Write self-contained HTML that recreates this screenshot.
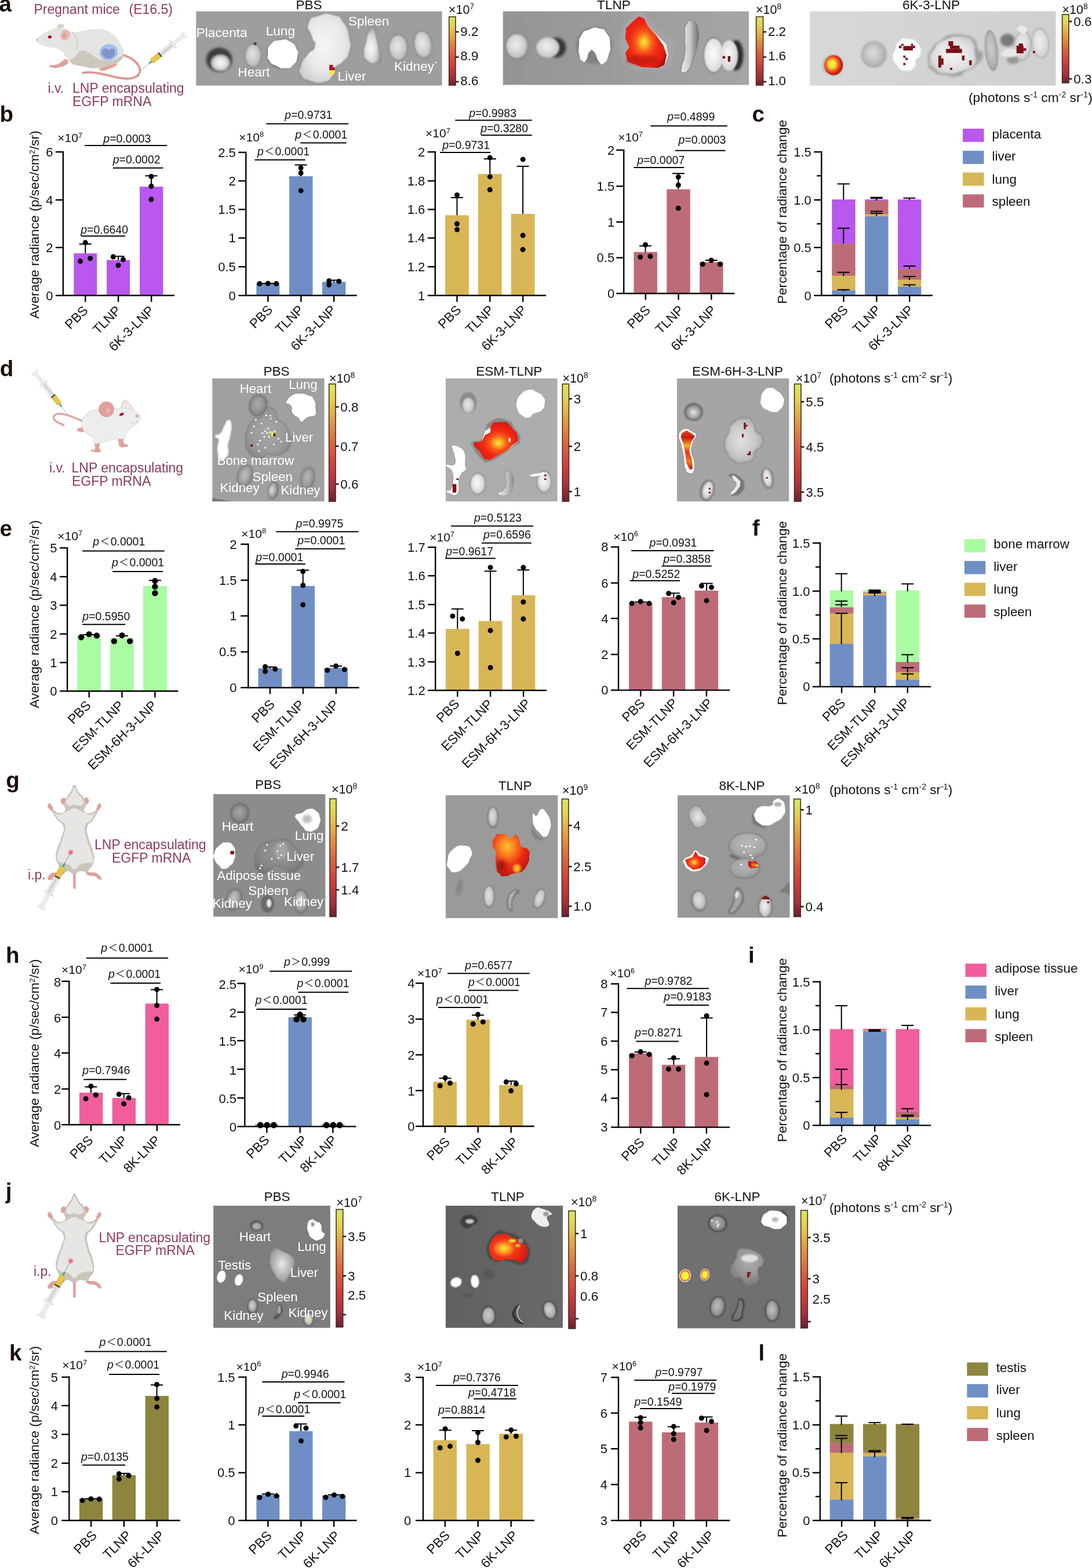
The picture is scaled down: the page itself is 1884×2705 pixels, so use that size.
<!DOCTYPE html>
<html lang="en"><head><meta charset="utf-8"><title>Figure</title>
<style>
html,body{margin:0;padding:0;background:#fff}
svg{display:block}
text{font-family:"Liberation Sans",sans-serif}
</style></head><body>
<svg width="1884" height="2705" viewBox="0 0 1884 2705" fill="#111">
<defs>
<linearGradient id="cb" x1="0" y1="0" x2="0" y2="1">
<stop offset="0" stop-color="#d9e860"/><stop offset="0.12" stop-color="#e3d450"/><stop offset="0.3" stop-color="#e3a043"/>
<stop offset="0.5" stop-color="#dc683e"/><stop offset="0.7" stop-color="#cf3f3c"/><stop offset="0.88" stop-color="#a62f3a"/><stop offset="1" stop-color="#6e1f2c"/>
</linearGradient>
<filter id="bl0" x="-30%" y="-30%" width="160%" height="160%"><feGaussianBlur stdDeviation="7"/></filter>
<radialGradient id="rg1" cx="0.5" cy="0.5" r="0.5"><stop offset="0" stop-color="rgb(250,250,250)"/><stop offset="0.6" stop-color="rgb(222,222,222)"/><stop offset="1" stop-color="rgb(160,160,160)"/></radialGradient>
<filter id="bl1" x="-30%" y="-30%" width="160%" height="160%"><feGaussianBlur stdDeviation="5"/></filter>
<filter id="bl2" x="-30%" y="-30%" width="160%" height="160%"><feGaussianBlur stdDeviation="7.5"/></filter>
<radialGradient id="rg2" cx="0.45" cy="0.45" r="0.6"><stop offset="0" stop-color="rgb(228,228,228)"/><stop offset="0.55" stop-color="rgb(204,204,204)"/><stop offset="1" stop-color="rgb(180,180,180)"/></radialGradient>
<filter id="bl3" x="-30%" y="-30%" width="160%" height="160%"><feGaussianBlur stdDeviation="2"/></filter>
<filter id="bl4" x="-30%" y="-30%" width="160%" height="160%"><feGaussianBlur stdDeviation="6"/></filter>
<filter id="bl5" x="-30%" y="-30%" width="160%" height="160%"><feGaussianBlur stdDeviation="10"/></filter>
<radialGradient id="rg3" cx="0.5" cy="0.45" r="0.62"><stop offset="0" stop-color="rgb(246,246,246)"/><stop offset="0.6" stop-color="rgb(232,232,232)"/><stop offset="1" stop-color="rgb(205,205,205)"/></radialGradient>
<filter id="bl6" x="-30%" y="-30%" width="160%" height="160%"><feGaussianBlur stdDeviation="4"/></filter>
<radialGradient id="rg4" cx="0.4" cy="0.6" r="0.6"><stop offset="0" stop-color="rgb(250,250,250)"/><stop offset="0.6" stop-color="rgb(215,215,215)"/><stop offset="1" stop-color="rgb(150,150,150)"/></radialGradient>
<filter id="bl7" x="-30%" y="-30%" width="160%" height="160%"><feGaussianBlur stdDeviation="3"/></filter>
<radialGradient id="rg5" cx="0.45" cy="0.45" r="0.6"><stop offset="0" stop-color="rgb(232,232,232)"/><stop offset="0.55" stop-color="rgb(208,208,208)"/><stop offset="1" stop-color="rgb(185,185,185)"/></radialGradient>
<radialGradient id="rg6" cx="0.45" cy="0.45" r="0.6"><stop offset="0" stop-color="rgb(235,235,235)"/><stop offset="0.55" stop-color="rgb(210,210,210)"/><stop offset="1" stop-color="rgb(185,185,185)"/></radialGradient>
<radialGradient id="rg7" cx="0.45" cy="0.45" r="0.6"><stop offset="0" stop-color="rgb(240,240,240)"/><stop offset="0.55" stop-color="rgb(212,212,212)"/><stop offset="1" stop-color="rgb(185,185,185)"/></radialGradient>
<filter id="bl8" x="-30%" y="-30%" width="160%" height="160%"><feGaussianBlur stdDeviation="8"/></filter>
<radialGradient id="rg8" cx="0.45" cy="0.45" r="0.6"><stop offset="0" stop-color="rgb(242,242,242)"/><stop offset="0.55" stop-color="rgb(216,216,216)"/><stop offset="1" stop-color="rgb(190,190,190)"/></radialGradient>
<radialGradient id="rg9" cx="0.45" cy="0.5" r="0.62"><stop offset="0" stop-color="#f4ee3c"/><stop offset="0.14" stop-color="#fdb024"/><stop offset="0.32" stop-color="#fa5a1a"/><stop offset="0.55" stop-color="#f02a14"/><stop offset="0.85" stop-color="#e01c12"/><stop offset="1" stop-color="#9c120e"/></radialGradient>
<linearGradient id="lg10" x1="0" y1="0" x2="1" y2="0"><stop offset="0" stop-color="rgb(235,235,235)"/><stop offset="0.5" stop-color="rgb(200,200,200)"/><stop offset="1" stop-color="rgb(110,110,110)"/></linearGradient>
<radialGradient id="rg11" cx="0.45" cy="0.45" r="0.6"><stop offset="0" stop-color="rgb(252,252,252)"/><stop offset="0.55" stop-color="rgb(233,233,233)"/><stop offset="1" stop-color="rgb(215,215,215)"/></radialGradient>
<radialGradient id="rg12" cx="0.45" cy="0.45" r="0.6"><stop offset="0" stop-color="rgb(250,250,250)"/><stop offset="0.55" stop-color="rgb(227,227,227)"/><stop offset="1" stop-color="rgb(205,205,205)"/></radialGradient>
<radialGradient id="rg13" cx="0.42" cy="0.45" r="0.6"><stop offset="0" stop-color="#f6f03c"/><stop offset="0.3" stop-color="#f6e03a"/><stop offset="0.5" stop-color="#f5821f"/><stop offset="0.75" stop-color="#e0261a"/><stop offset="1" stop-color="#a8140f"/></radialGradient>
<radialGradient id="rg14" cx="0.45" cy="0.45" r="0.6"><stop offset="0" stop-color="rgb(222,222,222)"/><stop offset="0.55" stop-color="rgb(196,196,196)"/><stop offset="1" stop-color="rgb(170,170,170)"/></radialGradient>
<radialGradient id="rg15" cx="0.5" cy="0.5" r="0.6"><stop offset="0" stop-color="rgb(245,245,245)"/><stop offset="0.7" stop-color="rgb(222,222,222)"/><stop offset="1" stop-color="rgb(190,190,190)"/></radialGradient>
<radialGradient id="rg16" cx="0.45" cy="0.45" r="0.6"><stop offset="0" stop-color="rgb(205,205,205)"/><stop offset="0.55" stop-color="rgb(185,185,185)"/><stop offset="1" stop-color="rgb(165,165,165)"/></radialGradient>
<radialGradient id="rg17" cx="0.45" cy="0.45" r="0.6"><stop offset="0" stop-color="rgb(240,240,240)"/><stop offset="0.55" stop-color="rgb(220,220,220)"/><stop offset="1" stop-color="rgb(200,200,200)"/></radialGradient>
<radialGradient id="rg18" cx="0.45" cy="0.45" r="0.6"><stop offset="0" stop-color="rgb(240,240,240)"/><stop offset="0.55" stop-color="rgb(222,222,222)"/><stop offset="1" stop-color="rgb(205,205,205)"/></radialGradient>
<filter id="bl9" x="-30%" y="-30%" width="160%" height="160%"><feGaussianBlur stdDeviation="12.0"/></filter>
<radialGradient id="rg19" cx="0.45" cy="0.45" r="0.6"><stop offset="0" stop-color="rgb(172,172,172)"/><stop offset="0.55" stop-color="rgb(150,150,150)"/><stop offset="1" stop-color="rgb(128,128,128)"/></radialGradient>
<radialGradient id="rg20" cx="0.5" cy="0.5" r="0.6"><stop offset="0" stop-color="rgb(168,168,168)"/><stop offset="0.7" stop-color="rgb(152,152,152)"/><stop offset="1" stop-color="rgb(132,132,132)"/></radialGradient>
<radialGradient id="rg21" cx="0.45" cy="0.45" r="0.6"><stop offset="0" stop-color="rgb(195,195,195)"/><stop offset="0.55" stop-color="rgb(165,165,165)"/><stop offset="1" stop-color="rgb(135,135,135)"/></radialGradient>
<filter id="bl10" x="-30%" y="-30%" width="160%" height="160%"><feGaussianBlur stdDeviation="10.5"/></filter>
<radialGradient id="rg22" cx="0.35" cy="0.5" r="0.6"><stop offset="0" stop-color="rgb(225,225,225)"/><stop offset="0.55" stop-color="rgb(177,177,177)"/><stop offset="1" stop-color="rgb(130,130,130)"/></radialGradient>
<radialGradient id="rg23" cx="0.45" cy="0.45" r="0.6"><stop offset="0" stop-color="rgb(185,185,185)"/><stop offset="0.55" stop-color="rgb(160,160,160)"/><stop offset="1" stop-color="rgb(135,135,135)"/></radialGradient>
<radialGradient id="rg24" cx="0.45" cy="0.45" r="0.6"><stop offset="0" stop-color="rgb(235,235,235)"/><stop offset="0.55" stop-color="rgb(210,210,210)"/><stop offset="1" stop-color="rgb(185,185,185)"/></radialGradient>
<radialGradient id="rg25" cx="0.55" cy="0.55" r="0.6"><stop offset="0" stop-color="#f4ee3c"/><stop offset="0.14" stop-color="#fdb024"/><stop offset="0.32" stop-color="#fa5a1a"/><stop offset="0.55" stop-color="#f02a14"/><stop offset="0.85" stop-color="#e01c12"/><stop offset="1" stop-color="#9c120e"/></radialGradient>
<filter id="bl11" x="-30%" y="-30%" width="160%" height="160%"><feGaussianBlur stdDeviation="9.0"/></filter>
<radialGradient id="rg26" cx="0.45" cy="0.45" r="0.6"><stop offset="0" stop-color="rgb(250,250,250)"/><stop offset="0.55" stop-color="rgb(227,227,227)"/><stop offset="1" stop-color="rgb(205,205,205)"/></radialGradient>
<linearGradient id="lg27" x1="0" y1="0" x2="1" y2="0"><stop offset="0" stop-color="rgb(235,235,235)"/><stop offset="0.6" stop-color="rgb(190,190,190)"/><stop offset="1" stop-color="rgb(140,140,140)"/></linearGradient>
<radialGradient id="rg28" cx="0.45" cy="0.45" r="0.6"><stop offset="0" stop-color="rgb(250,250,250)"/><stop offset="0.55" stop-color="rgb(227,227,227)"/><stop offset="1" stop-color="rgb(205,205,205)"/></radialGradient>
<radialGradient id="rg29" cx="0.5" cy="0.5" r="0.55"><stop offset="0" stop-color="rgb(245,245,245)"/><stop offset="0.3" stop-color="rgb(200,200,200)"/><stop offset="1" stop-color="rgb(130,130,130)"/></radialGradient>
<linearGradient id="lg30" x1="0" y1="0" x2="0" y2="1"><stop offset="0" stop-color="#f04a18"/><stop offset="0.18" stop-color="#c41a12"/><stop offset="0.4" stop-color="#f8b028"/><stop offset="0.55" stop-color="#e8321a"/><stop offset="0.8" stop-color="#f27a1e"/><stop offset="1" stop-color="#c21912"/></linearGradient>
<radialGradient id="rg31" cx="0.45" cy="0.5" r="0.6"><stop offset="0" stop-color="rgb(225,225,225)"/><stop offset="0.6" stop-color="rgb(200,200,200)"/><stop offset="1" stop-color="rgb(165,165,165)"/></radialGradient>
<radialGradient id="rg32" cx="0.45" cy="0.45" r="0.6"><stop offset="0" stop-color="rgb(250,250,250)"/><stop offset="0.55" stop-color="rgb(220,220,220)"/><stop offset="1" stop-color="rgb(190,190,190)"/></radialGradient>
<radialGradient id="rg33" cx="0.45" cy="0.45" r="0.6"><stop offset="0" stop-color="rgb(250,250,250)"/><stop offset="0.55" stop-color="rgb(220,220,220)"/><stop offset="1" stop-color="rgb(190,190,190)"/></radialGradient>
<radialGradient id="rg34" cx="0.45" cy="0.45" r="0.6"><stop offset="0" stop-color="rgb(168,168,168)"/><stop offset="0.55" stop-color="rgb(143,143,143)"/><stop offset="1" stop-color="rgb(118,118,118)"/></radialGradient>
<radialGradient id="rg35" cx="0.5" cy="0.4" r="0.6"><stop offset="0" stop-color="rgb(150,150,150)"/><stop offset="0.7" stop-color="rgb(135,135,135)"/><stop offset="1" stop-color="rgb(120,120,120)"/></radialGradient>
<filter id="bl12" x="-30%" y="-30%" width="160%" height="160%"><feGaussianBlur stdDeviation="15"/></filter>
<radialGradient id="rg36" cx="0.45" cy="0.45" r="0.6"><stop offset="0" stop-color="rgb(200,200,200)"/><stop offset="0.55" stop-color="rgb(165,165,165)"/><stop offset="1" stop-color="rgb(130,130,130)"/></radialGradient>
<radialGradient id="rg37" cx="0.45" cy="0.45" r="0.6"><stop offset="0" stop-color="rgb(215,215,215)"/><stop offset="0.55" stop-color="rgb(172,172,172)"/><stop offset="1" stop-color="rgb(130,130,130)"/></radialGradient>
<radialGradient id="rg38" cx="0.45" cy="0.45" r="0.6"><stop offset="0" stop-color="rgb(225,225,225)"/><stop offset="0.55" stop-color="rgb(200,200,200)"/><stop offset="1" stop-color="rgb(175,175,175)"/></radialGradient>
<radialGradient id="rg39" cx="0.4" cy="0.3" r="0.75"><stop offset="0" stop-color="#f9c52c"/><stop offset="0.3" stop-color="#fb7a1e"/><stop offset="0.6" stop-color="#ee2a16"/><stop offset="1" stop-color="#b2150f"/></radialGradient>
<filter id="bl13" x="-30%" y="-30%" width="160%" height="160%"><feGaussianBlur stdDeviation="18"/></filter>
<radialGradient id="rg40" cx="0.45" cy="0.45" r="0.6"><stop offset="0" stop-color="rgb(225,225,225)"/><stop offset="0.55" stop-color="rgb(207,207,207)"/><stop offset="1" stop-color="rgb(190,190,190)"/></radialGradient>
<radialGradient id="rg41" cx="0.45" cy="0.45" r="0.6"><stop offset="0" stop-color="rgb(225,225,225)"/><stop offset="0.55" stop-color="rgb(205,205,205)"/><stop offset="1" stop-color="rgb(185,185,185)"/></radialGradient>
<radialGradient id="rg42" cx="0.5" cy="0.5" r="0.6"><stop offset="0" stop-color="rgb(235,235,235)"/><stop offset="0.6" stop-color="rgb(195,195,195)"/><stop offset="1" stop-color="rgb(160,160,160)"/></radialGradient>
<radialGradient id="rg43" cx="0.45" cy="0.6" r="0.6"><stop offset="0" stop-color="#f4ee3c"/><stop offset="0.14" stop-color="#fdb024"/><stop offset="0.32" stop-color="#fa5a1a"/><stop offset="0.55" stop-color="#f02a14"/><stop offset="0.85" stop-color="#e01c12"/><stop offset="1" stop-color="#9c120e"/></radialGradient>
<radialGradient id="rg44" cx="0.5" cy="0.4" r="0.6"><stop offset="0" stop-color="rgb(185,185,185)"/><stop offset="0.7" stop-color="rgb(168,168,168)"/><stop offset="1" stop-color="rgb(150,150,150)"/></radialGradient>
<radialGradient id="rg45" cx="0.5" cy="0.4" r="0.6"><stop offset="0" stop-color="rgb(180,180,180)"/><stop offset="0.7" stop-color="rgb(165,165,165)"/><stop offset="1" stop-color="rgb(145,145,145)"/></radialGradient>
<radialGradient id="rg46" cx="0.6" cy="0.55" r="0.6"><stop offset="0" stop-color="#f8a024"/><stop offset="0.5" stop-color="#ee2a16"/><stop offset="1" stop-color="#b2150f"/></radialGradient>
<radialGradient id="rg47" cx="0.45" cy="0.45" r="0.6"><stop offset="0" stop-color="rgb(225,225,225)"/><stop offset="0.55" stop-color="rgb(202,202,202)"/><stop offset="1" stop-color="rgb(180,180,180)"/></radialGradient>
<radialGradient id="rg48" cx="0.45" cy="0.45" r="0.6"><stop offset="0" stop-color="rgb(245,245,245)"/><stop offset="0.55" stop-color="rgb(215,215,215)"/><stop offset="1" stop-color="rgb(185,185,185)"/></radialGradient>
<radialGradient id="rg49" cx="0.5" cy="0.45" r="0.6"><stop offset="0" stop-color="rgb(235,235,235)"/><stop offset="0.45" stop-color="rgb(190,190,190)"/><stop offset="1" stop-color="rgb(140,140,140)"/></radialGradient>
<radialGradient id="rg50" cx="0.45" cy="0.45" r="0.6"><stop offset="0" stop-color="rgb(215,215,215)"/><stop offset="0.55" stop-color="rgb(182,182,182)"/><stop offset="1" stop-color="rgb(150,150,150)"/></radialGradient>
<radialGradient id="rg51" cx="0.45" cy="0.45" r="0.6"><stop offset="0" stop-color="rgb(235,235,235)"/><stop offset="0.55" stop-color="rgb(202,202,202)"/><stop offset="1" stop-color="rgb(170,170,170)"/></radialGradient>
<radialGradient id="rg52" cx="0.38" cy="0.5" r="0.6"><stop offset="0" stop-color="#f6e83a"/><stop offset="0.25" stop-color="#fb9a22"/><stop offset="0.5" stop-color="#f4361a"/><stop offset="1" stop-color="#d81c14"/></radialGradient>
<radialGradient id="rg53" cx="0.45" cy="0.45" r="0.6"><stop offset="0" stop-color="rgb(205,205,205)"/><stop offset="0.55" stop-color="rgb(177,177,177)"/><stop offset="1" stop-color="rgb(150,150,150)"/></radialGradient>
<radialGradient id="rg54" cx="0.45" cy="0.45" r="0.6"><stop offset="0" stop-color="rgb(215,215,215)"/><stop offset="0.55" stop-color="rgb(182,182,182)"/><stop offset="1" stop-color="rgb(150,150,150)"/></radialGradient>
<radialGradient id="rg55" cx="0.45" cy="0.45" r="0.6"><stop offset="0" stop-color="rgb(175,175,175)"/><stop offset="0.55" stop-color="rgb(150,150,150)"/><stop offset="1" stop-color="rgb(125,125,125)"/></radialGradient>
<radialGradient id="rg56" cx="0.5" cy="0.5" r="0.5"><stop offset="0" stop-color="#f4f436"/><stop offset="0.6" stop-color="#f4f436"/><stop offset="0.85" stop-color="#f2901e"/><stop offset="1" stop-color="#c4160f"/></radialGradient>
<radialGradient id="rg57" cx="0.5" cy="0.5" r="0.5"><stop offset="0" stop-color="#f4f436"/><stop offset="0.6" stop-color="#f4f436"/><stop offset="0.85" stop-color="#f2901e"/><stop offset="1" stop-color="#c4160f"/></radialGradient>
<radialGradient id="rg58" cx="0.55" cy="0.35" r="0.6"><stop offset="0" stop-color="rgb(175,175,175)"/><stop offset="0.6" stop-color="rgb(150,150,150)"/><stop offset="1" stop-color="rgb(125,125,125)"/></radialGradient>
<radialGradient id="rg59" cx="0.45" cy="0.45" r="0.6"><stop offset="0" stop-color="rgb(190,190,190)"/><stop offset="0.55" stop-color="rgb(160,160,160)"/><stop offset="1" stop-color="rgb(130,130,130)"/></radialGradient>
<radialGradient id="rg60" cx="0.45" cy="0.45" r="0.6"><stop offset="0" stop-color="rgb(195,195,195)"/><stop offset="0.55" stop-color="rgb(162,162,162)"/><stop offset="1" stop-color="rgb(130,130,130)"/></radialGradient>
<radialGradient id="rg61" cx="0.5" cy="0.5" r="0.5"><stop offset="0" stop-color="#e85060"/><stop offset="0.5" stop-color="#ee8a92"/><stop offset="1" stop-color="#e7e6e4"/></radialGradient>
<radialGradient id="rg62" cx="0.5" cy="0.5" r="0.5"><stop offset="0" stop-color="#e85060"/><stop offset="0.5" stop-color="#ee8a92"/><stop offset="1" stop-color="#e7e6e4"/></radialGradient>
</defs>
<rect width="1884" height="2705" fill="#fff"/>
<rect x="338.3" y="19.6" width="424.3" height="128.0" fill="rgb(158,158,158)"/>
<clipPath id="cpa1"><rect x="338.3" y="19.6" width="424.3" height="128.0"/></clipPath>
<g clip-path="url(#cpa1)">
<g transform="translate(330 10) scale(0.27517)">
<ellipse cx="175" cy="338" rx="82" ry="76" fill="rgb(62,62,62)" filter="url(#bl0)"/>
<ellipse cx="183" cy="358" rx="62" ry="54" fill="url(#rg1)" filter="url(#bl1)"/>
<ellipse cx="388" cy="312" rx="51.84" ry="75.60000000000001" fill="rgb(130,130,130)" filter="url(#bl2)"/>
<ellipse cx="388" cy="312" rx="48" ry="70" fill="url(#rg2)" filter="url(#bl1)"/>
<ellipse cx="400" cy="238" rx="10" ry="8" fill="rgb(60,60,60)" filter="url(#bl3)"/>
<ellipse cx="572" cy="305" rx="100" ry="92" fill="rgb(120,120,120)" filter="url(#bl4)"/>
<path d="M480 300C483 265 473 268 500 240C527 212 520 220 560 215C600 210 587 207 620 225C653 243 645 238 660 270C675 302 672 287 665 320C658 353 665 346 640 370C615 394 627 390 590 392C553 394 563 391 530 375C497 359 507 370 490 345C473 320 477 335 480 300Z" fill="#fff" filter="url(#bl3)"/>
<path d="M735 110C750 67 748 79 800 62C852 45 838 44 890 58C942 72 922 58 955 105C988 152 978 138 990 200C1002 262 1003 240 990 290C977 340 978 318 950 350C922 382 927 355 905 385C883 415 910 409 885 440C860 471 877 468 830 478C783 488 792 485 745 470C698 455 706 465 688 432C670 399 676 412 690 370C704 328 702 343 730 305C758 267 767 293 775 255C783 217 768 238 755 190C742 142 720 153 735 110Z" fill="rgb(120,120,120)" filter="url(#bl5)"/>
<path d="M735 110C750 67 748 79 800 62C852 45 838 44 890 58C942 72 922 58 955 105C988 152 978 138 990 200C1002 262 1003 240 990 290C977 340 978 318 950 350C922 382 927 355 905 385C883 415 910 409 885 440C860 471 877 468 830 478C783 488 792 485 745 470C698 455 706 465 688 432C670 399 676 412 690 370C704 328 702 343 730 305C758 267 767 293 775 255C783 217 768 238 755 190C742 142 720 153 735 110Z" fill="url(#rg3)" filter="url(#bl6)"/>
<rect x="866" y="370" width="22" height="34" fill="#b0121c"/>
<rect x="866" y="386" width="34" height="18" fill="#b0121c"/>
<rect x="866" y="404" width="34" height="18" fill="#f2ee3c"/>
<rect x="866" y="420" width="22" height="16" fill="#f2ee3c"/>
<path d="M1120 150C1138 120 1137 123 1150 140C1163 157 1150 150 1160 200C1170 250 1172 243 1180 290C1188 337 1195 317 1185 340C1175 363 1178 360 1150 360C1122 360 1123 360 1100 340C1077 320 1084 337 1082 300C1080 263 1082 280 1095 230C1108 180 1102 180 1120 150Z" fill="rgb(110,110,110)" filter="url(#bl4)"/>
<path d="M1120 150C1138 120 1137 123 1150 140C1163 157 1150 150 1160 200C1170 250 1172 243 1180 290C1188 337 1195 317 1185 340C1175 363 1178 360 1150 360C1122 360 1123 360 1100 340C1077 320 1084 337 1082 300C1080 263 1082 280 1095 230C1108 180 1102 180 1120 150Z" fill="url(#rg4)" filter="url(#bl7)"/>
<ellipse cx="1297" cy="262" rx="59.400000000000006" ry="84.24000000000001" fill="rgb(128,128,128)" filter="url(#bl2)"/>
<ellipse cx="1297" cy="262" rx="55" ry="78" fill="url(#rg5)" filter="url(#bl1)"/>
<ellipse cx="1452" cy="242" rx="56.160000000000004" ry="88.56" fill="rgb(128,128,128)" transform="rotate(-8 1452 242)" filter="url(#bl2)"/>
<ellipse cx="1452" cy="242" rx="52" ry="82" fill="url(#rg6)" transform="rotate(-8 1452 242)" filter="url(#bl1)"/>
<text x="32" y="198" font-size="82" fill="#fff">Placenta</text>
<text x="292" y="443" font-size="82" fill="#fff">Heart</text>
<text x="468" y="185" font-size="82" fill="#fff">Lung</text>
<text x="985" y="125" font-size="82" fill="#fff">Spleen</text>
<text x="918" y="468" font-size="82" fill="#fff">Liver</text>
<text x="1272" y="408" font-size="82" fill="#fff">Kidney</text>
<rect x="1526" y="352" width="14" height="6" fill="#fff"/>
</g>
</g>
<text x="533.0" y="16.3" font-size="22.6" text-anchor="middle">PBS</text>
<rect x="774.7" y="29.0" width="11.3" height="118.0" fill="url(#cb)" stroke="#40302c" stroke-width="1.6"/>
<path d="M785.5 55.0L791.5 55.0" stroke="#2a1c1c" stroke-width="2.6"/>
<text x="794.3" y="61.9" font-size="22.4">9.2</text>
<path d="M785.5 98.5L791.5 98.5" stroke="#2a1c1c" stroke-width="2.6"/>
<text x="794.3" y="104.4" font-size="22.4">8.9</text>
<path d="M785.5 141.0L791.5 141.0" stroke="#2a1c1c" stroke-width="2.6"/>
<text x="794.3" y="146.9" font-size="22.4">8.6</text>
<text x="774.0" y="23.8" font-size="21.5">×10<tspan font-size="13.8" dy="-7.7">7</tspan></text>
<linearGradient id="pga2" x1="0" y1="0" x2="1" y2="0"><stop offset="0" stop-color="rgb(148,148,148)"/><stop offset="1" stop-color="rgb(165,165,165)"/></linearGradient>
<rect x="867.7" y="19.6" width="424.3" height="126.9" fill="url(#pga2)"/>
<clipPath id="cpa2"><rect x="867.7" y="19.6" width="424.3" height="126.9"/></clipPath>
<g clip-path="url(#cpa2)">
<g transform="translate(860 10) scale(0.27517)">
<ellipse cx="115" cy="252" rx="71.28" ry="82.08000000000001" fill="rgb(125,125,125)" filter="url(#bl2)"/>
<ellipse cx="115" cy="252" rx="66" ry="76" fill="url(#rg7)" filter="url(#bl1)"/>
<ellipse cx="365" cy="262" rx="58" ry="62" fill="rgb(55,55,55)" filter="url(#bl8)"/>
<ellipse cx="310" cy="262" rx="72" ry="64" fill="url(#rg8)" filter="url(#bl1)"/>
<ellipse cx="600" cy="250" rx="112" ry="115" fill="rgb(128,128,128)" filter="url(#bl8)"/>
<path d="M505 250C509 208 498 219 520 185C542 151 533 162 570 148C607 134 593 133 630 142C667 151 657 142 680 175C703 208 697 195 700 240C703 285 703 270 690 310C677 350 680 347 660 360C640 373 650 373 630 350C610 327 620 310 600 290C580 270 587 273 570 290C553 307 565 322 550 340C535 358 539 355 525 345C511 335 515 342 508 310C501 278 501 292 505 250Z" fill="#fff" filter="url(#bl3)"/>
<path d="M870 40C913 23 887 23 930 60C973 97 947 98 1000 150C1053 202 1057 165 1090 215C1123 265 1110 242 1100 300C1090 358 1110 357 1060 390C1010 423 1027 402 950 400C873 398 890 418 830 385C770 352 790 368 770 300C750 232 760 243 770 180C780 117 767 157 800 110C833 63 827 57 870 40Z" fill="rgb(165,165,165)" filter="url(#bl8)"/>
<path d="M880 65L915 80L935 125L990 180L1050 240L1065 310L1040 370L1000 390L900 385L810 350L795 295L820 260L795 205L800 140L840 100Z" fill="#fff"/>
<path d="M880 65L915 80L935 125L990 185L1035 250L1055 310L1040 370L1000 390L900 385L810 350L795 295L820 260L795 205L800 140L840 100Z" fill="url(#rg9)"/>
<ellipse cx="900" cy="340" rx="100" ry="30" fill="#b5130f" filter="url(#bl5)" opacity="0.6"/>
<path d="M1180 115C1198 83 1202 93 1225 105C1248 117 1243 102 1250 150C1257 198 1257 187 1245 250C1233 313 1233 290 1215 340C1197 390 1210 375 1190 400C1170 425 1168 420 1155 415C1142 410 1145 423 1150 385C1155 347 1163 362 1170 300C1177 238 1167 262 1170 200C1173 138 1162 147 1180 115Z" fill="rgb(100,100,100)" filter="url(#bl1)"/>
<path d="M1180 115C1198 83 1202 93 1225 105C1248 117 1243 102 1250 150C1257 198 1257 187 1245 250C1233 313 1233 290 1215 340C1197 390 1210 375 1190 400C1170 425 1168 420 1155 415C1142 410 1145 423 1150 385C1155 347 1163 362 1170 300C1177 238 1167 262 1170 200C1173 138 1162 147 1180 115Z" fill="url(#lg10)" filter="url(#bl3)"/>
<ellipse cx="1490" cy="310" rx="45" ry="95" fill="rgb(45,45,45)" filter="url(#bl0)"/>
<ellipse cx="1350" cy="310" rx="64.80000000000001" ry="113.4" fill="rgb(130,130,130)" filter="url(#bl4)"/>
<ellipse cx="1350" cy="310" rx="60" ry="105" fill="url(#rg11)" filter="url(#bl6)"/>
<ellipse cx="1447" cy="312" rx="55" ry="96" fill="url(#rg12)" filter="url(#bl6)"/>
<rect x="1405" y="315" width="16" height="16" fill="#7c0f16"/>
<rect x="1438" y="315" width="16" height="36" fill="#7c0f16"/>
</g>
</g>
<text x="1059.0" y="16.3" font-size="22.6" text-anchor="middle">TLNP</text>
<rect x="1304.6" y="29.0" width="12.0" height="118.0" fill="url(#cb)" stroke="#40302c" stroke-width="1.6"/>
<path d="M1316.1 55.0L1322.1 55.0" stroke="#2a1c1c" stroke-width="2.6"/>
<text x="1324.9" y="61.9" font-size="22.4">2.2</text>
<path d="M1316.1 98.5L1322.1 98.5" stroke="#2a1c1c" stroke-width="2.6"/>
<text x="1324.9" y="104.4" font-size="22.4">1.6</text>
<path d="M1316.1 141.0L1322.1 141.0" stroke="#2a1c1c" stroke-width="2.6"/>
<text x="1324.9" y="146.9" font-size="22.4">1.0</text>
<text x="1304.0" y="23.8" font-size="21.5">×10<tspan font-size="13.8" dy="-7.7">8</tspan></text>
<linearGradient id="pga3" x1="0" y1="0" x2="1" y2="0"><stop offset="0" stop-color="rgb(216,216,216)"/><stop offset="1" stop-color="rgb(207,207,207)"/></linearGradient>
<rect x="1397.3" y="19.6" width="424.2" height="128.0" fill="url(#pga3)"/>
<clipPath id="cpa3"><rect x="1397.3" y="19.6" width="424.2" height="128.0"/></clipPath>
<g clip-path="url(#cpa3)">
<g transform="translate(1390 10) scale(0.27517)">
<ellipse cx="172" cy="372" rx="68" ry="68" fill="rgb(185,185,185)" filter="url(#bl1)"/>
<ellipse cx="175" cy="372" rx="58" ry="62" fill="url(#rg13)"/>
<ellipse cx="428" cy="305" rx="77.76" ry="81.0" fill="rgb(160,160,160)" filter="url(#bl2)"/>
<ellipse cx="428" cy="305" rx="72" ry="75" fill="url(#rg14)" filter="url(#bl1)"/>
<path d="M560 280C572 248 558 249 585 225C612 201 602 205 640 208C678 211 673 204 700 235C727 266 723 265 720 300C717 335 703 312 690 340C677 368 703 363 680 385C657 407 657 410 620 405C583 400 594 398 570 370C546 342 551 350 548 320C545 290 548 312 560 280Z" fill="#fff" filter="url(#bl7)"/>
<rect x="585" y="250" width="16" height="16" fill="#7c0f16"/>
<rect x="600" y="238" width="14" height="12" fill="#7c0f16"/>
<rect x="612" y="252" width="60" height="28" fill="#7c0f16"/>
<rect x="660" y="238" width="14" height="12" fill="#7c0f16"/>
<rect x="672" y="250" width="14" height="16" fill="#7c0f16"/>
<rect x="612" y="312" width="14" height="14" fill="#7c0f16"/>
<rect x="626" y="326" width="14" height="14" fill="#7c0f16"/>
<rect x="612" y="358" width="14" height="14" fill="#7c0f16"/>
<path d="M790 270C820 223 823 238 860 210C897 182 853 193 900 185C947 177 947 175 1000 185C1053 195 1033 187 1060 215C1087 243 1063 238 1080 270C1097 302 1117 273 1110 310C1103 347 1097 347 1060 380C1023 413 1033 390 1000 410C967 430 1000 432 960 440C920 448 933 445 880 435C827 425 837 438 800 410C763 382 773 397 770 350C767 303 760 317 790 270Z" fill="rgb(160,160,160)" filter="url(#bl8)"/>
<path d="M800 280C830 238 803 243 870 215C937 187 940 190 1000 195C1060 200 1030 198 1050 230C1070 262 1057 243 1060 290C1063 337 1083 332 1060 370C1037 408 1050 387 990 405C930 423 943 430 880 425C817 420 833 418 800 390C767 362 780 377 780 340C780 303 770 322 800 280Z" fill="url(#rg15)" filter="url(#bl1)"/>
<rect x="895" y="222" width="30" height="30" fill="#7c0f16"/>
<rect x="905" y="250" width="60" height="20" fill="#7c0f16"/>
<rect x="880" y="270" width="100" height="26" fill="#7c0f16"/>
<rect x="832" y="312" width="18" height="75" fill="#7c0f16"/>
<rect x="850" y="330" width="14" height="40" fill="#7c0f16"/>
<rect x="980" y="312" width="16" height="30" fill="#7c0f16"/>
<rect x="1025" y="342" width="16" height="30" fill="#7c0f16"/>
<rect x="905" y="388" width="14" height="14" fill="#7c0f16"/>
<ellipse cx="1165" cy="280" rx="38.88" ry="127.44000000000001" fill="rgb(140,140,140)" transform="rotate(-6 1165 280)" filter="url(#bl4)"/>
<ellipse cx="1165" cy="280" rx="36" ry="118" fill="url(#rg16)" transform="rotate(-6 1165 280)" filter="url(#bl6)"/>
<ellipse cx="1265" cy="215" rx="45" ry="40" fill="rgb(120,120,120)" filter="url(#bl8)"/>
<ellipse cx="1300" cy="340" rx="40" ry="25" fill="rgb(150,150,150)" filter="url(#bl8)"/>
<ellipse cx="1360" cy="250" rx="54.0" ry="95.04" fill="rgb(165,165,165)" transform="rotate(5 1360 250)" filter="url(#bl4)"/>
<ellipse cx="1360" cy="250" rx="50" ry="88" fill="url(#rg17)" transform="rotate(5 1360 250)" filter="url(#bl6)"/>
<ellipse cx="1472" cy="235" rx="54.0" ry="95.04" fill="rgb(170,170,170)" transform="rotate(-5 1472 235)" filter="url(#bl4)"/>
<ellipse cx="1472" cy="235" rx="50" ry="88" fill="url(#rg18)" transform="rotate(-5 1472 235)" filter="url(#bl6)"/>
<path d="M1330 135C1337 122 1352 122 1370 130C1388 138 1392 147 1385 160C1378 173 1368 178 1350 170C1332 162 1323 148 1330 135Z" fill="rgb(235,235,235)" filter="url(#bl7)"/>
<path d="M1230 290C1243 273 1263 267 1300 270C1337 273 1353 283 1340 300C1327 317 1297 323 1260 320C1223 317 1217 307 1230 290Z" fill="rgb(232,232,232)" filter="url(#bl6)"/>
<rect x="1322" y="250" width="44" height="48" fill="#7c0f16"/>
<rect x="1336" y="236" width="26" height="16" fill="#7c0f16"/>
<rect x="1366" y="266" width="16" height="16" fill="#7c0f16"/>
<rect x="1425" y="283" width="14" height="14" fill="#7c0f16"/>
</g>
</g>
<text x="1606.5" y="16.3" font-size="22.6" text-anchor="middle">6K-3-LNP</text>
<rect x="1832.6" y="25.0" width="11.4" height="118.0" fill="url(#cb)" stroke="#40302c" stroke-width="1.6"/>
<path d="M1843.5 37.0L1849.5 37.0" stroke="#2a1c1c" stroke-width="2.6"/>
<text x="1852.3" y="44.9" font-size="22.4">0.6</text>
<path d="M1843.5 136.0L1849.5 136.0" stroke="#2a1c1c" stroke-width="2.6"/>
<text x="1852.3" y="143.9" font-size="22.4">0.3</text>
<text x="1832.5" y="23.8" font-size="21.5">×10<tspan font-size="13.8" dy="-7.7">8</tspan></text>
<text x="1671.0" y="176.0" font-size="22.8">(photons s<tspan font-size="14.1" dy="-8.2">-1</tspan><tspan dy="8.2"> cm</tspan><tspan font-size="14.1" dy="-8.2">-2</tspan><tspan dy="8.2"> sr</tspan><tspan font-size="14.1" dy="-8.2">-1</tspan><tspan dy="8.2">)</tspan></text>
<rect x="366.3" y="652.8" width="193.3" height="212.2" fill="rgb(160,160,160)"/>
<clipPath id="cpd1"><rect x="366.3" y="652.8" width="193.3" height="212.2"/></clipPath>
<g clip-path="url(#cpd1)">
<g transform="translate(360 640) scale(0.16260)">
<ellipse cx="525" cy="365" rx="91.80000000000001" ry="113.4" fill="rgb(92,92,92)" transform="rotate(15 525 365)" filter="url(#bl9)"/>
<ellipse cx="525" cy="365" rx="85" ry="105" fill="url(#rg19)" transform="rotate(15 525 365)" filter="url(#bl8)"/>
<path d="M825 335C825 302 825 302 870 270C915 238 897 243 960 240C1023 237 1005 230 1060 260C1115 290 1102 260 1125 330C1148 400 1155 417 1130 470C1105 523 1098 468 1050 490C1002 512 1018 532 985 535C952 538 983 532 950 500C917 468 912 483 885 440C858 397 890 405 870 370C850 335 825 368 825 335Z" fill="rgb(125,125,125)" filter="url(#bl8)" opacity="0.6"/>
<path d="M825 335C831 311 830 298 870 270C910 242 903 243 960 240C1017 237 1014 242 1060 260C1106 278 1092 258 1115 300C1138 342 1132 349 1135 400C1138 451 1150 443 1125 470C1100 497 1092 470 1050 490C1008 510 1014 532 985 535C956 538 984 527 955 500C926 473 912 481 890 445C868 409 892 408 880 380C868 352 866 364 850 350C834 336 819 359 825 335Z" fill="#fff" filter="url(#bl7)"/>
<path d="M600 420C633 387 623 383 660 390C697 397 687 400 710 440C733 480 700 470 730 510C760 550 760 513 800 560C840 607 827 583 850 650C873 717 887 690 870 760C853 830 857 817 800 860C743 903 760 887 700 890C640 893 657 863 620 870C583 877 630 897 590 910C550 923 557 930 500 910C443 890 455 907 420 850C385 793 395 823 395 740C395 657 392 673 420 600C448 527 433 557 480 520C527 483 520 523 560 490C600 457 567 453 600 420Z" fill="rgb(100,100,100)" filter="url(#bl5)"/>
<path d="M600 420C633 387 623 383 660 390C697 397 687 400 710 440C733 480 700 470 730 510C760 550 760 513 800 560C840 607 827 583 850 650C873 717 887 690 870 760C853 830 857 817 800 860C743 903 760 887 700 890C640 893 657 863 620 870C583 877 630 897 590 910C550 923 557 930 500 910C443 890 455 907 420 850C385 793 395 823 395 740C395 657 392 673 420 600C448 527 433 557 480 520C527 483 520 523 560 490C600 457 567 453 600 420Z" fill="url(#rg20)" filter="url(#bl1)"/>
<ellipse cx="500" cy="520" rx="9" ry="9" fill="#fff" filter="url(#bl3)"/>
<ellipse cx="560" cy="560" rx="9" ry="9" fill="#fff" filter="url(#bl3)"/>
<ellipse cx="610" cy="470" rx="9" ry="9" fill="#fff" filter="url(#bl3)"/>
<ellipse cx="655" cy="475" rx="9" ry="9" fill="#fff" filter="url(#bl3)"/>
<ellipse cx="660" cy="505" rx="9" ry="9" fill="#fff" filter="url(#bl3)"/>
<ellipse cx="600" cy="640" rx="9" ry="9" fill="#fff" filter="url(#bl3)"/>
<ellipse cx="630" cy="610" rx="9" ry="9" fill="#fff" filter="url(#bl3)"/>
<ellipse cx="570" cy="660" rx="9" ry="9" fill="#fff" filter="url(#bl3)"/>
<ellipse cx="640" cy="700" rx="9" ry="9" fill="#fff" filter="url(#bl3)"/>
<ellipse cx="545" cy="740" rx="9" ry="9" fill="#fff" filter="url(#bl3)"/>
<ellipse cx="520" cy="780" rx="9" ry="9" fill="#fff" filter="url(#bl3)"/>
<ellipse cx="600" cy="815" rx="9" ry="9" fill="#fff" filter="url(#bl3)"/>
<ellipse cx="700" cy="640" rx="9" ry="9" fill="#fff" filter="url(#bl3)"/>
<ellipse cx="720" cy="540" rx="9" ry="9" fill="#fff" filter="url(#bl3)"/>
<ellipse cx="740" cy="720" rx="9" ry="9" fill="#fff" filter="url(#bl3)"/>
<ellipse cx="770" cy="750" rx="9" ry="9" fill="#fff" filter="url(#bl3)"/>
<ellipse cx="690" cy="780" rx="9" ry="9" fill="#fff" filter="url(#bl3)"/>
<ellipse cx="480" cy="590" rx="9" ry="9" fill="#fff" filter="url(#bl3)"/>
<ellipse cx="455" cy="655" rx="9" ry="9" fill="#fff" filter="url(#bl3)"/>
<ellipse cx="535" cy="850" rx="9" ry="9" fill="#fff" filter="url(#bl3)"/>
<ellipse cx="620" cy="660" rx="9" ry="9" fill="#fff" filter="url(#bl3)"/>
<ellipse cx="650" cy="650" rx="9" ry="9" fill="#fff" filter="url(#bl3)"/>
<ellipse cx="590" cy="700" rx="9" ry="9" fill="#fff" filter="url(#bl3)"/>
<rect x="662" y="642" width="24" height="48" fill="#e6ee3a"/>
<rect x="686" y="666" width="24" height="24" fill="#5a0a10"/>
<rect x="444" y="778" width="24" height="24" fill="#7c0f16"/>
<path d="M205 520C231 513 233 507 242 560C251 613 244 603 232 680C220 757 212 730 205 790C198 850 220 815 212 860C204 905 211 901 180 925C149 949 149 964 120 932C91 900 97 897 92 830C87 763 112 772 105 730C98 688 83 721 72 705C61 689 54 697 72 682C90 667 94 694 125 660C156 626 138 627 165 580C192 533 179 527 205 520Z" fill="rgb(120,120,120)" filter="url(#bl5)"/>
<path d="M205 520C226 515 235 517 242 560C249 603 242 619 232 680C222 741 210 742 205 790C200 838 219 824 212 860C205 896 205 906 180 925C155 944 143 957 120 932C97 907 96 884 92 830C88 776 110 763 105 730C100 697 81 718 72 705C63 692 58 694 72 682C86 670 100 687 125 660C150 633 144 617 165 580C186 543 184 525 205 520Z" fill="#fff" filter="url(#bl1)"/>
<ellipse cx="385" cy="1115" rx="75.60000000000001" ry="118.80000000000001" fill="rgb(105,105,105)" transform="rotate(15 385 1115)" filter="url(#bl9)"/>
<ellipse cx="385" cy="1115" rx="70" ry="110" fill="url(#rg21)" transform="rotate(15 385 1115)" filter="url(#bl8)"/>
<ellipse cx="685" cy="1265" rx="54.0" ry="91.80000000000001" fill="rgb(100,100,100)" transform="rotate(10 685 1265)" filter="url(#bl10)"/>
<ellipse cx="685" cy="1265" rx="50" ry="85" fill="url(#rg22)" transform="rotate(10 685 1265)" filter="url(#bl0)"/>
<ellipse cx="1050" cy="1140" rx="70.2" ry="118.80000000000001" fill="rgb(105,105,105)" transform="rotate(10 1050 1140)" filter="url(#bl9)"/>
<ellipse cx="1050" cy="1140" rx="65" ry="110" fill="url(#rg23)" transform="rotate(10 1050 1140)" filter="url(#bl8)"/>
<path d="M38 1345L250 1383L38 1383Z" fill="rgb(120,120,120)" filter="url(#bl7)"/>
<text x="330" y="232" font-size="137" fill="#fff">Heart</text>
<text x="850" y="190" font-size="137" fill="#fff">Lung</text>
<text x="812" y="748" font-size="137" fill="#fff">Liver</text>
<text x="90" y="998" font-size="137" fill="#fff">Bone marrow</text>
<text x="465" y="1170" font-size="137" fill="#fff">Spleen</text>
<text x="120" y="1285" font-size="137" fill="#fff">Kidney</text>
<text x="765" y="1310" font-size="137" fill="#fff">Kidney</text>
</g>
</g>
<text x="477.0" y="648.0" font-size="22.6" text-anchor="middle">PBS</text>
<rect x="567.6" y="662.4" width="11.4" height="202.6" fill="url(#cb)" stroke="#40302c" stroke-width="1.6"/>
<path d="M578.5 702.0L584.5 702.0" stroke="#2a1c1c" stroke-width="2.6"/>
<text x="587.3" y="709.9" font-size="22.4">0.8</text>
<path d="M578.5 769.7L584.5 769.7" stroke="#2a1c1c" stroke-width="2.6"/>
<text x="587.3" y="777.6" font-size="22.4">0.7</text>
<path d="M578.5 835.0L584.5 835.0" stroke="#2a1c1c" stroke-width="2.6"/>
<text x="587.3" y="842.9" font-size="22.4">0.6</text>
<text x="568.0" y="660.0" font-size="21.5">×10<tspan font-size="13.8" dy="-7.7">8</tspan></text>
<rect x="768.9" y="652.8" width="192.7" height="212.2" fill="rgb(173,173,173)"/>
<clipPath id="cpd2"><rect x="768.9" y="652.8" width="192.7" height="212.2"/></clipPath>
<g clip-path="url(#cpd2)">
<g transform="translate(760 640) scale(0.16260)">
<ellipse cx="295" cy="335" rx="88" ry="112" fill="rgb(140,140,140)" filter="url(#bl8)"/>
<ellipse cx="295" cy="365" rx="62" ry="80" fill="url(#rg24)" filter="url(#bl8)"/>
<path d="M810 330C820 285 811 289 850 250C889 211 889 208 940 200C991 192 976 204 1020 225C1064 246 1060 236 1085 270C1110 304 1110 295 1105 340C1100 385 1104 387 1070 420C1036 453 1032 428 990 450C948 472 972 492 930 495C888 498 884 488 850 460C816 432 827 439 815 400C803 361 800 375 810 330Z" fill="#fff" filter="url(#bl7)"/>
<path d="M540 530C617 490 617 493 700 520C783 547 742 537 790 610C838 683 855 673 845 740C835 807 835 753 760 810C685 867 700 860 620 910C540 960 580 950 520 960C460 970 500 993 440 940C380 887 373 863 340 800C307 737 310 773 340 750C370 727 387 767 430 730C473 693 433 707 470 640C507 573 463 570 540 530Z" fill="rgb(135,135,135)" filter="url(#bl8)"/>
<path d="M470 640L530 600L560 545L700 540L780 620L825 740L700 850L600 900L520 945L420 860L440 745Z" fill="#fff"/>
<path d="M560 545L700 540L760 600L810 660L825 740L760 790L700 850L600 900L520 945L460 930L420 860L360 800L355 760L440 745L470 680L530 650L530 590Z" fill="url(#rg25)"/>
<rect x="722" y="712" width="22" height="40" fill="#fff"/>
<path d="M130 790C155 787 158 783 200 810C242 837 235 807 255 870C275 933 255 943 260 1000C265 1057 290 997 270 1040C250 1083 230 1043 200 1130C170 1217 220 1247 180 1300C140 1353 117 1300 80 1290C43 1280 57 1287 70 1270C83 1253 100 1303 120 1240C140 1177 148 1157 130 1080C112 1003 85 1038 65 1010C45 982 42 1002 70 995C98 988 123 1022 150 990C177 958 158 957 150 900C142 843 132 857 125 820C118 783 105 793 130 790Z" fill="rgb(130,130,130)" filter="url(#bl8)"/>
<path d="M130 790C150 787 167 789 200 810C233 831 239 819 255 870C271 921 256 955 260 1000C264 1045 286 1005 270 1040C254 1075 224 1061 200 1130C176 1199 212 1257 180 1300C148 1343 109 1298 80 1290C51 1282 59 1283 70 1270C81 1257 104 1291 120 1240C136 1189 145 1141 130 1080C115 1019 81 1033 65 1010C49 987 47 1000 70 995C93 990 129 1015 150 990C171 965 157 945 150 900C143 855 130 849 125 820C120 791 110 793 130 790Z" fill="#fff" filter="url(#bl7)"/>
<rect x="128" y="1200" width="40" height="90" fill="#7c0f16"/>
<rect x="168" y="1140" width="24" height="16" fill="#7c0f16"/>
<ellipse cx="395" cy="1195" rx="81.0" ry="113.4" fill="rgb(130,130,130)" filter="url(#bl11)"/>
<ellipse cx="395" cy="1195" rx="75" ry="105" fill="url(#rg26)" filter="url(#bl4)"/>
<path d="M720 1065C745 1062 748 1065 765 1110C782 1155 780 1140 770 1200C760 1260 768 1250 735 1290C702 1330 710 1318 670 1320C630 1322 615 1315 615 1295C615 1275 642 1295 670 1260C698 1225 693 1237 700 1190C707 1143 683 1162 690 1120C697 1078 695 1068 720 1065Z" fill="rgb(120,120,120)" filter="url(#bl4)"/>
<path d="M720 1065C745 1062 748 1065 765 1110C782 1155 780 1140 770 1200C760 1260 768 1250 735 1290C702 1330 710 1318 670 1320C630 1322 615 1315 615 1295C615 1275 642 1295 670 1260C698 1225 693 1237 700 1190C707 1143 683 1162 690 1120C697 1078 695 1068 720 1065Z" fill="url(#lg27)" filter="url(#bl7)"/>
<ellipse cx="1100" cy="1175" rx="75.60000000000001" ry="113.4" fill="rgb(130,130,130)" filter="url(#bl11)"/>
<ellipse cx="1100" cy="1175" rx="70" ry="105" fill="url(#rg28)" filter="url(#bl4)"/>
<path d="M960 1100C983 1089 990 1093 1040 1085C1090 1077 1085 1072 1110 1075C1135 1078 1138 1083 1115 1095C1092 1107 1088 1102 1040 1110C992 1118 997 1121 970 1118C943 1115 937 1111 960 1100Z" fill="#fff" filter="url(#bl3)"/>
<rect x="1100" y="1100" width="24" height="16" fill="#7c0f16"/>
<rect x="1100" y="1140" width="24" height="16" fill="#7c0f16"/>
</g>
</g>
<text x="878.3" y="648.0" font-size="22.6" text-anchor="middle">ESM-TLNP</text>
<rect x="970.3" y="662.4" width="11.2" height="202.6" fill="url(#cb)" stroke="#40302c" stroke-width="1.6"/>
<path d="M981.0 688.0L987.0 688.0" stroke="#2a1c1c" stroke-width="2.6"/>
<text x="989.8" y="695.9" font-size="22.4">3</text>
<path d="M981.0 770.0L987.0 770.0" stroke="#2a1c1c" stroke-width="2.6"/>
<text x="989.8" y="777.9" font-size="22.4">2</text>
<path d="M981.0 848.0L987.0 848.0" stroke="#2a1c1c" stroke-width="2.6"/>
<text x="989.8" y="855.9" font-size="22.4">1</text>
<text x="970.5" y="660.0" font-size="21.5">×10<tspan font-size="13.8" dy="-7.7">8</tspan></text>
<rect x="1168.0" y="652.8" width="193.3" height="212.2" fill="rgb(165,165,165)"/>
<clipPath id="cpd3"><rect x="1168.0" y="652.8" width="193.3" height="212.2"/></clipPath>
<g clip-path="url(#cpd3)">
<g transform="translate(1160 640) scale(0.16260)">
<ellipse cx="225" cy="435" rx="102" ry="96" fill="rgb(112,112,112)" filter="url(#bl4)"/>
<ellipse cx="225" cy="440" rx="80" ry="75" fill="url(#rg29)" filter="url(#bl4)"/>
<path d="M940 300C946 254 940 251 970 215C1000 179 998 182 1040 180C1082 178 1071 183 1110 210C1149 237 1149 231 1170 270C1191 309 1189 298 1180 340C1171 382 1170 382 1140 410C1110 438 1122 435 1080 435C1038 435 1039 430 1000 410C961 390 968 403 950 370C932 337 934 346 940 300Z" fill="#fff" filter="url(#bl7)"/>
<path d="M90 640C117 612 113 615 150 615C187 615 167 618 200 640C233 662 245 640 250 680C255 720 232 700 215 760C198 820 195 793 200 860C205 927 222 893 230 960C238 1027 238 1018 225 1060C212 1102 218 1092 190 1085C162 1078 163 1102 140 1040C117 978 135 987 120 900C105 813 112 847 95 780C78 713 72 747 70 700C68 653 63 668 90 640Z" fill="rgb(135,135,135)" filter="url(#bl5)"/>
<path d="M90 640C111 617 121 615 150 615C179 615 173 623 200 640C227 657 246 648 250 680C254 712 228 712 215 760C202 808 196 807 200 860C204 913 223 907 230 960C237 1013 236 1027 225 1060C214 1093 213 1090 190 1085C167 1080 159 1089 140 1040C121 991 132 969 120 900C108 831 108 833 95 780C82 727 71 737 70 700C69 663 69 663 90 640Z" fill="#fff" filter="url(#bl3)"/>
<path d="M100 660L150 630L200 660L240 690L200 760L180 850L210 950L215 1040L185 1045L150 980L135 860L110 760L90 700Z" fill="url(#lg30)"/>
<path d="M640 560C693 508 690 512 760 505C830 498 810 495 850 540C890 585 847 587 880 640C913 693 930 650 950 700C970 750 967 740 940 790C913 840 900 803 870 850C840 897 887 892 850 930C813 968 823 958 760 965C697 972 720 985 660 950C600 915 613 923 580 860C547 797 553 827 560 760C567 693 573 727 600 660C627 593 587 612 640 560Z" fill="rgb(115,115,115)" filter="url(#bl9)"/>
<path d="M640 560C693 508 690 512 760 505C830 498 810 495 850 540C890 585 847 587 880 640C913 693 930 650 950 700C970 750 967 740 940 790C913 840 900 803 870 850C840 897 887 892 850 930C813 968 823 958 760 965C697 972 720 985 660 950C600 915 613 923 580 860C547 797 553 827 560 760C567 693 573 727 600 660C627 593 587 612 640 560Z" fill="url(#rg31)" filter="url(#bl4)"/>
<rect x="758" y="548" width="20" height="70" fill="#7c0f16"/>
<rect x="778" y="570" width="18" height="20" fill="#7c0f16"/>
<rect x="738" y="668" width="18" height="36" fill="#7c0f16"/>
<rect x="812" y="852" width="20" height="40" fill="#7c0f16"/>
<rect x="795" y="875" width="20" height="18" fill="#7c0f16"/>
<ellipse cx="370" cy="1265" rx="78" ry="118" fill="rgb(130,130,130)" transform="rotate(15 370 1265)" filter="url(#bl8)"/>
<ellipse cx="375" cy="1265" rx="55" ry="95" fill="url(#rg32)" transform="rotate(15 375 1265)" filter="url(#bl8)"/>
<rect x="385" y="1240" width="20" height="18" fill="#7c0f16"/>
<rect x="385" y="1280" width="20" height="18" fill="#7c0f16"/>
<path d="M630 1090C668 1093 675 1090 720 1130C765 1170 762 1157 765 1210C768 1263 765 1253 730 1290C695 1327 698 1317 660 1320C622 1323 615 1323 615 1300C615 1277 635 1287 660 1250C685 1213 693 1227 690 1190C687 1153 678 1163 650 1140C622 1117 612 1137 605 1120C598 1103 592 1087 630 1090Z" fill="rgb(120,120,120)" filter="url(#bl4)"/>
<path d="M640 1110C657 1110 673 1120 700 1150C727 1180 723 1163 720 1200C717 1237 717 1225 690 1260C663 1295 663 1293 640 1305C617 1317 612 1317 620 1295C628 1273 645 1275 665 1240C685 1205 685 1220 680 1190C675 1160 663 1177 650 1150C637 1123 623 1110 640 1110Z" fill="rgb(235,235,235)" filter="url(#bl6)"/>
<ellipse cx="1010" cy="1140" rx="68" ry="118" fill="rgb(135,135,135)" transform="rotate(-10 1010 1140)" filter="url(#bl8)"/>
<ellipse cx="1010" cy="1135" rx="45" ry="95" fill="url(#rg33)" transform="rotate(-10 1010 1135)" filter="url(#bl8)"/>
<rect x="995" y="1124" width="18" height="18" fill="#7c0f16"/>
</g>
</g>
<text x="1272.5" y="648.0" font-size="22.6" text-anchor="middle">ESM-6H-3-LNP</text>
<rect x="1370.5" y="662.4" width="11.5" height="202.6" fill="url(#cb)" stroke="#40302c" stroke-width="1.6"/>
<path d="M1381.5 693.0L1387.5 693.0" stroke="#2a1c1c" stroke-width="2.6"/>
<text x="1390.3" y="700.9" font-size="22.4">5.5</text>
<path d="M1381.5 771.0L1387.5 771.0" stroke="#2a1c1c" stroke-width="2.6"/>
<text x="1390.3" y="778.9" font-size="22.4">4.5</text>
<path d="M1381.5 849.0L1387.5 849.0" stroke="#2a1c1c" stroke-width="2.6"/>
<text x="1390.3" y="856.9" font-size="22.4">3.5</text>
<text x="1373.0" y="660.0" font-size="21.5">×10<tspan font-size="13.8" dy="-7.7">7</tspan></text>
<text x="1431.0" y="660.0" font-size="22.6">(photons s<tspan font-size="14.1" dy="-8.2">-1</tspan><tspan dy="8.2"> cm</tspan><tspan font-size="14.1" dy="-8.2">-2</tspan><tspan dy="8.2"> sr</tspan><tspan font-size="14.1" dy="-8.2">-1</tspan><tspan dy="8.2">)</tspan></text>
<rect x="368.1" y="1370.0" width="193.2" height="211.2" fill="rgb(140,140,140)"/>
<clipPath id="cpg1"><rect x="368.1" y="1370.0" width="193.2" height="211.2"/></clipPath>
<g clip-path="url(#cpg1)">
<g transform="translate(360 1355) scale(0.16260)">
<ellipse cx="330" cy="295" rx="95.04" ry="102.60000000000001" fill="rgb(88,88,88)" transform="rotate(15 330 295)" filter="url(#bl9)"/>
<ellipse cx="330" cy="295" rx="88" ry="95" fill="url(#rg34)" transform="rotate(15 330 295)" filter="url(#bl8)"/>
<path d="M920 320C929 290 948 311 990 290C1032 269 1015 256 1060 250C1105 244 1104 243 1140 270C1176 297 1170 298 1180 340C1190 382 1190 371 1175 410C1160 449 1168 448 1130 470C1092 492 1089 494 1050 485C1011 476 1027 468 1000 440C973 412 984 426 960 390C936 354 911 350 920 320Z" fill="#fff" filter="url(#bl7)"/>
<ellipse cx="1045" cy="355" rx="50" ry="45" fill="rgb(190,190,190)" filter="url(#bl9)"/>
<path d="M60 720C74 675 71 674 110 640C149 606 145 605 190 605C235 605 233 606 260 640C287 674 277 675 280 720C283 765 285 751 270 790C255 829 263 822 230 850C197 878 196 885 160 885C124 885 138 878 110 850C82 822 80 829 65 790C50 751 46 765 60 720Z" fill="#fff" filter="url(#bl7)"/>
<rect x="230" y="695" width="40" height="36" fill="#7c0f16"/>
<path d="M520 680C555 620 533 642 600 610C667 578 637 595 720 585C803 575 793 562 850 580C907 598 853 600 890 640C927 680 923 647 960 700C997 753 1000 740 1000 800C1000 860 1007 842 960 880C913 918 920 918 860 915C800 912 833 892 780 870C727 848 760 830 700 850C640 870 660 913 600 930C540 947 555 947 520 900C485 853 495 863 495 790C495 717 485 740 520 680Z" fill="rgb(100,100,100)" filter="url(#bl5)"/>
<path d="M520 680C555 620 533 642 600 610C667 578 637 595 720 585C803 575 793 562 850 580C907 598 853 600 890 640C927 680 923 647 960 700C997 753 1000 740 1000 800C1000 860 1007 842 960 880C913 918 920 918 860 915C800 912 833 892 780 870C727 848 760 830 700 850C640 870 660 913 600 930C540 947 555 947 520 900C485 853 495 863 495 790C495 717 485 740 520 680Z" fill="url(#rg35)" filter="url(#bl4)"/>
<ellipse cx="770" cy="690" rx="70" ry="90" fill="rgb(165,165,165)" filter="url(#bl12)"/>
<ellipse cx="620" cy="630" rx="9" ry="9" fill="#fff" filter="url(#bl3)"/>
<ellipse cx="600" cy="690" rx="9" ry="9" fill="#fff" filter="url(#bl3)"/>
<ellipse cx="760" cy="640" rx="9" ry="9" fill="#fff" filter="url(#bl3)"/>
<ellipse cx="790" cy="620" rx="9" ry="9" fill="#fff" filter="url(#bl3)"/>
<ellipse cx="730" cy="700" rx="9" ry="9" fill="#fff" filter="url(#bl3)"/>
<ellipse cx="770" cy="740" rx="9" ry="9" fill="#fff" filter="url(#bl3)"/>
<ellipse cx="670" cy="780" rx="9" ry="9" fill="#fff" filter="url(#bl3)"/>
<ellipse cx="740" cy="770" rx="9" ry="9" fill="#fff" filter="url(#bl3)"/>
<ellipse cx="560" cy="850" rx="9" ry="9" fill="#fff" filter="url(#bl3)"/>
<ellipse cx="545" cy="880" rx="9" ry="9" fill="#fff" filter="url(#bl3)"/>
<ellipse cx="270" cy="1210" rx="77.76" ry="113.4" fill="rgb(100,100,100)" transform="rotate(15 270 1210)" filter="url(#bl9)"/>
<ellipse cx="270" cy="1210" rx="72" ry="105" fill="url(#rg36)" transform="rotate(15 270 1210)" filter="url(#bl8)"/>
<ellipse cx="625" cy="1255" rx="70" ry="95" fill="rgb(105,105,105)" filter="url(#bl8)"/>
<ellipse cx="640" cy="1250" rx="25" ry="45" fill="rgb(235,235,235)" filter="url(#bl4)"/>
<ellipse cx="980" cy="1230" rx="77.76" ry="124.2" fill="rgb(100,100,100)" filter="url(#bl9)"/>
<ellipse cx="980" cy="1230" rx="72" ry="115" fill="url(#rg37)" filter="url(#bl8)"/>
<text x="140" y="480" font-size="137" fill="#fff">Heart</text>
<text x="915" y="580" font-size="137" fill="#fff">Lung</text>
<text x="825" y="800" font-size="137" fill="#fff">Liver</text>
<text x="88" y="1005" font-size="137" fill="#fff">Adipose tissue</text>
<text x="420" y="1160" font-size="137" fill="#fff">Spleen</text>
<text x="42" y="1300" font-size="137" fill="#fff">Kidney</text>
<text x="800" y="1280" font-size="137" fill="#fff">Kidney</text>
</g>
</g>
<text x="462.5" y="1361.0" font-size="22.6" text-anchor="middle">PBS</text>
<rect x="569.0" y="1378.0" width="11.0" height="203.4" fill="url(#cb)" stroke="#40302c" stroke-width="1.6"/>
<path d="M579.5 1425.0L585.5 1425.0" stroke="#2a1c1c" stroke-width="2.6"/>
<text x="588.3" y="1432.9" font-size="22.4">2</text>
<path d="M579.5 1496.0L585.5 1496.0" stroke="#2a1c1c" stroke-width="2.6"/>
<text x="588.3" y="1503.9" font-size="22.4">1.7</text>
<path d="M579.5 1535.0L585.5 1535.0" stroke="#2a1c1c" stroke-width="2.6"/>
<text x="588.3" y="1542.9" font-size="22.4">1.4</text>
<text x="572.0" y="1369.0" font-size="21.5">×10<tspan font-size="13.8" dy="-7.7">8</tspan></text>
<rect x="768.9" y="1372.0" width="193.5" height="211.8" fill="rgb(154,154,154)"/>
<clipPath id="cpg2"><rect x="768.9" y="1372.0" width="193.5" height="211.8"/></clipPath>
<g clip-path="url(#cpg2)">
<g transform="translate(760 1355) scale(0.16260)">
<ellipse cx="555" cy="340" rx="62" ry="118" fill="rgb(125,125,125)" filter="url(#bl4)"/>
<ellipse cx="555" cy="335" rx="48" ry="100" fill="url(#rg38)" filter="url(#bl4)"/>
<path d="M970 420C970 393 973 440 1000 480C1027 520 1013 513 1050 540C1087 567 1127 553 1110 560C1093 567 1047 607 1000 560C953 513 970 447 970 420Z" fill="rgb(130,130,130)" filter="url(#bl5)"/>
<path d="M985 300C996 287 997 333 1020 320C1043 307 1041 255 1070 250C1099 245 1105 265 1130 300C1155 335 1157 335 1165 380C1173 425 1175 426 1160 470C1145 514 1139 537 1110 545C1081 553 1079 528 1050 500C1021 472 1019 475 1000 440C981 405 984 407 980 370C976 333 974 313 985 300Z" fill="#fff" filter="url(#bl7)"/>
<path d="M75 800C87 740 74 728 130 680C186 632 200 634 260 640C320 646 315 658 330 700C345 742 331 732 310 780C289 828 305 818 260 860C215 902 211 914 160 920C109 926 116 916 90 880C64 844 63 860 75 800Z" fill="#fff" filter="url(#bl6)"/>
<path d="M600 515L690 515L730 560L770 545L800 515L830 560L855 650L915 665L945 700L940 800L900 880L860 920L750 940L720 960L650 965L600 910L585 800L590 700L555 650L550 590Z" fill="url(#rg39)"/>
<ellipse cx="810" cy="880" rx="40" ry="45" fill="#f6c02a" filter="url(#bl9)"/>
<ellipse cx="650" cy="850" rx="50" ry="60" fill="#8e1210" filter="url(#bl13)" opacity="0.8"/>
<ellipse cx="200" cy="1080" rx="35" ry="90" fill="rgb(135,135,135)" transform="rotate(10 200 1080)" filter="url(#bl5)"/>
<ellipse cx="515" cy="1180" rx="62" ry="120" fill="rgb(130,130,130)" filter="url(#bl4)"/>
<ellipse cx="515" cy="1175" rx="50" ry="105" fill="url(#rg40)" filter="url(#bl4)"/>
<path d="M810 1105C837 1108 847 1105 840 1130C833 1155 817 1137 790 1180C763 1223 767 1213 760 1260C753 1307 778 1297 770 1320C762 1343 757 1347 735 1330C713 1313 712 1320 705 1270C698 1220 697 1230 715 1180C733 1130 728 1145 760 1120C792 1095 783 1102 810 1105Z" fill="rgb(125,125,125)" filter="url(#bl4)"/>
<path d="M800 1125C802 1137 788 1128 770 1170C752 1212 752 1203 745 1250C738 1297 757 1303 750 1310C743 1317 732 1310 725 1270C718 1230 717 1235 730 1190C743 1145 742 1157 765 1135C788 1113 798 1113 800 1125Z" fill="rgb(185,185,185)" filter="url(#bl1)"/>
<ellipse cx="1050" cy="1205" rx="62" ry="110" fill="rgb(130,130,130)" transform="rotate(20 1050 1205)" filter="url(#bl4)"/>
<ellipse cx="1050" cy="1200" rx="48" ry="95" fill="url(#rg41)" transform="rotate(20 1050 1200)" filter="url(#bl4)"/>
</g>
</g>
<text x="888.6" y="1363.0" font-size="22.6" text-anchor="middle">TLNP</text>
<rect x="969.5" y="1378.4" width="11.5" height="203.0" fill="url(#cb)" stroke="#40302c" stroke-width="1.6"/>
<path d="M980.5 1424.0L986.5 1424.0" stroke="#2a1c1c" stroke-width="2.6"/>
<text x="989.3" y="1431.9" font-size="22.4">4</text>
<path d="M980.5 1495.0L986.5 1495.0" stroke="#2a1c1c" stroke-width="2.6"/>
<text x="989.3" y="1502.9" font-size="22.4">2.5</text>
<path d="M980.5 1563.4L986.5 1563.4" stroke="#2a1c1c" stroke-width="2.6"/>
<text x="989.3" y="1571.3" font-size="22.4">1.0</text>
<text x="970.0" y="1371.0" font-size="21.5">×10<tspan font-size="13.8" dy="-7.7">9</tspan></text>
<rect x="1169.0" y="1372.0" width="193.5" height="211.0" fill="rgb(152,152,152)"/>
<clipPath id="cpg3"><rect x="1169.0" y="1372.0" width="193.5" height="211.0"/></clipPath>
<g clip-path="url(#cpg3)">
<g transform="translate(1160 1355) scale(0.16260)">
<path d="M200 250C230 222 230 212 270 225C310 238 288 248 320 290C352 332 362 307 365 350C368 393 365 390 330 420C295 450 298 450 260 440C222 430 242 433 215 390C188 347 185 357 180 310C175 263 170 278 200 250Z" fill="rgb(120,120,120)" filter="url(#bl8)"/>
<path d="M200 250C230 222 230 212 270 225C310 238 288 248 320 290C352 332 362 307 365 350C368 393 365 390 330 420C295 450 298 450 260 440C222 430 242 433 215 390C188 347 185 357 180 310C175 263 170 278 200 250Z" fill="url(#rg42)" filter="url(#bl6)"/>
<path d="M860 300C877 303 853 333 900 380C947 427 1000 423 1000 440C1000 457 950 453 900 430C850 407 863 413 850 370C837 327 843 297 860 300Z" fill="rgb(120,120,120)" filter="url(#bl5)"/>
<path d="M880 280C900 246 889 244 940 225C991 206 1008 234 1050 215C1092 196 1050 180 1080 160C1110 140 1116 129 1150 150C1184 171 1189 176 1195 230C1201 284 1202 282 1170 330C1138 378 1141 362 1090 390C1039 418 1051 422 1000 425C949 428 958 426 920 400C882 374 887 376 875 340C863 304 860 314 880 280Z" fill="#fff" filter="url(#bl7)"/>
<ellipse cx="1120" cy="200" rx="40" ry="25" fill="rgb(175,175,175)" filter="url(#bl8)"/>
<path d="M120 790C139 763 167 767 200 740C233 713 218 693 245 690C272 687 267 711 300 730C333 749 349 741 370 760C391 779 391 771 380 800C369 829 365 841 330 870C295 899 293 905 250 910C207 915 202 909 170 890C138 871 143 867 130 840C117 813 101 817 120 790Z" fill="#fff" filter="url(#bl3)"/>
<path d="M135 790L215 760L245 700L280 750L350 770L350 830L300 880L220 895L160 850Z" fill="url(#rg43)"/>
<ellipse cx="800" cy="640" rx="205" ry="142" fill="rgb(125,125,125)" filter="url(#bl8)"/>
<ellipse cx="770" cy="880" rx="165" ry="112" fill="rgb(125,125,125)" filter="url(#bl8)"/>
<ellipse cx="800" cy="640" rx="195" ry="132" fill="url(#rg44)" filter="url(#bl4)"/>
<ellipse cx="765" cy="880" rx="155" ry="102" fill="url(#rg45)" filter="url(#bl4)"/>
<ellipse cx="660" cy="760" rx="60" ry="18" fill="rgb(110,110,110)" transform="rotate(20 660 760)" filter="url(#bl4)"/>
<ellipse cx="740" cy="640" rx="12" ry="8" fill="#fff" filter="url(#bl3)"/>
<ellipse cx="780" cy="650" rx="12" ry="8" fill="#fff" filter="url(#bl3)"/>
<ellipse cx="820" cy="645" rx="12" ry="8" fill="#fff" filter="url(#bl3)"/>
<ellipse cx="870" cy="655" rx="12" ry="8" fill="#fff" filter="url(#bl3)"/>
<ellipse cx="760" cy="710" rx="12" ry="8" fill="#fff" filter="url(#bl3)"/>
<ellipse cx="830" cy="740" rx="12" ry="8" fill="#fff" filter="url(#bl3)"/>
<ellipse cx="850" cy="770" rx="12" ry="8" fill="#fff" filter="url(#bl3)"/>
<ellipse cx="730" cy="840" rx="12" ry="8" fill="#fff" filter="url(#bl3)"/>
<ellipse cx="890" cy="575" rx="12" ry="8" fill="#fff" filter="url(#bl3)"/>
<path d="M805 800L850 810L880 800L905 830L905 870L830 880L805 850Z" fill="url(#rg46)"/>
<rect x="885" y="838" width="22" height="22" fill="#f2ee3c"/>
<ellipse cx="280" cy="1225" rx="85" ry="115" fill="rgb(128,128,128)" transform="rotate(-10 280 1225)" filter="url(#bl4)"/>
<ellipse cx="285" cy="1220" rx="68" ry="95" fill="url(#rg47)" transform="rotate(-10 285 1220)" filter="url(#bl4)"/>
<path d="M680 1085C710 1068 713 1082 740 1120C767 1158 767 1143 760 1200C753 1257 757 1237 720 1290C683 1343 693 1343 650 1360C607 1377 597 1373 590 1340C583 1307 610 1317 630 1260C650 1203 633 1228 650 1170C667 1112 650 1102 680 1085Z" fill="rgb(120,120,120)" filter="url(#bl4)"/>
<path d="M685 1110C705 1100 708 1110 725 1140C742 1170 743 1153 735 1200C727 1247 732 1233 700 1280C668 1327 668 1323 640 1340C612 1357 612 1357 615 1330C618 1303 633 1313 650 1260C667 1207 653 1220 665 1170C677 1120 665 1120 685 1110Z" fill="rgb(165,165,165)" filter="url(#bl1)"/>
<ellipse cx="685" cy="1160" rx="18" ry="35" fill="rgb(235,235,235)" transform="rotate(10 685 1160)" filter="url(#bl1)"/>
<ellipse cx="985" cy="1285" rx="80" ry="125" fill="rgb(128,128,128)" filter="url(#bl4)"/>
<ellipse cx="985" cy="1290" rx="62" ry="105" fill="url(#rg48)" filter="url(#bl4)"/>
<rect x="950" y="1190" width="80" height="18" fill="#7c0f16"/>
<rect x="968" y="1176" width="40" height="16" fill="#7c0f16"/>
<rect x="1005" y="1232" width="22" height="18" fill="#7c0f16"/>
<path d="M1240 1040C1218 1020 1213 1060 1180 1090C1147 1120 1133 1113 1140 1130C1147 1147 1165 1133 1200 1140C1235 1147 1232 1183 1245 1150C1258 1117 1262 1060 1240 1040Z" fill="rgb(125,125,125)" filter="url(#bl4)"/>
</g>
</g>
<text x="1280.0" y="1363.0" font-size="22.6" text-anchor="middle">8K-LNP</text>
<rect x="1369.7" y="1378.4" width="11.6" height="203.0" fill="url(#cb)" stroke="#40302c" stroke-width="1.6"/>
<path d="M1380.8 1397.0L1386.8 1397.0" stroke="#2a1c1c" stroke-width="2.6"/>
<text x="1389.6" y="1404.9" font-size="22.4">1</text>
<path d="M1380.8 1564.0L1386.8 1564.0" stroke="#2a1c1c" stroke-width="2.6"/>
<text x="1389.6" y="1571.9" font-size="22.4">0.4</text>
<text x="1370.5" y="1369.0" font-size="21.5">×10<tspan font-size="13.8" dy="-7.7">8</tspan></text>
<text x="1431.0" y="1370.0" font-size="22.6">(photons s<tspan font-size="14.1" dy="-8.2">-1</tspan><tspan dy="8.2"> cm</tspan><tspan font-size="14.1" dy="-8.2">-2</tspan><tspan dy="8.2"> sr</tspan><tspan font-size="14.1" dy="-8.2">-1</tspan><tspan dy="8.2">)</tspan></text>
<rect x="368.1" y="2080.0" width="201.7" height="210.7" fill="rgb(125,125,125)"/>
<clipPath id="cpj1"><rect x="368.1" y="2080.0" width="201.7" height="210.7"/></clipPath>
<g clip-path="url(#cpj1)">
<g transform="translate(360 2065) scale(0.16260)">
<ellipse cx="510" cy="305" rx="70" ry="58" fill="rgb(85,85,85)" filter="url(#bl4)"/>
<ellipse cx="510" cy="310" rx="48" ry="38" fill="rgb(175,175,175)" filter="url(#bl5)"/>
<path d="M1050 290C1059 248 1063 249 1090 240C1117 231 1110 245 1140 260C1170 275 1172 260 1190 290C1208 320 1188 327 1200 360C1212 393 1239 372 1230 400C1221 428 1209 443 1170 455C1131 467 1133 462 1100 440C1067 418 1075 425 1060 380C1045 335 1041 332 1050 290Z" fill="#fff" filter="url(#bl6)"/>
<ellipse cx="1105" cy="290" rx="18" ry="22" fill="rgb(140,140,140)" filter="url(#bl1)"/>
<path d="M670 580C693 548 680 545 720 545C760 545 737 552 790 580C843 608 840 590 880 630C920 670 913 643 910 700C907 757 903 733 870 800C837 867 847 870 810 900C773 930 797 917 760 890C723 863 735 877 700 820C665 763 672 780 655 720C638 660 645 687 650 640C655 593 647 612 670 580Z" fill="rgb(95,95,95)" filter="url(#bl8)"/>
<path d="M670 580C693 548 680 545 720 545C760 545 737 552 790 580C843 608 840 590 880 630C920 670 913 643 910 700C907 757 903 733 870 800C837 867 847 870 810 900C773 930 797 917 760 890C723 863 735 877 700 820C665 763 672 780 655 720C638 660 645 687 650 640C655 593 647 612 670 580Z" fill="url(#rg49)" filter="url(#bl1)"/>
<ellipse cx="135" cy="845" rx="45" ry="66" fill="#fff" transform="rotate(15 135 845)" filter="url(#bl6)"/>
<ellipse cx="320" cy="880" rx="42" ry="62" fill="#fff" transform="rotate(15 320 880)" filter="url(#bl6)"/>
<ellipse cx="465" cy="1160" rx="60" ry="80" fill="rgb(95,95,95)" filter="url(#bl4)"/>
<ellipse cx="465" cy="1155" rx="45" ry="65" fill="url(#rg50)" filter="url(#bl4)"/>
<path d="M745 1140C758 1127 772 1147 780 1180C788 1213 790 1203 770 1240C750 1277 747 1278 720 1290C693 1302 683 1298 690 1275C697 1252 722 1265 740 1220C758 1175 732 1153 745 1140Z" fill="rgb(85,85,85)" filter="url(#bl1)"/>
<path d="M750 1150C760 1142 763 1162 765 1190C767 1218 765 1227 755 1235C745 1243 737 1243 735 1215C733 1187 740 1158 750 1150Z" fill="rgb(165,165,165)" filter="url(#bl6)"/>
<ellipse cx="1060" cy="1295" rx="60" ry="80" fill="rgb(95,95,95)" filter="url(#bl4)"/>
<ellipse cx="1060" cy="1295" rx="45" ry="65" fill="url(#rg51)" filter="url(#bl4)"/>
<rect x="1060" y="1288" width="26" height="24" fill="#e6ee3a"/>
<text x="325" y="468" font-size="137" fill="#fff">Heart</text>
<text x="942" y="572" font-size="137" fill="#fff">Lung</text>
<text x="100" y="770" font-size="137" fill="#fff">Testis</text>
<text x="865" y="850" font-size="137" fill="#fff">Liver</text>
<text x="518" y="1110" font-size="137" fill="#fff">Spleen</text>
<text x="162" y="1305" font-size="137" fill="#fff">Kidney</text>
<text x="845" y="1272" font-size="137" fill="#fff">Kidney</text>
</g>
</g>
<text x="478.0" y="2072.0" font-size="22.6" text-anchor="middle">PBS</text>
<rect x="580.0" y="2086.4" width="11.7" height="203.0" fill="url(#cb)" stroke="#40302c" stroke-width="1.6"/>
<path d="M591.2 2133.0L597.2 2133.0" stroke="#2a1c1c" stroke-width="2.6"/>
<text x="600.0" y="2140.9" font-size="22.4">3.5</text>
<path d="M591.2 2201.0L597.2 2201.0" stroke="#2a1c1c" stroke-width="2.6"/>
<text x="600.0" y="2208.9" font-size="22.4">3</text>
<text x="600.0" y="2242.4" font-size="22.4">2.5</text>
<path d="M591.2 2268.0L597.2 2268.0" stroke="#2a1c1c" stroke-width="2.6"/>
<text x="580.5" y="2082.0" font-size="21.5">×10<tspan font-size="13.8" dy="-7.7">7</tspan></text>
<linearGradient id="pgj2" x1="0" y1="0" x2="1" y2="0"><stop offset="0" stop-color="rgb(96,96,96)"/><stop offset="1" stop-color="rgb(106,106,106)"/></linearGradient>
<rect x="768.9" y="2080.0" width="202.1" height="210.7" fill="url(#pgj2)"/>
<clipPath id="cpj2"><rect x="768.9" y="2080.0" width="202.1" height="210.7"/></clipPath>
<g clip-path="url(#cpj2)">
<g transform="translate(760 2065) scale(0.16260)">
<path d="M215 240C237 207 238 198 290 190C342 182 337 190 370 215C403 240 400 237 390 265C380 293 377 278 340 300C303 322 318 333 280 330C242 327 247 320 225 290C203 260 193 273 215 240Z" fill="rgb(60,60,60)" filter="url(#bl4)"/>
<ellipse cx="310" cy="258" rx="45" ry="25" fill="rgb(200,200,200)" filter="url(#bl8)"/>
<path d="M965 200C967 167 983 138 1010 120C1037 102 1040 112 1080 125C1120 138 1168 154 1180 175C1192 196 1137 186 1130 215C1123 244 1164 278 1150 300C1136 322 1105 319 1070 310C1035 301 1024 286 1000 260C976 234 963 233 965 200Z" fill="rgb(240,240,240)" filter="url(#bl7)"/>
<ellipse cx="1120" cy="180" rx="30" ry="25" fill="rgb(150,150,150)" filter="url(#bl8)"/>
<path d="M590 375C657 332 613 352 700 370C787 388 773 380 850 430C927 480 898 460 930 520C962 580 965 545 945 610C925 675 952 692 870 715C788 738 800 692 700 680C600 668 637 703 570 680C503 657 523 670 500 610C477 550 470 578 500 500C530 422 523 418 590 375Z" fill="rgb(75,75,75)" filter="url(#bl8)"/>
<path d="M600 395L700 390L760 430L830 450L870 500L910 510L930 600L900 660L850 700L790 670L700 660L640 680L560 660L520 600L515 530L550 440Z" fill="url(#rg52)"/>
<ellipse cx="760" cy="465" rx="40" ry="18" fill="#f6e03a" filter="url(#bl1)"/>
<ellipse cx="820" cy="515" rx="25" ry="15" fill="#f6e03a" filter="url(#bl1)"/>
<ellipse cx="850" cy="465" rx="25" ry="25" fill="rgb(150,150,150)" filter="url(#bl1)"/>
<ellipse cx="165" cy="905" rx="68" ry="62" fill="rgb(70,70,70)" transform="rotate(-20 165 905)" filter="url(#bl4)"/>
<ellipse cx="365" cy="895" rx="55" ry="80" fill="rgb(70,70,70)" filter="url(#bl4)"/>
<ellipse cx="165" cy="905" rx="62" ry="52" fill="#fff" transform="rotate(-25 165 905)" filter="url(#bl1)"/>
<ellipse cx="365" cy="895" rx="45" ry="70" fill="#fff" transform="rotate(-5 365 895)" filter="url(#bl1)"/>
<ellipse cx="510" cy="820" rx="70" ry="50" fill="rgb(88,88,88)" filter="url(#bl9)"/>
<ellipse cx="290" cy="1045" rx="60" ry="30" fill="rgb(88,88,88)" filter="url(#bl5)"/>
<ellipse cx="510" cy="1260" rx="78" ry="105" fill="rgb(70,70,70)" filter="url(#bl4)"/>
<ellipse cx="510" cy="1260" rx="65" ry="90" fill="url(#rg53)" filter="url(#bl4)"/>
<path d="M840 1140C850 1140 810 1153 800 1200C790 1247 783 1235 810 1280C837 1325 873 1315 880 1335C887 1355 865 1355 830 1340C795 1325 795 1337 775 1290C755 1243 748 1250 770 1200C792 1150 830 1140 840 1140Z" fill="rgb(55,55,55)" filter="url(#bl6)"/>
<path d="M845 1150C800 1200 800 1280 875 1330" fill="none" stroke="rgb(200,200,200)" stroke-width="10" filter="url(#bl7)"/>
<ellipse cx="1160" cy="1200" rx="78" ry="100" fill="rgb(70,70,70)" transform="rotate(-15 1160 1200)" filter="url(#bl4)"/>
<ellipse cx="1160" cy="1200" rx="62" ry="88" fill="url(#rg54)" transform="rotate(-15 1160 1200)" filter="url(#bl4)"/>
</g>
</g>
<text x="876.0" y="2072.0" font-size="22.6" text-anchor="middle">TLNP</text>
<rect x="981.0" y="2089.0" width="11.7" height="203.0" fill="url(#cb)" stroke="#40302c" stroke-width="1.6"/>
<path d="M992.2 2128.0L998.2 2128.0" stroke="#2a1c1c" stroke-width="2.6"/>
<text x="1001.0" y="2135.9" font-size="22.4">1</text>
<path d="M992.2 2201.0L998.2 2201.0" stroke="#2a1c1c" stroke-width="2.6"/>
<text x="1001.0" y="2208.9" font-size="22.4">0.8</text>
<text x="1001.0" y="2244.4" font-size="22.4">0.6</text>
<path d="M992.2 2275.0L998.2 2275.0" stroke="#2a1c1c" stroke-width="2.6"/>
<text x="985.0" y="2081.0" font-size="21.5">×10<tspan font-size="13.8" dy="-7.7">8</tspan></text>
<rect x="1169.0" y="2080.0" width="203.0" height="211.5" fill="rgb(112,112,112)"/>
<clipPath id="cpj3"><rect x="1169.0" y="2080.0" width="203.0" height="211.5"/></clipPath>
<g clip-path="url(#cpj3)">
<g transform="translate(1160 2065) scale(0.16260)">
<ellipse cx="480" cy="280" rx="102" ry="92" fill="rgb(75,75,75)" transform="rotate(10 480 280)" filter="url(#bl4)"/>
<ellipse cx="480" cy="280" rx="85" ry="75" fill="url(#rg55)" transform="rotate(10 480 280)" filter="url(#bl4)"/>
<ellipse cx="470" cy="265" rx="12" ry="10" fill="rgb(235,235,235)" filter="url(#bl7)"/>
<ellipse cx="490" cy="290" rx="12" ry="10" fill="rgb(235,235,235)" filter="url(#bl7)"/>
<ellipse cx="480" cy="310" rx="12" ry="10" fill="rgb(235,235,235)" filter="url(#bl7)"/>
<ellipse cx="420" cy="250" rx="12" ry="10" fill="rgb(235,235,235)" filter="url(#bl7)"/>
<path d="M1150 140C1163 117 1193 140 1220 180C1247 220 1243 237 1230 260C1217 283 1207 290 1180 250C1153 210 1137 163 1150 140Z" fill="rgb(88,88,88)" filter="url(#bl8)"/>
<path d="M950 230C962 192 961 190 1000 165C1039 140 1026 140 1080 145C1134 150 1140 148 1180 180C1220 212 1215 211 1215 250C1215 289 1212 283 1180 310C1148 337 1158 338 1110 340C1062 342 1065 330 1020 315C975 300 981 316 960 290C939 264 938 268 950 230Z" fill="#fff" filter="url(#bl7)"/>
<ellipse cx="1090" cy="240" rx="35" ry="25" fill="rgb(185,185,185)" filter="url(#bl8)"/>
<ellipse cx="135" cy="835" rx="62" ry="68" fill="#fff" transform="rotate(15 135 835)" filter="url(#bl7)"/>
<ellipse cx="345" cy="825" rx="48" ry="62" fill="#fff" transform="rotate(10 345 825)" filter="url(#bl7)"/>
<ellipse cx="135" cy="835" rx="55" ry="60" fill="url(#rg56)" transform="rotate(15 135 835)"/>
<ellipse cx="345" cy="825" rx="40" ry="55" fill="url(#rg57)" transform="rotate(10 345 825)"/>
<path d="M690 570C717 538 697 542 760 545C823 548 813 548 880 580C947 612 933 593 960 640C987 687 977 677 960 720C943 763 923 717 910 770C897 823 937 825 920 880C903 935 910 918 860 935C810 952 817 955 770 930C723 905 763 887 720 860C677 833 677 883 640 850C603 817 607 813 610 760C613 707 627 730 650 690C673 650 667 680 680 640C693 600 663 602 690 570Z" fill="rgb(78,78,78)" filter="url(#bl8)"/>
<path d="M690 570C717 538 697 542 760 545C823 548 813 548 880 580C947 612 933 593 960 640C987 687 977 677 960 720C943 763 923 717 910 770C897 823 937 825 920 880C903 935 910 918 860 935C810 952 817 955 770 930C723 905 763 887 720 860C677 833 677 883 640 850C603 817 607 813 610 760C613 707 627 730 650 690C673 650 667 680 680 640C693 600 663 602 690 570Z" fill="url(#rg58)" filter="url(#bl4)"/>
<ellipse cx="820" cy="650" rx="90" ry="40" fill="rgb(225,225,225)" filter="url(#bl5)"/>
<rect x="795" y="795" width="18" height="60" fill="#7c0f16"/>
<rect x="810" y="795" width="22" height="18" fill="#7c0f16"/>
<rect x="810" y="822" width="14" height="14" fill="#7c0f16"/>
<ellipse cx="480" cy="1165" rx="85" ry="115" fill="rgb(78,78,78)" transform="rotate(10 480 1165)" filter="url(#bl4)"/>
<ellipse cx="480" cy="1165" rx="70" ry="100" fill="url(#rg59)" transform="rotate(10 480 1165)" filter="url(#bl4)"/>
<path d="M715 1075C738 1075 753 1068 765 1120C777 1172 758 1173 750 1230C742 1287 767 1260 740 1290C713 1320 707 1323 670 1320C633 1317 630 1320 630 1280C630 1240 648 1253 670 1200C692 1147 680 1162 695 1120C710 1078 692 1075 715 1075Z" fill="rgb(72,72,72)" filter="url(#bl4)"/>
<path d="M715 1095C728 1095 738 1088 745 1130C752 1172 743 1172 735 1220C727 1268 742 1248 720 1275C698 1302 693 1300 670 1300C647 1300 645 1308 650 1275C655 1242 667 1248 685 1200C703 1152 695 1165 705 1130C715 1095 702 1095 715 1095Z" fill="rgb(120,120,120)" filter="url(#bl6)"/>
<ellipse cx="1060" cy="1205" rx="82" ry="120" fill="rgb(78,78,78)" filter="url(#bl4)"/>
<ellipse cx="1060" cy="1205" rx="65" ry="105" fill="url(#rg60)" filter="url(#bl4)"/>
</g>
</g>
<text x="1272.0" y="2072.0" font-size="22.6" text-anchor="middle">6K-LNP</text>
<rect x="1381.7" y="2088.0" width="11.6" height="203.0" fill="url(#cb)" stroke="#40302c" stroke-width="1.6"/>
<path d="M1392.8 2135.0L1398.8 2135.0" stroke="#2a1c1c" stroke-width="2.6"/>
<text x="1401.6" y="2142.9" font-size="22.4">3.5</text>
<path d="M1392.8 2206.0L1398.8 2206.0" stroke="#2a1c1c" stroke-width="2.6"/>
<text x="1401.6" y="2213.9" font-size="22.4">3</text>
<text x="1401.6" y="2249.4" font-size="22.4">2.5</text>
<path d="M1392.8 2280.0L1398.8 2280.0" stroke="#2a1c1c" stroke-width="2.6"/>
<text x="1382.0" y="2079.0" font-size="21.5">×10<tspan font-size="13.8" dy="-7.7">7</tspan></text>
<text x="1431.0" y="2091.0" font-size="22.6">(photons s<tspan font-size="14.1" dy="-8.2">-1</tspan><tspan dy="8.2"> cm</tspan><tspan font-size="14.1" dy="-8.2">-2</tspan><tspan dy="8.2"> sr</tspan><tspan font-size="14.1" dy="-8.2">-1</tspan><tspan dy="8.2">)</tspan></text>
<g transform="translate(50 30) scale(0.15635)">
<path d="M1035 415C1150 445 1225 520 1225 590C1220 665 1120 690 1000 668C870 645 740 590 597 612" fill="none" stroke="#dc9a94" stroke-width="25" stroke-linecap="round" stroke-linejoin="round"/>
<g transform="translate(1232 584) rotate(-39.0) scale(1.131)">
<path d="M0 0L120 0" stroke="#6b6b6b" stroke-width="3"/>
<path d="M100 -5L140 -11L140 11L100 5Z" fill="#3fae97"/>
<rect x="138" y="-26" width="100" height="52" rx="8" fill="#e4c64a" stroke="#c9a93a" stroke-width="3"/>
<rect x="236" y="-26" width="14" height="52" fill="#3a3a3a"/>
<rect x="250" y="-26" width="150" height="52" fill="#ececec" stroke="#c8c8c8" stroke-width="3"/>
<rect x="250" y="-8" width="150" height="22" fill="#d2d2d2"/>
<rect x="396" y="-46" width="18" height="92" rx="8" fill="#efefef" stroke="#c4c4c4" stroke-width="3"/>
<rect x="414" y="-17" width="125" height="34" fill="#ededed" stroke="#cfcfcf" stroke-width="3"/>
<rect x="536" y="-36" width="20" height="72" rx="9" fill="#f2f2f2" stroke="#c4c4c4" stroke-width="3"/>
</g>
<path d="M780 562C801 548 806 551 860 535C914 519 933 506 960 508C987 510 974 522 950 540C926 558 919 554 880 568C841 582 847 584 820 588C793 592 802 588 790 580C778 572 759 576 780 562Z" fill="#e0a19b"/>
<path d="M228 530C239 520 260 534 300 522C340 510 330 508 360 490C390 472 378 463 400 462C422 461 432 468 432 488C432 508 431 511 400 530C369 549 371 544 330 552C289 560 293 563 262 556C231 549 217 540 228 530Z" fill="#e0a19b"/>
<ellipse cx="348" cy="98" rx="42" ry="25" fill="#d6d3cd" transform="rotate(-12 348 98)"/>
<path d="M88 245C97 218 100 224 140 195C180 166 169 173 220 150C271 127 256 122 310 118C364 114 349 121 400 135C451 149 420 160 480 165C540 170 528 159 600 150C672 141 657 140 720 136C783 132 750 122 810 138C870 154 860 141 920 190C980 239 973 237 1010 300C1047 363 1044 346 1042 400C1040 454 1048 443 1005 480C962 517 974 499 900 522C826 545 850 551 760 556C670 561 687 557 600 540C513 523 526 530 470 500C414 470 454 484 415 440C376 396 404 391 340 355C276 319 269 341 200 320C131 299 144 308 110 285C76 262 79 272 88 245Z" fill="#e5e4e2" stroke="#cfccc8" stroke-width="3"/>
<path d="M462 497C436 462 480 464 515 425C550 386 536 378 580 368C624 358 612 368 660 390C708 412 689 417 740 442C791 467 776 465 830 474C884 483 865 486 920 472C975 458 975 450 1012 428C1049 406 1044 384 1042 400C1040 416 1048 443 1005 480C962 517 974 499 900 522C826 545 850 551 760 556C670 561 689 558 600 540C511 522 488 532 462 497Z" fill="#cdc8be"/>
<path d="M480 170C540 210 545 290 520 350" fill="none" stroke="#d4d0ca" stroke-width="14" stroke-linecap="round" stroke-linejoin="round"/>
<ellipse cx="400" cy="195" rx="48" ry="56" fill="#eab8b2" transform="rotate(18 400 195)" stroke="#d9a59f" stroke-width="4"/>
<ellipse cx="392" cy="203" rx="24" ry="34" fill="#e0a19b" transform="rotate(18 392 203)"/>
<ellipse cx="230" cy="216" rx="20" ry="17" fill="#a8102a"/>
<ellipse cx="92" cy="246" rx="9" ry="14" fill="#e6aaa4"/>
<ellipse cx="880" cy="385" rx="97" ry="86" fill="#9dc4ef" transform="rotate(-10 880 385)" stroke="#86afe6" stroke-width="5"/>
<path d="M805 380C811 354 816 348 840 340C864 332 860 354 885 355C910 356 906 334 925 345C944 356 950 363 950 390C950 417 949 416 925 435C901 454 902 455 870 452C838 449 840 447 820 425C800 403 799 406 805 380Z" fill="#8592c9"/>
</g>
<g transform="translate(40 625) scale(0.18762)">
<path d="M545 540C470 510 410 475 340 472C290 472 270 495 285 525C300 555 350 560 372 580" fill="none" stroke="#e0a19b" stroke-width="17" stroke-linecap="round" stroke-linejoin="round"/>
<g transform="translate(410 480) rotate(-128.3) scale(0.892)">
<path d="M0 0L120 0" stroke="#6b6b6b" stroke-width="3"/>
<path d="M100 -5L140 -11L140 11L100 5Z" fill="#3fae97"/>
<rect x="138" y="-26" width="100" height="52" rx="8" fill="#e4c64a" stroke="#c9a93a" stroke-width="3"/>
<rect x="236" y="-26" width="14" height="52" fill="#3a3a3a"/>
<rect x="250" y="-26" width="150" height="52" fill="#ececec" stroke="#c8c8c8" stroke-width="3"/>
<rect x="250" y="-8" width="150" height="22" fill="#d2d2d2"/>
<rect x="396" y="-46" width="18" height="92" rx="8" fill="#efefef" stroke="#c4c4c4" stroke-width="3"/>
<rect x="414" y="-17" width="125" height="34" fill="#ededed" stroke="#cfcfcf" stroke-width="3"/>
<rect x="536" y="-36" width="20" height="72" rx="9" fill="#f2f2f2" stroke="#c4c4c4" stroke-width="3"/>
</g>
<path d="M495 620C501 610 510 602 530 600C550 598 554 603 560 615C566 627 565 634 550 640C535 646 526 641 510 635C494 629 489 630 495 620Z" fill="#e0a19b"/>
<path d="M660 740C672 724 688 725 700 740C712 755 696 768 700 790C704 812 721 804 715 815C709 826 706 827 680 828C654 829 646 825 630 818C614 811 616 812 625 805C634 798 650 814 660 795C670 776 648 756 660 740Z" fill="#e0a19b"/>
<path d="M880 700C892 684 906 683 920 695C934 707 912 719 925 740C938 761 964 753 965 765C966 777 952 777 930 780C908 783 905 784 890 775C875 766 883 772 880 750C877 728 868 716 880 700Z" fill="#e0a19b"/>
<path d="M905 420C898 401 914 359 930 350C946 341 956 359 975 380C994 401 1014 428 1010 440C1006 452 984 435 960 430C936 425 912 439 905 420Z" fill="#efe9e8" stroke="#d9a8a2" stroke-width="5"/>
<path d="M540 545C550 506 547 512 580 480C613 448 602 455 650 440C698 425 683 434 740 430C797 426 780 428 840 425C900 422 889 414 940 420C991 426 972 424 1010 445C1048 466 1054 457 1068 490C1082 523 1075 522 1055 555C1035 588 1032 572 1000 600C968 628 971 620 950 650C929 680 957 684 930 700C903 716 905 699 860 705C815 711 828 708 780 720C732 732 739 739 700 745C661 751 668 756 650 740C632 724 658 714 640 690C622 666 618 684 590 660C562 636 563 644 548 610C533 576 530 584 540 545Z" fill="#ededed" stroke="#bdbdbd" stroke-width="3"/>
<ellipse cx="765" cy="432" rx="70" ry="70" fill="#e0a19b" stroke="#c98d87" stroke-width="3"/>
<ellipse cx="780" cy="445" rx="22" ry="28" fill="#eab3ad"/>
<ellipse cx="905" cy="478" rx="22" ry="12" fill="#b3122f" transform="rotate(-25 905 478)"/>
<ellipse cx="1048" cy="492" rx="16" ry="14" fill="#e3a6a0"/>
<path d="M990 560C1020 560 1040 555 1050 540" fill="none" stroke="#a0a0a0" stroke-width="3" stroke-linecap="round" stroke-linejoin="round"/>
</g>
<g transform="translate(40 1340) scale(0.18762)">
<path d="M470 880L472 1030" fill="none" stroke="#e0a19b" stroke-width="24" stroke-linecap="butt" stroke-linejoin="round"/>
<path d="M225 940C222 924 232 908 255 890C278 872 266 886 300 880C334 874 352 864 370 870C388 876 384 886 360 900C336 914 318 902 290 915C262 928 284 938 265 945C246 952 228 956 225 940Z" fill="#e0a19b"/>
<path d="M580 880C586 872 590 877 620 880C650 883 650 872 680 890C710 908 717 925 720 940C723 955 708 948 690 940C672 932 687 926 660 915C633 904 624 916 600 905C576 894 574 888 580 880Z" fill="#e0a19b"/>
<path d="M225 275C224 258 229 248 240 245C251 242 252 248 262 265C272 282 275 284 275 300C275 316 271 318 262 318C253 318 256 313 245 300C234 287 226 292 225 275Z" fill="#e0a19b"/>
<path d="M718 270C719 254 713 246 703 245C693 244 694 248 685 265C676 282 672 285 672 300C672 315 677 316 685 315C693 314 690 312 700 298C710 284 717 286 718 270Z" fill="#e0a19b"/>
<ellipse cx="372" cy="225" rx="26" ry="32" fill="#e0a19b"/>
<ellipse cx="578" cy="222" rx="26" ry="32" fill="#e0a19b"/>
<path d="M472 75C491 78 487 107 510 140C533 173 542 168 560 200C578 232 578 231 578 260C578 289 551 290 560 310C569 330 578 336 610 335C642 334 660 308 680 305C700 302 696 300 685 325C674 350 665 364 640 400C615 436 601 417 590 460C579 503 587 501 600 560C613 619 627 621 640 680C653 739 658 735 650 780C642 825 627 825 610 850C593 875 609 870 585 875C561 880 551 863 520 870C489 877 497 900 470 900C443 900 448 878 420 870C392 862 392 889 365 870C338 851 337 835 320 800C303 765 303 775 300 740C297 705 297 718 310 670C323 622 334 616 350 560C366 504 381 505 370 460C359 415 337 428 310 390C283 352 276 341 268 318C260 295 263 300 280 305C297 310 302 333 330 335C358 337 372 332 385 312C398 292 374 293 378 260C382 227 383 225 400 190C417 155 421 161 440 130C459 99 453 72 472 75Z" fill="#cbc5bc"/>
<path d="M472 100C487 100 481 121 500 150C519 179 532 183 545 210C558 237 562 235 550 250C538 265 521 264 500 265C479 266 488 255 472 255C456 255 459 266 440 265C421 264 409 266 400 250C391 234 393 232 405 205C417 178 427 178 445 150C463 122 457 100 472 100Z" fill="#e7e6e4"/>
<path d="M472 290C509 290 501 304 540 320C579 336 588 347 620 350C652 353 660 317 660 330C660 343 644 368 620 400C596 432 581 407 570 450C559 493 567 499 580 560C593 621 604 621 620 680C636 739 648 751 640 780C632 809 622 782 590 790C558 798 552 794 520 810C488 826 497 850 470 850C443 850 452 826 420 810C388 794 378 803 350 790C322 777 322 789 315 760C308 731 312 733 325 680C338 627 349 621 365 560C381 499 394 494 385 450C376 406 355 426 330 395C305 364 290 347 290 335C290 323 301 354 330 350C359 346 362 336 400 320C438 304 435 290 472 290Z" fill="#e7e6e4"/>
<ellipse cx="437" cy="695" rx="30" ry="30" fill="url(#rg61)"/>
<g transform="translate(432 702) rotate(117.9) scale(1.037)">
<path d="M0 0L120 0" stroke="#6b6b6b" stroke-width="3"/>
<path d="M100 -5L140 -11L140 11L100 5Z" fill="#3fae97"/>
<rect x="138" y="-26" width="100" height="52" rx="8" fill="#e4c64a" stroke="#c9a93a" stroke-width="3"/>
<rect x="236" y="-26" width="14" height="52" fill="#3a3a3a"/>
<rect x="250" y="-26" width="150" height="52" fill="#ececec" stroke="#c8c8c8" stroke-width="3"/>
<rect x="250" y="-8" width="150" height="22" fill="#d2d2d2"/>
<rect x="396" y="-46" width="18" height="92" rx="8" fill="#efefef" stroke="#c4c4c4" stroke-width="3"/>
<rect x="414" y="-17" width="125" height="34" fill="#ededed" stroke="#cfcfcf" stroke-width="3"/>
<rect x="536" y="-36" width="20" height="72" rx="9" fill="#f2f2f2" stroke="#c4c4c4" stroke-width="3"/>
</g>
</g>
<g transform="translate(40 2045) scale(0.18762)">
<path d="M470 880L472 1030" fill="none" stroke="#e0a19b" stroke-width="24" stroke-linecap="butt" stroke-linejoin="round"/>
<path d="M225 940C222 924 232 908 255 890C278 872 266 886 300 880C334 874 352 864 370 870C388 876 384 886 360 900C336 914 318 902 290 915C262 928 284 938 265 945C246 952 228 956 225 940Z" fill="#e0a19b"/>
<path d="M580 880C586 872 590 877 620 880C650 883 650 872 680 890C710 908 717 925 720 940C723 955 708 948 690 940C672 932 687 926 660 915C633 904 624 916 600 905C576 894 574 888 580 880Z" fill="#e0a19b"/>
<path d="M225 275C224 258 229 248 240 245C251 242 252 248 262 265C272 282 275 284 275 300C275 316 271 318 262 318C253 318 256 313 245 300C234 287 226 292 225 275Z" fill="#e0a19b"/>
<path d="M718 270C719 254 713 246 703 245C693 244 694 248 685 265C676 282 672 285 672 300C672 315 677 316 685 315C693 314 690 312 700 298C710 284 717 286 718 270Z" fill="#e0a19b"/>
<ellipse cx="372" cy="225" rx="26" ry="32" fill="#e0a19b"/>
<ellipse cx="578" cy="222" rx="26" ry="32" fill="#e0a19b"/>
<path d="M472 75C491 78 487 107 510 140C533 173 542 168 560 200C578 232 578 231 578 260C578 289 551 290 560 310C569 330 578 336 610 335C642 334 660 308 680 305C700 302 696 300 685 325C674 350 665 364 640 400C615 436 601 417 590 460C579 503 587 501 600 560C613 619 627 621 640 680C653 739 658 735 650 780C642 825 627 825 610 850C593 875 609 870 585 875C561 880 551 863 520 870C489 877 497 900 470 900C443 900 448 878 420 870C392 862 392 889 365 870C338 851 337 835 320 800C303 765 303 775 300 740C297 705 297 718 310 670C323 622 334 616 350 560C366 504 381 505 370 460C359 415 337 428 310 390C283 352 276 341 268 318C260 295 263 300 280 305C297 310 302 333 330 335C358 337 372 332 385 312C398 292 374 293 378 260C382 227 383 225 400 190C417 155 421 161 440 130C459 99 453 72 472 75Z" fill="#cbc5bc"/>
<path d="M472 100C487 100 481 121 500 150C519 179 532 183 545 210C558 237 562 235 550 250C538 265 521 264 500 265C479 266 488 255 472 255C456 255 459 266 440 265C421 264 409 266 400 250C391 234 393 232 405 205C417 178 427 178 445 150C463 122 457 100 472 100Z" fill="#e7e6e4"/>
<path d="M472 290C509 290 501 304 540 320C579 336 588 347 620 350C652 353 660 317 660 330C660 343 644 368 620 400C596 432 581 407 570 450C559 493 567 499 580 560C593 621 604 621 620 680C636 739 648 751 640 780C632 809 622 782 590 790C558 798 552 794 520 810C488 826 497 850 470 850C443 850 452 826 420 810C388 794 378 803 350 790C322 777 322 789 315 760C308 731 312 733 325 680C338 627 349 621 365 560C381 499 394 494 385 450C376 406 355 426 330 395C305 364 290 347 290 335C290 323 301 354 330 350C359 346 362 336 400 320C438 304 435 290 472 290Z" fill="#e7e6e4"/>
<ellipse cx="437" cy="695" rx="30" ry="30" fill="url(#rg62)"/>
<g transform="translate(432 702) rotate(117.9) scale(1.037)">
<path d="M0 0L120 0" stroke="#6b6b6b" stroke-width="3"/>
<path d="M100 -5L140 -11L140 11L100 5Z" fill="#3fae97"/>
<rect x="138" y="-26" width="100" height="52" rx="8" fill="#e4c64a" stroke="#c9a93a" stroke-width="3"/>
<rect x="236" y="-26" width="14" height="52" fill="#3a3a3a"/>
<rect x="250" y="-26" width="150" height="52" fill="#ececec" stroke="#c8c8c8" stroke-width="3"/>
<rect x="250" y="-8" width="150" height="22" fill="#d2d2d2"/>
<rect x="396" y="-46" width="18" height="92" rx="8" fill="#efefef" stroke="#c4c4c4" stroke-width="3"/>
<rect x="414" y="-17" width="125" height="34" fill="#ededed" stroke="#cfcfcf" stroke-width="3"/>
<rect x="536" y="-36" width="20" height="72" rx="9" fill="#f2f2f2" stroke="#c4c4c4" stroke-width="3"/>
</g>
</g>
<rect x="127.3" y="437.0" width="40.0" height="72.8" fill="#b957ee"/>
<rect x="184.1" y="448.6" width="40.0" height="61.2" fill="#b957ee"/>
<rect x="241.0" y="322.1" width="40.4" height="187.7" fill="#b957ee"/>
<path d="M108.9 260.9L108.9 511.0" stroke="#000" stroke-width="2.4"/>
<path d="M107.9 509.8L301.0 509.8" stroke="#000" stroke-width="2.4"/>
<path d="M95.9 262.1L108.9 262.1" stroke="#000" stroke-width="2.4"/>
<text x="91.4" y="269.9" font-size="22" text-anchor="end">6</text>
<path d="M95.9 344.9L108.9 344.9" stroke="#000" stroke-width="2.4"/>
<text x="91.4" y="352.7" font-size="22" text-anchor="end">4</text>
<path d="M95.9 427.0L108.9 427.0" stroke="#000" stroke-width="2.4"/>
<text x="91.4" y="434.8" font-size="22" text-anchor="end">2</text>
<path d="M95.9 509.8L108.9 509.8" stroke="#000" stroke-width="2.4"/>
<text x="91.4" y="517.6" font-size="22" text-anchor="end">0</text>
<path d="M147.3 509.8L147.3 520.8" stroke="#000" stroke-width="2.4"/>
<text transform="translate(153.2 537.0) rotate(-45)" font-size="22.6" text-anchor="end">PBS</text>
<path d="M204.1 509.8L204.1 520.8" stroke="#000" stroke-width="2.4"/>
<text transform="translate(210.0 537.0) rotate(-45)" font-size="22.6" text-anchor="end">TLNP</text>
<path d="M261.2 509.8L261.2 520.8" stroke="#000" stroke-width="2.4"/>
<text transform="translate(267.1 537.0) rotate(-45)" font-size="22.6" text-anchor="end">6K-3-LNP</text>
<path d="M136.8 421.0L157.8 421.0" stroke="#000" stroke-width="2"/>
<path d="M147.3 421.0L147.3 437.0" stroke="#000" stroke-width="2"/>
<path d="M193.6 442.2L214.6 442.2" stroke="#000" stroke-width="2"/>
<path d="M204.1 442.2L204.1 448.6" stroke="#000" stroke-width="2"/>
<path d="M250.5 303.3L271.5 303.3" stroke="#000" stroke-width="2"/>
<path d="M261.0 303.3L261.0 322.1" stroke="#000" stroke-width="2"/>
<circle cx="147.3" cy="418.6" r="4.5" fill="#000"/>
<circle cx="138.5" cy="450.6" r="4.5" fill="#000"/>
<circle cx="155.7" cy="445.8" r="4.5" fill="#000"/>
<circle cx="195.3" cy="443.0" r="4.5" fill="#000"/>
<circle cx="212.5" cy="447.8" r="4.5" fill="#000"/>
<circle cx="204.1" cy="457.8" r="4.5" fill="#000"/>
<circle cx="261.0" cy="304.5" r="4.5" fill="#000"/>
<circle cx="261.0" cy="321.3" r="4.5" fill="#000"/>
<circle cx="261.0" cy="344.1" r="4.5" fill="#000"/>
<path d="M146.1 250.9L288.2 250.9" stroke="#000" stroke-width="2"/>
<text x="219.3" y="246.0" font-size="19.5" text-anchor="middle"><tspan font-style="italic">p</tspan>=0.0003</text>
<path d="M194.9 289.7L281.4 289.7" stroke="#000" stroke-width="2"/>
<text x="235.7" y="282.1" font-size="19.5" text-anchor="middle"><tspan font-style="italic">p</tspan>=0.0002</text>
<path d="M140.1 407.3L216.1 407.3" stroke="#000" stroke-width="2"/>
<text x="180.1" y="402.5" font-size="19.5" text-anchor="middle"><tspan font-style="italic">p</tspan>=0.6640</text>
<text x="99.3" y="245.2" font-size="21">×10<tspan font-size="13.0" dy="-7.6">7</tspan></text>
<text transform="translate(67.2 387.6) rotate(-90)" font-size="22.85" text-anchor="middle">Average radiance (p/sec/cm<tspan font-size="13.6" dy="-7.5">2</tspan><tspan dy="7.5">/sr)</tspan></text>
<rect x="442.3" y="489.0" width="40.0" height="20.8" fill="#6f8fc4"/>
<rect x="499.1" y="304.1" width="40.4" height="205.7" fill="#6f8fc4"/>
<rect x="555.9" y="486.2" width="40.5" height="23.6" fill="#6f8fc4"/>
<path d="M424.3 261.7L424.3 511.0" stroke="#000" stroke-width="2.4"/>
<path d="M423.3 509.8L615.6 509.8" stroke="#000" stroke-width="2.4"/>
<path d="M411.3 262.9L424.3 262.9" stroke="#000" stroke-width="2.4"/>
<text x="406.8" y="270.7" font-size="22" text-anchor="end">2.5</text>
<path d="M411.3 312.1L424.3 312.1" stroke="#000" stroke-width="2.4"/>
<text x="406.8" y="319.9" font-size="22" text-anchor="end">2</text>
<path d="M411.3 361.3L424.3 361.3" stroke="#000" stroke-width="2.4"/>
<text x="406.8" y="369.1" font-size="22" text-anchor="end">1.5</text>
<path d="M411.3 410.6L424.3 410.6" stroke="#000" stroke-width="2.4"/>
<text x="406.8" y="418.4" font-size="22" text-anchor="end">1</text>
<path d="M411.3 460.2L424.3 460.2" stroke="#000" stroke-width="2.4"/>
<text x="406.8" y="468.0" font-size="22" text-anchor="end">0.5</text>
<path d="M411.3 509.8L424.3 509.8" stroke="#000" stroke-width="2.4"/>
<text x="406.8" y="517.6" font-size="22" text-anchor="end">0</text>
<path d="M462.3 509.8L462.3 520.8" stroke="#000" stroke-width="2.4"/>
<text transform="translate(471.7 535.8) rotate(-45)" font-size="22.6" text-anchor="end">PBS</text>
<path d="M519.3 509.8L519.3 520.8" stroke="#000" stroke-width="2.4"/>
<text transform="translate(525.2 536.0) rotate(-45)" font-size="22.6" text-anchor="end">TLNP</text>
<path d="M576.1 509.8L576.1 520.8" stroke="#000" stroke-width="2.4"/>
<text transform="translate(581.0 536.0) rotate(-45)" font-size="22.6" text-anchor="end">6K-3-LNP</text>
<path d="M451.8 489.0L472.8 489.0" stroke="#000" stroke-width="2"/>
<path d="M462.3 489.0L462.3 489.0" stroke="#000" stroke-width="2"/>
<path d="M508.6 284.5L529.6 284.5" stroke="#000" stroke-width="2"/>
<path d="M519.1 284.5L519.1 304.1" stroke="#000" stroke-width="2"/>
<path d="M565.5 483.4L586.5 483.4" stroke="#000" stroke-width="2"/>
<path d="M576.0 483.4L576.0 486.2" stroke="#000" stroke-width="2"/>
<circle cx="447.9" cy="489.4" r="4.5" fill="#000"/>
<circle cx="462.3" cy="489.0" r="4.5" fill="#000"/>
<circle cx="476.7" cy="489.4" r="4.5" fill="#000"/>
<circle cx="519.1" cy="289.7" r="4.5" fill="#000"/>
<circle cx="519.1" cy="298.5" r="4.5" fill="#000"/>
<circle cx="519.1" cy="328.9" r="4.5" fill="#000"/>
<circle cx="567.6" cy="484.6" r="4.5" fill="#000"/>
<circle cx="584.8" cy="485.4" r="4.5" fill="#000"/>
<circle cx="567.6" cy="491.4" r="4.5" fill="#000"/>
<path d="M459.5 213.6L601.2 213.6" stroke="#000" stroke-width="2"/>
<text x="532.3" y="205.2" font-size="19.5" text-anchor="middle"><tspan font-style="italic">p</tspan>=0.9731</text>
<path d="M518.3 246.4L597.6 246.4" stroke="#000" stroke-width="2"/>
<text x="554.3" y="238.8" font-size="19.5" text-anchor="middle"><tspan font-style="italic">p</tspan><tspan font-family="'Noto Sans CJK SC', sans-serif" font-size="16.5" dx="1.5" dy="-0.9">＜</tspan><tspan dx="1.5" dy="0.9">0.0001</tspan></text>
<path d="M439.5 275.7L526.7 275.7" stroke="#000" stroke-width="2"/>
<text x="489.1" y="268.1" font-size="19.5" text-anchor="middle"><tspan font-style="italic">p</tspan><tspan font-family="'Noto Sans CJK SC', sans-serif" font-size="16.5" dx="1.5" dy="-0.9">＜</tspan><tspan dx="1.5" dy="0.9">0.0001</tspan></text>
<text x="412.3" y="244.0" font-size="21">×10<tspan font-size="13.0" dy="-7.6">8</tspan></text>
<rect x="768.1" y="371.3" width="40.8" height="138.5" fill="#d8b656"/>
<rect x="824.9" y="300.1" width="40.8" height="209.7" fill="#d8b656"/>
<rect x="881.7" y="368.9" width="40.9" height="140.9" fill="#d8b656"/>
<path d="M750.8 260.9L750.8 511.0" stroke="#000" stroke-width="2.4"/>
<path d="M749.8 509.8L942.2 509.8" stroke="#000" stroke-width="2.4"/>
<path d="M737.8 262.1L750.8 262.1" stroke="#000" stroke-width="2.4"/>
<text x="733.3" y="269.9" font-size="22" text-anchor="end">2</text>
<path d="M737.8 312.1L750.8 312.1" stroke="#000" stroke-width="2.4"/>
<text x="733.3" y="319.9" font-size="22" text-anchor="end">1.8</text>
<path d="M737.8 361.3L750.8 361.3" stroke="#000" stroke-width="2.4"/>
<text x="733.3" y="369.1" font-size="22" text-anchor="end">1.6</text>
<path d="M737.8 410.6L750.8 410.6" stroke="#000" stroke-width="2.4"/>
<text x="733.3" y="418.4" font-size="22" text-anchor="end">1.4</text>
<path d="M737.8 460.2L750.8 460.2" stroke="#000" stroke-width="2.4"/>
<text x="733.3" y="468.0" font-size="22" text-anchor="end">1.2</text>
<path d="M737.8 509.8L750.8 509.8" stroke="#000" stroke-width="2.4"/>
<text x="733.3" y="517.6" font-size="22" text-anchor="end">1</text>
<path d="M788.5 509.8L788.5 520.8" stroke="#000" stroke-width="2.4"/>
<text transform="translate(796.9 536.2) rotate(-45)" font-size="22.6" text-anchor="end">PBS</text>
<path d="M845.3 509.8L845.3 520.8" stroke="#000" stroke-width="2.4"/>
<text transform="translate(853.4 536.2) rotate(-45)" font-size="22.6" text-anchor="end">TLNP</text>
<path d="M902.2 509.8L902.2 520.8" stroke="#000" stroke-width="2.4"/>
<text transform="translate(909.9 536.2) rotate(-45)" font-size="22.6" text-anchor="end">6K-3-LNP</text>
<path d="M778.0 340.9L799.0 340.9" stroke="#000" stroke-width="2"/>
<path d="M788.5 340.9L788.5 371.3" stroke="#000" stroke-width="2"/>
<path d="M834.8 274.1L855.8 274.1" stroke="#000" stroke-width="2"/>
<path d="M845.3 274.1L845.3 300.1" stroke="#000" stroke-width="2"/>
<path d="M891.6 286.9L912.6 286.9" stroke="#000" stroke-width="2"/>
<path d="M902.1 286.9L902.1 368.9" stroke="#000" stroke-width="2"/>
<circle cx="788.5" cy="336.5" r="4.5" fill="#000"/>
<circle cx="788.5" cy="386.1" r="4.5" fill="#000"/>
<circle cx="788.5" cy="396.1" r="4.5" fill="#000"/>
<circle cx="845.3" cy="272.1" r="4.5" fill="#000"/>
<circle cx="845.3" cy="304.9" r="4.5" fill="#000"/>
<circle cx="845.3" cy="327.3" r="4.5" fill="#000"/>
<circle cx="902.1" cy="274.9" r="4.5" fill="#000"/>
<circle cx="902.1" cy="406.1" r="4.5" fill="#000"/>
<circle cx="902.1" cy="430.6" r="4.5" fill="#000"/>
<path d="M785.3 207.6L917.7 207.6" stroke="#000" stroke-width="2"/>
<text x="850.1" y="202.0" font-size="19.5" text-anchor="middle"><tspan font-style="italic">p</tspan>=0.9983</text>
<path d="M830.1 233.2L917.7 233.2" stroke="#000" stroke-width="2"/>
<text x="870.1" y="228.0" font-size="19.5" text-anchor="middle"><tspan font-style="italic">p</tspan>=0.3280</text>
<path d="M759.2 262.9L846.1 262.9" stroke="#000" stroke-width="2"/>
<text x="804.1" y="257.3" font-size="19.5" text-anchor="middle"><tspan font-style="italic">p</tspan>=0.9731</text>
<text x="734.0" y="237.2" font-size="21">×10<tspan font-size="13.0" dy="-7.6">7</tspan></text>
<rect x="1093.5" y="434.6" width="40.4" height="71.6" fill="#bd6c77"/>
<rect x="1150.3" y="326.5" width="40.4" height="179.7" fill="#bd6c77"/>
<rect x="1207.1" y="452.2" width="40.5" height="54.0" fill="#bd6c77"/>
<path d="M1076.2 257.7L1076.2 507.4" stroke="#000" stroke-width="2.4"/>
<path d="M1075.2 506.2L1267.2 506.2" stroke="#000" stroke-width="2.4"/>
<path d="M1063.2 258.9L1076.2 258.9" stroke="#000" stroke-width="2.4"/>
<text x="1060.2" y="266.7" font-size="22" text-anchor="end">2</text>
<path d="M1063.2 321.3L1076.2 321.3" stroke="#000" stroke-width="2.4"/>
<text x="1060.2" y="329.1" font-size="22" text-anchor="end">1.5</text>
<path d="M1063.2 382.9L1076.2 382.9" stroke="#000" stroke-width="2.4"/>
<text x="1060.2" y="390.7" font-size="22" text-anchor="end">1</text>
<path d="M1063.2 444.6L1076.2 444.6" stroke="#000" stroke-width="2.4"/>
<text x="1060.2" y="452.4" font-size="22" text-anchor="end">0.5</text>
<path d="M1063.2 506.2L1076.2 506.2" stroke="#000" stroke-width="2.4"/>
<text x="1060.2" y="514.0" font-size="22" text-anchor="end">0</text>
<path d="M1113.7 506.2L1113.7 517.2" stroke="#000" stroke-width="2.4"/>
<text transform="translate(1123.3 536.4) rotate(-45)" font-size="22.6" text-anchor="end">PBS</text>
<path d="M1170.5 506.2L1170.5 517.2" stroke="#000" stroke-width="2.4"/>
<text transform="translate(1180.9 536.4) rotate(-45)" font-size="22.6" text-anchor="end">TLNP</text>
<path d="M1227.3 506.2L1227.3 517.2" stroke="#000" stroke-width="2.4"/>
<text transform="translate(1237.0 536.4) rotate(-45)" font-size="22.6" text-anchor="end">6K-3-LNP</text>
<path d="M1103.0 424.2L1124.0 424.2" stroke="#000" stroke-width="2"/>
<path d="M1113.5 424.2L1113.5 434.6" stroke="#000" stroke-width="2"/>
<path d="M1159.8 299.3L1180.8 299.3" stroke="#000" stroke-width="2"/>
<path d="M1170.3 299.3L1170.3 326.5" stroke="#000" stroke-width="2"/>
<path d="M1216.6 449.0L1237.6 449.0" stroke="#000" stroke-width="2"/>
<path d="M1227.1 449.0L1227.1 452.2" stroke="#000" stroke-width="2"/>
<circle cx="1113.5" cy="422.2" r="4.5" fill="#000"/>
<circle cx="1104.7" cy="443.4" r="4.5" fill="#000"/>
<circle cx="1121.9" cy="442.2" r="4.5" fill="#000"/>
<circle cx="1170.3" cy="305.3" r="4.5" fill="#000"/>
<circle cx="1170.3" cy="319.3" r="4.5" fill="#000"/>
<circle cx="1170.3" cy="359.3" r="4.5" fill="#000"/>
<circle cx="1227.1" cy="449.0" r="4.5" fill="#000"/>
<circle cx="1212.3" cy="455.8" r="4.5" fill="#000"/>
<circle cx="1242.4" cy="455.8" r="4.5" fill="#000"/>
<path d="M1122.3 217.2L1254.8 217.2" stroke="#000" stroke-width="2"/>
<text x="1192.3" y="208.4" font-size="19.5" text-anchor="middle"><tspan font-style="italic">p</tspan>=0.4899</text>
<path d="M1165.1 259.7L1251.6 259.7" stroke="#000" stroke-width="2"/>
<text x="1211.5" y="247.6" font-size="19.5" text-anchor="middle"><tspan font-style="italic">p</tspan>=0.0003</text>
<path d="M1093.5 288.9L1180.3 288.9" stroke="#000" stroke-width="2"/>
<text x="1140.3" y="283.3" font-size="19.5" text-anchor="middle"><tspan font-style="italic">p</tspan>=0.0007</text>
<text x="1066.2" y="244.0" font-size="21">×10<tspan font-size="13.0" dy="-7.6">7</tspan></text>
<rect x="1435.3" y="500.6" width="40.4" height="9.5" fill="#6f8fc4"/>
<rect x="1435.3" y="475.4" width="40.4" height="25.5" fill="#d8b656"/>
<rect x="1435.3" y="420.2" width="40.4" height="55.5" fill="#bd6c77"/>
<rect x="1435.3" y="344.1" width="40.4" height="76.4" fill="#b957ee"/>
<rect x="1492.2" y="372.9" width="40.4" height="137.2" fill="#6f8fc4"/>
<rect x="1492.2" y="369.3" width="40.4" height="3.9" fill="#d8b656"/>
<rect x="1492.2" y="346.1" width="40.4" height="23.5" fill="#bd6c77"/>
<rect x="1492.2" y="344.1" width="40.4" height="2.3" fill="#b957ee"/>
<rect x="1549.0" y="494.2" width="40.4" height="15.9" fill="#6f8fc4"/>
<rect x="1549.0" y="482.2" width="40.4" height="12.3" fill="#d8b656"/>
<rect x="1549.0" y="463.4" width="40.4" height="19.1" fill="#bd6c77"/>
<rect x="1549.0" y="344.1" width="40.4" height="119.6" fill="#b957ee"/>
<path d="M1417.3 260.9L1417.3 511.0" stroke="#000" stroke-width="2.4"/>
<path d="M1416.3 509.8L1609.0 509.8" stroke="#000" stroke-width="2.4"/>
<path d="M1404.3 262.1L1417.3 262.1" stroke="#000" stroke-width="2.4"/>
<text x="1399.8" y="269.9" font-size="22" text-anchor="end">1.5</text>
<path d="M1404.3 344.9L1417.3 344.9" stroke="#000" stroke-width="2.4"/>
<text x="1399.8" y="352.7" font-size="22" text-anchor="end">1.0</text>
<path d="M1404.3 427.0L1417.3 427.0" stroke="#000" stroke-width="2.4"/>
<text x="1399.8" y="434.8" font-size="22" text-anchor="end">0.5</text>
<path d="M1404.3 509.8L1417.3 509.8" stroke="#000" stroke-width="2.4"/>
<text x="1399.8" y="517.6" font-size="22" text-anchor="end">0</text>
<path d="M1409.3 303.3L1417.3 303.3" stroke="#000" stroke-width="2.4"/>
<path d="M1409.3 386.1L1417.3 386.1" stroke="#000" stroke-width="2.4"/>
<path d="M1409.3 468.2L1417.3 468.2" stroke="#000" stroke-width="2.4"/>
<path d="M1455.5 509.8L1455.5 520.8" stroke="#000" stroke-width="2.4"/>
<text transform="translate(1464.4 536.2) rotate(-45)" font-size="22.6" text-anchor="end">PBS</text>
<path d="M1512.4 509.8L1512.4 520.8" stroke="#000" stroke-width="2.4"/>
<text transform="translate(1521.0 536.2) rotate(-45)" font-size="22.6" text-anchor="end">TLNP</text>
<path d="M1569.2 509.8L1569.2 520.8" stroke="#000" stroke-width="2.4"/>
<text transform="translate(1577.3 536.2) rotate(-45)" font-size="22.6" text-anchor="end">6K-3-LNP</text>
<path d="M1444.8 317.3L1465.8 317.3" stroke="#000" stroke-width="2"/>
<path d="M1455.3 317.3L1455.3 344.1" stroke="#000" stroke-width="2"/>
<path d="M1444.8 393.7L1465.8 393.7" stroke="#000" stroke-width="2"/>
<path d="M1455.3 393.7L1455.3 420.2" stroke="#000" stroke-width="2"/>
<path d="M1444.8 469.8L1465.8 469.8" stroke="#000" stroke-width="2"/>
<path d="M1455.3 469.8L1455.3 476.2" stroke="#000" stroke-width="2"/>
<path d="M1444.8 499.8L1465.8 499.8" stroke="#000" stroke-width="2"/>
<path d="M1455.3 499.8L1455.3 502.2" stroke="#000" stroke-width="2"/>
<path d="M1501.7 341.3L1522.7 341.3" stroke="#000" stroke-width="3.5"/>
<path d="M1512.2 341.3L1512.2 346.1" stroke="#000" stroke-width="2"/>
<path d="M1501.7 364.5L1522.7 364.5" stroke="#000" stroke-width="2"/>
<path d="M1512.2 364.5L1512.2 372.9" stroke="#000" stroke-width="2"/>
<path d="M1501.7 368.1L1522.7 368.1" stroke="#000" stroke-width="2"/>
<path d="M1558.5 341.7L1579.5 341.7" stroke="#000" stroke-width="2"/>
<path d="M1569.0 341.7L1569.0 344.9" stroke="#000" stroke-width="2"/>
<path d="M1558.5 459.0L1579.5 459.0" stroke="#000" stroke-width="2"/>
<path d="M1569.0 459.0L1569.0 464.2" stroke="#000" stroke-width="2"/>
<path d="M1558.5 477.0L1579.5 477.0" stroke="#000" stroke-width="2"/>
<path d="M1569.0 477.0L1569.0 483.0" stroke="#000" stroke-width="2"/>
<path d="M1558.5 491.4L1579.5 491.4" stroke="#000" stroke-width="2"/>
<path d="M1569.0 491.4L1569.0 495.0" stroke="#000" stroke-width="2"/>
<text transform="translate(1357.3 365.6) rotate(-90)" font-size="22.85" text-anchor="middle">Percentage of radiance change</text>
<rect x="1661.1" y="222.0" width="36.4" height="22.8" fill="#b957ee"/>
<text x="1711.5" y="238.8" font-size="22.4">placenta</text>
<rect x="1661.1" y="260.1" width="36.4" height="22.8" fill="#6f8fc4"/>
<text x="1711.5" y="277.3" font-size="22.4">liver</text>
<rect x="1661.1" y="297.7" width="36.4" height="22.8" fill="#d8b656"/>
<text x="1711.5" y="316.5" font-size="22.4">lung</text>
<rect x="1661.1" y="335.3" width="36.4" height="22.8" fill="#bd6c77"/>
<text x="1711.5" y="354.9" font-size="22.4">spleen</text>
<rect x="133.3" y="1096.9" width="40.8" height="95.3" fill="#a9fca1"/>
<rect x="190.1" y="1100.9" width="40.8" height="91.3" fill="#a9fca1"/>
<rect x="247.0" y="1010.9" width="40.8" height="181.3" fill="#a9fca1"/>
<path d="M116.1 944.0L116.1 1193.4" stroke="#000" stroke-width="2.4"/>
<path d="M115.1 1192.2L307.4 1192.2" stroke="#000" stroke-width="2.4"/>
<path d="M103.1 945.2L116.1 945.2" stroke="#000" stroke-width="2.4"/>
<text x="98.6" y="953.0" font-size="22" text-anchor="end">5</text>
<path d="M103.1 994.9L116.1 994.9" stroke="#000" stroke-width="2.4"/>
<text x="98.6" y="1002.7" font-size="22" text-anchor="end">4</text>
<path d="M103.1 1044.1L116.1 1044.1" stroke="#000" stroke-width="2.4"/>
<text x="98.6" y="1051.9" font-size="22" text-anchor="end">3</text>
<path d="M103.1 1093.7L116.1 1093.7" stroke="#000" stroke-width="2.4"/>
<text x="98.6" y="1101.5" font-size="22" text-anchor="end">2</text>
<path d="M103.1 1143.0L116.1 1143.0" stroke="#000" stroke-width="2.4"/>
<text x="98.6" y="1150.8" font-size="22" text-anchor="end">1</text>
<path d="M103.1 1192.2L116.1 1192.2" stroke="#000" stroke-width="2.4"/>
<text x="98.6" y="1200.0" font-size="22" text-anchor="end">0</text>
<path d="M153.7 1192.2L153.7 1203.2" stroke="#000" stroke-width="2.4"/>
<text transform="translate(158.1 1218.4) rotate(-45)" font-size="22.6" text-anchor="end">PBS</text>
<path d="M210.5 1192.2L210.5 1203.2" stroke="#000" stroke-width="2.4"/>
<text transform="translate(214.9 1218.4) rotate(-45)" font-size="22.6" text-anchor="end">ESM-TLNP</text>
<path d="M267.4 1192.2L267.4 1203.2" stroke="#000" stroke-width="2.4"/>
<text transform="translate(271.8 1218.4) rotate(-45)" font-size="22.6" text-anchor="end">ESM-6H-3-LNP</text>
<path d="M143.2 1094.9L164.2 1094.9" stroke="#000" stroke-width="2"/>
<path d="M153.7 1094.9L153.7 1096.9" stroke="#000" stroke-width="2"/>
<path d="M200.0 1096.9L221.0 1096.9" stroke="#000" stroke-width="2"/>
<path d="M210.5 1096.9L210.5 1100.9" stroke="#000" stroke-width="2"/>
<path d="M256.9 1001.3L277.9 1001.3" stroke="#000" stroke-width="2"/>
<path d="M267.4 1001.3L267.4 1010.9" stroke="#000" stroke-width="2"/>
<circle cx="140.1" cy="1099.3" r="5.2" fill="#000"/>
<circle cx="153.7" cy="1094.1" r="5.2" fill="#000"/>
<circle cx="166.9" cy="1096.5" r="5.2" fill="#000"/>
<circle cx="196.9" cy="1106.1" r="5.2" fill="#000"/>
<circle cx="210.5" cy="1096.1" r="5.2" fill="#000"/>
<circle cx="224.1" cy="1106.1" r="5.2" fill="#000"/>
<circle cx="267.4" cy="1002.1" r="5.2" fill="#000"/>
<circle cx="267.4" cy="1012.1" r="5.2" fill="#000"/>
<circle cx="267.4" cy="1023.3" r="5.2" fill="#000"/>
<path d="M142.1 950.5L283.8 950.5" stroke="#000" stroke-width="2"/>
<text x="205.3" y="941.2" font-size="19.5" text-anchor="middle"><tspan font-style="italic">p</tspan><tspan font-family="'Noto Sans CJK SC', sans-serif" font-size="16.5" dx="1.5" dy="-0.9">＜</tspan><tspan dx="1.5" dy="0.9">0.0001</tspan></text>
<path d="M194.1 986.1L281.0 986.1" stroke="#000" stroke-width="2"/>
<text x="238.1" y="976.9" font-size="19.5" text-anchor="middle"><tspan font-style="italic">p</tspan><tspan font-family="'Noto Sans CJK SC', sans-serif" font-size="16.5" dx="1.5" dy="-0.9">＜</tspan><tspan dx="1.5" dy="0.9">0.0001</tspan></text>
<path d="M142.1 1077.3L216.1 1077.3" stroke="#000" stroke-width="2"/>
<text x="183.3" y="1070.1" font-size="19.5" text-anchor="middle"><tspan font-style="italic">p</tspan>=0.5950</text>
<text x="99.3" y="932.0" font-size="21">×10<tspan font-size="13.0" dy="-7.6">7</tspan></text>
<text transform="translate(67.2 1059.6) rotate(-90)" font-size="22.85" text-anchor="middle">Average radiance (p/sec/cm<tspan font-size="13.6" dy="-7.5">2</tspan><tspan dy="7.5">/sr)</tspan></text>
<rect x="445.5" y="1153.0" width="40.8" height="33.2" fill="#6f8fc4"/>
<rect x="502.7" y="1010.9" width="40.4" height="175.3" fill="#6f8fc4"/>
<rect x="559.5" y="1152.2" width="40.5" height="34.0" fill="#6f8fc4"/>
<path d="M428.3 937.6L428.3 1187.4" stroke="#000" stroke-width="2.4"/>
<path d="M427.3 1186.2L619.6 1186.2" stroke="#000" stroke-width="2.4"/>
<path d="M415.3 938.8L428.3 938.8" stroke="#000" stroke-width="2.4"/>
<text x="408.6" y="946.6" font-size="22" text-anchor="end">2</text>
<path d="M415.3 1000.9L428.3 1000.9" stroke="#000" stroke-width="2.4"/>
<text x="408.6" y="1008.7" font-size="22" text-anchor="end">1.5</text>
<path d="M415.3 1062.5L428.3 1062.5" stroke="#000" stroke-width="2.4"/>
<text x="408.6" y="1070.3" font-size="22" text-anchor="end">1</text>
<path d="M415.3 1124.6L428.3 1124.6" stroke="#000" stroke-width="2.4"/>
<text x="408.6" y="1132.4" font-size="22" text-anchor="end">0.5</text>
<path d="M415.3 1186.2L428.3 1186.2" stroke="#000" stroke-width="2.4"/>
<text x="408.6" y="1194.0" font-size="22" text-anchor="end">0</text>
<path d="M465.9 1186.2L465.9 1197.2" stroke="#000" stroke-width="2.4"/>
<text transform="translate(475.5 1216.4) rotate(-45)" font-size="22.6" text-anchor="end">PBS</text>
<path d="M522.9 1186.2L522.9 1197.2" stroke="#000" stroke-width="2.4"/>
<text transform="translate(526.3 1217.2) rotate(-45)" font-size="22.6" text-anchor="end">ESM-TLNP</text>
<path d="M579.8 1186.2L579.8 1197.2" stroke="#000" stroke-width="2.4"/>
<text transform="translate(585.6 1217.2) rotate(-45)" font-size="22.6" text-anchor="end">ESM-6H-3-LNP</text>
<path d="M455.4 1150.6L476.4 1150.6" stroke="#000" stroke-width="2"/>
<path d="M465.9 1150.6L465.9 1153.0" stroke="#000" stroke-width="2"/>
<path d="M512.2 983.7L533.2 983.7" stroke="#000" stroke-width="2"/>
<path d="M522.7 983.7L522.7 1010.9" stroke="#000" stroke-width="2"/>
<path d="M569.1 1149.0L590.1 1149.0" stroke="#000" stroke-width="2"/>
<path d="M579.6 1149.0L579.6 1152.2" stroke="#000" stroke-width="2"/>
<circle cx="457.5" cy="1150.2" r="4.5" fill="#000"/>
<circle cx="457.5" cy="1158.2" r="4.5" fill="#000"/>
<circle cx="474.7" cy="1154.2" r="4.5" fill="#000"/>
<circle cx="522.7" cy="985.7" r="4.5" fill="#000"/>
<circle cx="522.7" cy="1009.7" r="4.5" fill="#000"/>
<circle cx="522.7" cy="1043.3" r="4.5" fill="#000"/>
<circle cx="564.8" cy="1156.2" r="4.5" fill="#000"/>
<circle cx="579.6" cy="1149.0" r="4.5" fill="#000"/>
<circle cx="594.4" cy="1155.0" r="4.5" fill="#000"/>
<path d="M476.3 917.2L618.4 917.2" stroke="#000" stroke-width="2"/>
<text x="551.5" y="910.0" font-size="19.5" text-anchor="middle"><tspan font-style="italic">p</tspan>=0.9975</text>
<path d="M509.1 946.8L595.6 946.8" stroke="#000" stroke-width="2"/>
<text x="554.3" y="938.8" font-size="19.5" text-anchor="middle"><tspan font-style="italic">p</tspan>=0.0001</text>
<path d="M440.3 972.9L526.7 972.9" stroke="#000" stroke-width="2"/>
<text x="482.3" y="968.1" font-size="19.5" text-anchor="middle"><tspan font-style="italic">p</tspan>=0.0001</text>
<text x="416.3" y="928.0" font-size="21">×10<tspan font-size="13.0" dy="-7.6">8</tspan></text>
<rect x="768.9" y="1084.9" width="40.8" height="106.1" fill="#d8b656"/>
<rect x="825.7" y="1071.3" width="40.8" height="119.7" fill="#d8b656"/>
<rect x="882.9" y="1026.9" width="40.5" height="164.1" fill="#d8b656"/>
<path d="M751.2 942.8L751.2 1192.2" stroke="#000" stroke-width="2.4"/>
<path d="M750.2 1191.0L943.0 1191.0" stroke="#000" stroke-width="2.4"/>
<path d="M738.2 944.0L751.2 944.0" stroke="#000" stroke-width="2.4"/>
<text x="733.7" y="951.8" font-size="22" text-anchor="end">1.7</text>
<path d="M738.2 993.3L751.2 993.3" stroke="#000" stroke-width="2.4"/>
<text x="733.7" y="1001.1" font-size="22" text-anchor="end">1.6</text>
<path d="M738.2 1042.9L751.2 1042.9" stroke="#000" stroke-width="2.4"/>
<text x="733.7" y="1050.7" font-size="22" text-anchor="end">1.5</text>
<path d="M738.2 1092.1L751.2 1092.1" stroke="#000" stroke-width="2.4"/>
<text x="733.7" y="1099.9" font-size="22" text-anchor="end">1.4</text>
<path d="M738.2 1141.8L751.2 1141.8" stroke="#000" stroke-width="2.4"/>
<text x="733.7" y="1149.6" font-size="22" text-anchor="end">1.3</text>
<path d="M738.2 1191.0L751.2 1191.0" stroke="#000" stroke-width="2.4"/>
<text x="733.7" y="1198.8" font-size="22" text-anchor="end">1.2</text>
<path d="M789.3 1191.0L789.3 1202.0" stroke="#000" stroke-width="2.4"/>
<text transform="translate(794.0 1215.7) rotate(-45)" font-size="22.6" text-anchor="end">PBS</text>
<path d="M846.1 1191.0L846.1 1202.0" stroke="#000" stroke-width="2.4"/>
<text transform="translate(851.5 1216.0) rotate(-45)" font-size="22.6" text-anchor="end">ESM-TLNP</text>
<path d="M903.1 1191.0L903.1 1202.0" stroke="#000" stroke-width="2.4"/>
<text transform="translate(917.0 1215.2) rotate(-45)" font-size="22.6" text-anchor="end">ESM-6H-3-LNP</text>
<path d="M778.8 1050.5L799.8 1050.5" stroke="#000" stroke-width="2"/>
<path d="M789.3 1050.5L789.3 1084.9" stroke="#000" stroke-width="2"/>
<path d="M835.6 985.3L856.6 985.3" stroke="#000" stroke-width="2"/>
<path d="M846.1 985.3L846.1 1071.3" stroke="#000" stroke-width="2"/>
<path d="M892.4 983.3L913.4 983.3" stroke="#000" stroke-width="2"/>
<path d="M902.9 983.3L902.9 1026.9" stroke="#000" stroke-width="2"/>
<circle cx="780.9" cy="1062.9" r="4.5" fill="#000"/>
<circle cx="797.7" cy="1067.7" r="4.5" fill="#000"/>
<circle cx="789.3" cy="1127.0" r="4.5" fill="#000"/>
<circle cx="846.1" cy="978.9" r="4.5" fill="#000"/>
<circle cx="846.1" cy="1087.7" r="4.5" fill="#000"/>
<circle cx="846.1" cy="1151.8" r="4.5" fill="#000"/>
<circle cx="902.9" cy="978.9" r="4.5" fill="#000"/>
<circle cx="902.9" cy="1038.5" r="4.5" fill="#000"/>
<circle cx="902.9" cy="1067.7" r="4.5" fill="#000"/>
<path d="M778.1 907.6L920.2 907.6" stroke="#000" stroke-width="2"/>
<text x="858.9" y="900.0" font-size="19.5" text-anchor="middle"><tspan font-style="italic">p</tspan>=0.5123</text>
<path d="M830.9 936.8L916.9 936.8" stroke="#000" stroke-width="2"/>
<text x="874.9" y="929.2" font-size="19.5" text-anchor="middle"><tspan font-style="italic">p</tspan>=0.6596</text>
<path d="M768.1 963.3L854.9 963.3" stroke="#000" stroke-width="2"/>
<text x="810.1" y="958.1" font-size="19.5" text-anchor="middle"><tspan font-style="italic">p</tspan>=0.9617</text>
<text x="741.2" y="934.0" font-size="21">×10<tspan font-size="13.0" dy="-7.6">7</tspan></text>
<rect x="1085.1" y="1040.1" width="40.4" height="150.5" fill="#bd6c77"/>
<rect x="1141.9" y="1030.1" width="40.4" height="160.5" fill="#bd6c77"/>
<rect x="1198.7" y="1018.9" width="40.4" height="171.7" fill="#bd6c77"/>
<path d="M1067.0 942.4L1067.0 1191.8" stroke="#000" stroke-width="2.4"/>
<path d="M1066.0 1190.6L1259.2 1190.6" stroke="#000" stroke-width="2.4"/>
<path d="M1054.0 943.6L1067.0 943.6" stroke="#000" stroke-width="2.4"/>
<text x="1049.5" y="951.4" font-size="22" text-anchor="end">8</text>
<path d="M1054.0 1005.7L1067.0 1005.7" stroke="#000" stroke-width="2.4"/>
<text x="1049.5" y="1013.5" font-size="22" text-anchor="end">6</text>
<path d="M1054.0 1066.9L1067.0 1066.9" stroke="#000" stroke-width="2.4"/>
<text x="1049.5" y="1074.7" font-size="22" text-anchor="end">4</text>
<path d="M1054.0 1129.0L1067.0 1129.0" stroke="#000" stroke-width="2.4"/>
<text x="1049.5" y="1136.8" font-size="22" text-anchor="end">2</text>
<path d="M1054.0 1190.6L1067.0 1190.6" stroke="#000" stroke-width="2.4"/>
<text x="1049.5" y="1198.4" font-size="22" text-anchor="end">0</text>
<path d="M1105.3 1190.6L1105.3 1201.6" stroke="#000" stroke-width="2.4"/>
<text transform="translate(1114.2 1214.8) rotate(-45)" font-size="22.6" text-anchor="end">PBS</text>
<path d="M1162.1 1190.6L1162.1 1201.6" stroke="#000" stroke-width="2.4"/>
<text transform="translate(1170.5 1214.3) rotate(-45)" font-size="22.6" text-anchor="end">ESM-TLNP</text>
<path d="M1218.9 1190.6L1218.9 1201.6" stroke="#000" stroke-width="2.4"/>
<text transform="translate(1230.8 1214.3) rotate(-45)" font-size="22.6" text-anchor="end">ESM-6H-3-LNP</text>
<path d="M1094.6 1038.5L1115.6 1038.5" stroke="#000" stroke-width="2"/>
<path d="M1105.1 1038.5L1105.1 1040.1" stroke="#000" stroke-width="2"/>
<path d="M1151.8 1023.3L1172.8 1023.3" stroke="#000" stroke-width="2"/>
<path d="M1162.3 1023.3L1162.3 1030.1" stroke="#000" stroke-width="2"/>
<path d="M1208.6 1006.5L1229.6 1006.5" stroke="#000" stroke-width="2"/>
<path d="M1219.1 1006.5L1219.1 1018.9" stroke="#000" stroke-width="2"/>
<circle cx="1090.3" cy="1040.9" r="4.5" fill="#000"/>
<circle cx="1105.1" cy="1037.7" r="4.5" fill="#000"/>
<circle cx="1119.9" cy="1040.9" r="4.5" fill="#000"/>
<circle cx="1153.5" cy="1023.7" r="4.5" fill="#000"/>
<circle cx="1170.7" cy="1030.5" r="4.5" fill="#000"/>
<circle cx="1162.3" cy="1039.7" r="4.5" fill="#000"/>
<circle cx="1210.3" cy="1010.9" r="4.5" fill="#000"/>
<circle cx="1227.5" cy="1013.3" r="4.5" fill="#000"/>
<circle cx="1219.1" cy="1036.1" r="4.5" fill="#000"/>
<path d="M1089.1 950.1L1231.5 950.1" stroke="#000" stroke-width="2"/>
<text x="1161.5" y="942.8" font-size="19.5" text-anchor="middle"><tspan font-style="italic">p</tspan>=0.0931</text>
<path d="M1141.5 976.5L1227.9 976.5" stroke="#000" stroke-width="2"/>
<text x="1185.1" y="970.9" font-size="19.5" text-anchor="middle"><tspan font-style="italic">p</tspan>=0.3858</text>
<path d="M1086.7 1001.7L1173.1 1001.7" stroke="#000" stroke-width="2"/>
<text x="1132.3" y="996.5" font-size="19.5" text-anchor="middle"><tspan font-style="italic">p</tspan>=0.5252</text>
<text x="1058.2" y="932.8" font-size="21">×10<tspan font-size="13.0" dy="-7.6">6</tspan></text>
<rect x="1431.7" y="1110.2" width="40.8" height="74.7" fill="#6f8fc4"/>
<rect x="1431.7" y="1058.1" width="40.8" height="52.4" fill="#d8b656"/>
<rect x="1431.7" y="1047.3" width="40.8" height="11.1" fill="#bd6c77"/>
<rect x="1431.7" y="1018.5" width="40.8" height="29.1" fill="#a9fca1"/>
<rect x="1489.0" y="1026.9" width="40.4" height="158.0" fill="#6f8fc4"/>
<rect x="1489.0" y="1022.9" width="40.4" height="4.3" fill="#d8b656"/>
<rect x="1489.0" y="1021.3" width="40.4" height="1.9" fill="#bd6c77"/>
<rect x="1489.0" y="1018.1" width="40.4" height="3.5" fill="#a9fca1"/>
<rect x="1545.4" y="1172.2" width="40.8" height="12.7" fill="#6f8fc4"/>
<rect x="1545.4" y="1159.4" width="40.8" height="13.1" fill="#d8b656"/>
<rect x="1545.4" y="1141.8" width="40.8" height="17.9" fill="#bd6c77"/>
<rect x="1545.4" y="1018.5" width="40.8" height="123.6" fill="#a9fca1"/>
<path d="M1414.9 935.6L1414.9 1185.8" stroke="#000" stroke-width="2.4"/>
<path d="M1413.9 1184.6L1606.2 1184.6" stroke="#000" stroke-width="2.4"/>
<path d="M1401.9 936.8L1414.9 936.8" stroke="#000" stroke-width="2.4"/>
<text x="1397.4" y="944.6" font-size="22" text-anchor="end">1.5</text>
<path d="M1401.9 1019.7L1414.9 1019.7" stroke="#000" stroke-width="2.4"/>
<text x="1397.4" y="1027.5" font-size="22" text-anchor="end">1.0</text>
<path d="M1401.9 1102.1L1414.9 1102.1" stroke="#000" stroke-width="2.4"/>
<text x="1397.4" y="1109.9" font-size="22" text-anchor="end">0.5</text>
<path d="M1401.9 1184.6L1414.9 1184.6" stroke="#000" stroke-width="2.4"/>
<text x="1397.4" y="1192.4" font-size="22" text-anchor="end">0</text>
<path d="M1406.9 978.1L1414.9 978.1" stroke="#000" stroke-width="2.4"/>
<path d="M1406.9 1060.9L1414.9 1060.9" stroke="#000" stroke-width="2.4"/>
<path d="M1406.9 1143.4L1414.9 1143.4" stroke="#000" stroke-width="2.4"/>
<path d="M1452.1 1184.6L1452.1 1195.6" stroke="#000" stroke-width="2.4"/>
<text transform="translate(1460.0 1214.3) rotate(-45)" font-size="22.6" text-anchor="end">PBS</text>
<path d="M1509.2 1184.6L1509.2 1195.6" stroke="#000" stroke-width="2.4"/>
<text transform="translate(1517.6 1215.3) rotate(-45)" font-size="22.6" text-anchor="end">ESM-TLNP</text>
<path d="M1565.8 1184.6L1565.8 1195.6" stroke="#000" stroke-width="2.4"/>
<text transform="translate(1570.7 1213.8) rotate(-45)" font-size="22.6" text-anchor="end">ESM-6H-3-LNP</text>
<path d="M1441.2 989.7L1462.2 989.7" stroke="#000" stroke-width="2"/>
<path d="M1451.7 989.7L1451.7 1020.1" stroke="#000" stroke-width="2"/>
<path d="M1441.2 1036.9L1462.2 1036.9" stroke="#000" stroke-width="2"/>
<path d="M1451.7 1036.9L1451.7 1047.3" stroke="#000" stroke-width="2"/>
<path d="M1441.2 1043.3L1462.2 1043.3" stroke="#000" stroke-width="2"/>
<path d="M1441.2 1058.1L1462.2 1058.1" stroke="#000" stroke-width="2"/>
<path d="M1451.7 1058.1L1451.7 1111.4" stroke="#000" stroke-width="2"/>
<path d="M1498.5 1020.5L1519.5 1020.5" stroke="#000" stroke-width="7"/>
<path d="M1509.0 1020.5L1509.0 1028.1" stroke="#000" stroke-width="2"/>
<path d="M1555.3 1007.3L1576.3 1007.3" stroke="#000" stroke-width="2"/>
<path d="M1565.8 1007.3L1565.8 1020.1" stroke="#000" stroke-width="2"/>
<path d="M1555.3 1129.4L1576.3 1129.4" stroke="#000" stroke-width="2"/>
<path d="M1565.8 1129.4L1565.8 1143.0" stroke="#000" stroke-width="2"/>
<path d="M1555.3 1151.8L1576.3 1151.8" stroke="#000" stroke-width="2"/>
<path d="M1565.8 1151.8L1565.8 1160.2" stroke="#000" stroke-width="2"/>
<path d="M1555.3 1162.6L1576.3 1162.6" stroke="#000" stroke-width="2"/>
<path d="M1565.8 1162.6L1565.8 1173.4" stroke="#000" stroke-width="2"/>
<text transform="translate(1357.3 1057.6) rotate(-90)" font-size="22.85" text-anchor="middle">Percentage of radiance change</text>
<rect x="1663.9" y="930.0" width="36.4" height="22.9" fill="#a9fca1"/>
<text x="1714.3" y="946.0" font-size="22.4">bone marrow</text>
<rect x="1663.9" y="967.7" width="36.4" height="22.8" fill="#6f8fc4"/>
<text x="1714.3" y="984.9" font-size="22.4">liver</text>
<rect x="1663.9" y="1005.3" width="36.4" height="22.8" fill="#d8b656"/>
<text x="1714.3" y="1024.1" font-size="22.4">lung</text>
<rect x="1663.9" y="1042.9" width="36.4" height="22.8" fill="#bd6c77"/>
<text x="1714.3" y="1063.3" font-size="22.4">spleen</text>
<rect x="136.9" y="1885.0" width="40.4" height="55.2" fill="#f25e9d"/>
<rect x="193.7" y="1894.2" width="40.4" height="46.0" fill="#f25e9d"/>
<rect x="250.6" y="1731.3" width="40.4" height="208.9" fill="#f25e9d"/>
<path d="M119.3 1691.7L119.3 1941.4" stroke="#000" stroke-width="2.4"/>
<path d="M118.3 1940.2L311.0 1940.2" stroke="#000" stroke-width="2.4"/>
<path d="M106.3 1692.9L119.3 1692.9" stroke="#000" stroke-width="2.4"/>
<text x="105.3" y="1701.7" font-size="22" text-anchor="end">8</text>
<path d="M106.3 1754.9L119.3 1754.9" stroke="#000" stroke-width="2.4"/>
<text x="105.3" y="1763.7" font-size="22" text-anchor="end">6</text>
<path d="M106.3 1816.5L119.3 1816.5" stroke="#000" stroke-width="2.4"/>
<text x="105.3" y="1825.3" font-size="22" text-anchor="end">4</text>
<path d="M106.3 1878.6L119.3 1878.6" stroke="#000" stroke-width="2.4"/>
<text x="105.3" y="1887.4" font-size="22" text-anchor="end">2</text>
<path d="M106.3 1940.2L119.3 1940.2" stroke="#000" stroke-width="2.4"/>
<text x="105.3" y="1949.0" font-size="22" text-anchor="end">0</text>
<path d="M157.1 1940.2L157.1 1951.2" stroke="#000" stroke-width="2.4"/>
<text transform="translate(161.8 1968.6) rotate(-45)" font-size="22.6" text-anchor="end">PBS</text>
<path d="M213.9 1940.2L213.9 1951.2" stroke="#000" stroke-width="2.4"/>
<text transform="translate(221.0 1968.6) rotate(-45)" font-size="22.6" text-anchor="end">TLNP</text>
<path d="M270.8 1940.2L270.8 1951.2" stroke="#000" stroke-width="2.4"/>
<text transform="translate(277.9 1968.6) rotate(-45)" font-size="22.6" text-anchor="end">8K-LNP</text>
<path d="M146.4 1875.0L167.4 1875.0" stroke="#000" stroke-width="2"/>
<path d="M156.9 1875.0L156.9 1885.0" stroke="#000" stroke-width="2"/>
<path d="M203.2 1886.6L224.2 1886.6" stroke="#000" stroke-width="2"/>
<path d="M213.7 1886.6L213.7 1894.2" stroke="#000" stroke-width="2"/>
<path d="M260.1 1707.3L281.1 1707.3" stroke="#000" stroke-width="2"/>
<path d="M270.6 1707.3L270.6 1731.3" stroke="#000" stroke-width="2"/>
<circle cx="156.9" cy="1873.8" r="4.5" fill="#000"/>
<circle cx="148.1" cy="1895.4" r="4.5" fill="#000"/>
<circle cx="165.3" cy="1889.0" r="4.5" fill="#000"/>
<circle cx="205.3" cy="1887.8" r="4.5" fill="#000"/>
<circle cx="222.1" cy="1893.8" r="4.5" fill="#000"/>
<circle cx="213.7" cy="1904.2" r="4.5" fill="#000"/>
<circle cx="270.6" cy="1706.9" r="4.5" fill="#000"/>
<circle cx="270.6" cy="1734.5" r="4.5" fill="#000"/>
<circle cx="270.6" cy="1758.1" r="4.5" fill="#000"/>
<path d="M148.9 1652.8L290.2 1652.8" stroke="#000" stroke-width="2"/>
<text x="219.3" y="1642.0" font-size="19.5" text-anchor="middle"><tspan font-style="italic">p</tspan><tspan font-family="'Noto Sans CJK SC', sans-serif" font-size="16.5" dx="1.5" dy="-0.9">＜</tspan><tspan dx="1.5" dy="0.9">0.0001</tspan></text>
<path d="M190.5 1696.1L277.0 1696.1" stroke="#000" stroke-width="2"/>
<text x="232.1" y="1687.3" font-size="19.5" text-anchor="middle"><tspan font-style="italic">p</tspan><tspan font-family="'Noto Sans CJK SC', sans-serif" font-size="16.5" dx="1.5" dy="-0.9">＜</tspan><tspan dx="1.5" dy="0.9">0.0001</tspan></text>
<path d="M144.1 1862.2L218.5 1862.2" stroke="#000" stroke-width="2"/>
<text x="183.3" y="1853.4" font-size="19.5" text-anchor="middle"><tspan font-style="italic">p</tspan>=0.7946</text>
<text x="106.1" y="1680.1" font-size="21">×10<tspan font-size="13.0" dy="-7.6">7</tspan></text>
<text transform="translate(67.2 1816.8) rotate(-90)" font-size="22.85" text-anchor="middle">Average radiance (p/sec/cm<tspan font-size="13.6" dy="-7.5">2</tspan><tspan dy="7.5">/sr)</tspan></text>
<rect x="440.3" y="1939.4" width="40.0" height="4.0" fill="#6f8fc4"/>
<rect x="497.5" y="1754.9" width="40.4" height="188.5" fill="#6f8fc4"/>
<rect x="554.3" y="1939.4" width="40.1" height="4.0" fill="#6f8fc4"/>
<path d="M422.3 1695.3L422.3 1944.6" stroke="#000" stroke-width="2.4"/>
<path d="M421.3 1943.4L614.4 1943.4" stroke="#000" stroke-width="2.4"/>
<path d="M409.3 1696.5L422.3 1696.5" stroke="#000" stroke-width="2.4"/>
<text x="408.0" y="1705.5" font-size="22" text-anchor="end">2.5</text>
<path d="M409.3 1746.1L422.3 1746.1" stroke="#000" stroke-width="2.4"/>
<text x="408.0" y="1755.1" font-size="22" text-anchor="end">2</text>
<path d="M409.3 1795.3L422.3 1795.3" stroke="#000" stroke-width="2.4"/>
<text x="408.0" y="1804.3" font-size="22" text-anchor="end">1.5</text>
<path d="M409.3 1844.6L422.3 1844.6" stroke="#000" stroke-width="2.4"/>
<text x="408.0" y="1853.6" font-size="22" text-anchor="end">1</text>
<path d="M409.3 1894.2L422.3 1894.2" stroke="#000" stroke-width="2.4"/>
<text x="408.0" y="1903.2" font-size="22" text-anchor="end">0.5</text>
<path d="M409.3 1943.4L422.3 1943.4" stroke="#000" stroke-width="2.4"/>
<text x="408.0" y="1952.4" font-size="22" text-anchor="end">0</text>
<path d="M460.3 1943.4L460.3 1954.4" stroke="#000" stroke-width="2.4"/>
<text transform="translate(466.2 1968.1) rotate(-45)" font-size="22.6" text-anchor="end">PBS</text>
<path d="M517.7 1943.4L517.7 1954.4" stroke="#000" stroke-width="2.4"/>
<text transform="translate(531.1 1968.1) rotate(-45)" font-size="22.6" text-anchor="end">TLNP</text>
<path d="M574.3 1943.4L574.3 1954.4" stroke="#000" stroke-width="2.4"/>
<text transform="translate(582.7 1968.1) rotate(-45)" font-size="22.6" text-anchor="end">8K-LNP</text>
<path d="M507.0 1750.9L528.0 1750.9" stroke="#000" stroke-width="2"/>
<path d="M517.5 1750.9L517.5 1754.9" stroke="#000" stroke-width="2"/>
<circle cx="449.1" cy="1941.0" r="5.4" fill="#000"/>
<circle cx="460.7" cy="1941.0" r="5.4" fill="#000"/>
<circle cx="472.3" cy="1941.0" r="5.4" fill="#000"/>
<circle cx="517.5" cy="1750.5" r="5.4" fill="#000"/>
<circle cx="511.5" cy="1758.5" r="5.4" fill="#000"/>
<circle cx="523.5" cy="1758.5" r="5.4" fill="#000"/>
<circle cx="563.2" cy="1941.0" r="5.4" fill="#000"/>
<circle cx="574.8" cy="1941.0" r="5.4" fill="#000"/>
<circle cx="586.0" cy="1941.0" r="5.4" fill="#000"/>
<path d="M465.1 1675.6L607.2 1675.6" stroke="#000" stroke-width="2"/>
<text x="529.5" y="1666.0" font-size="19.5" text-anchor="middle"><tspan font-style="italic">p</tspan><tspan font-family="'Noto Sans CJK SC', sans-serif" font-size="16.5" dx="1.5" dy="-0.9">＞</tspan><tspan dx="1.5" dy="0.9">0.999</tspan></text>
<path d="M514.3 1711.7L601.2 1711.7" stroke="#000" stroke-width="2"/>
<text x="557.5" y="1703.3" font-size="19.5" text-anchor="middle"><tspan font-style="italic">p</tspan><tspan font-family="'Noto Sans CJK SC', sans-serif" font-size="16.5" dx="1.5" dy="-0.9">＜</tspan><tspan dx="1.5" dy="0.9">0.0001</tspan></text>
<path d="M442.3 1740.9L529.1 1740.9" stroke="#000" stroke-width="2"/>
<text x="485.5" y="1732.1" font-size="19.5" text-anchor="middle"><tspan font-style="italic">p</tspan><tspan font-family="'Noto Sans CJK SC', sans-serif" font-size="16.5" dx="1.5" dy="-0.9">＜</tspan><tspan dx="1.5" dy="0.9">0.0001</tspan></text>
<text x="411.5" y="1679.2" font-size="21">×10<tspan font-size="13.0" dy="-7.6">9</tspan></text>
<rect x="747.6" y="1866.2" width="40.5" height="76.8" fill="#d8b656"/>
<rect x="804.5" y="1758.9" width="40.4" height="184.1" fill="#d8b656"/>
<rect x="861.3" y="1871.8" width="40.8" height="71.2" fill="#d8b656"/>
<path d="M730.0 1694.9L730.0 1944.2" stroke="#000" stroke-width="2.4"/>
<path d="M729.0 1943.0L921.8 1943.0" stroke="#000" stroke-width="2.4"/>
<path d="M717.0 1696.1L730.0 1696.1" stroke="#000" stroke-width="2.4"/>
<text x="715.5" y="1704.4" font-size="22" text-anchor="end">4</text>
<path d="M717.0 1758.1L730.0 1758.1" stroke="#000" stroke-width="2.4"/>
<text x="715.5" y="1766.4" font-size="22" text-anchor="end">3</text>
<path d="M717.0 1819.7L730.0 1819.7" stroke="#000" stroke-width="2.4"/>
<text x="715.5" y="1828.0" font-size="22" text-anchor="end">2</text>
<path d="M717.0 1881.4L730.0 1881.4" stroke="#000" stroke-width="2.4"/>
<text x="715.5" y="1889.7" font-size="22" text-anchor="end">1</text>
<path d="M717.0 1943.0L730.0 1943.0" stroke="#000" stroke-width="2.4"/>
<text x="715.5" y="1951.3" font-size="22" text-anchor="end">0</text>
<path d="M767.9 1943.0L767.9 1954.0" stroke="#000" stroke-width="2.4"/>
<text transform="translate(777.5 1971.4) rotate(-45)" font-size="22.6" text-anchor="end">PBS</text>
<path d="M824.7 1943.0L824.7 1954.0" stroke="#000" stroke-width="2.4"/>
<text transform="translate(836.8 1971.4) rotate(-45)" font-size="22.6" text-anchor="end">TLNP</text>
<path d="M881.7 1943.0L881.7 1954.0" stroke="#000" stroke-width="2.4"/>
<text transform="translate(895.1 1971.4) rotate(-45)" font-size="22.6" text-anchor="end">8K-LNP</text>
<path d="M757.6 1860.2L778.6 1860.2" stroke="#000" stroke-width="2"/>
<path d="M768.1 1860.2L768.1 1866.2" stroke="#000" stroke-width="2"/>
<path d="M814.0 1751.3L835.0 1751.3" stroke="#000" stroke-width="2"/>
<path d="M824.5 1751.3L824.5 1758.9" stroke="#000" stroke-width="2"/>
<path d="M871.2 1865.0L892.2 1865.0" stroke="#000" stroke-width="2"/>
<path d="M881.7 1865.0L881.7 1871.8" stroke="#000" stroke-width="2"/>
<circle cx="768.1" cy="1859.4" r="4.5" fill="#000"/>
<circle cx="759.2" cy="1873.0" r="4.5" fill="#000"/>
<circle cx="776.5" cy="1868.6" r="4.5" fill="#000"/>
<circle cx="824.5" cy="1750.1" r="4.5" fill="#000"/>
<circle cx="816.1" cy="1766.5" r="4.5" fill="#000"/>
<circle cx="833.3" cy="1762.9" r="4.5" fill="#000"/>
<circle cx="873.3" cy="1866.6" r="4.5" fill="#000"/>
<circle cx="890.5" cy="1869.8" r="4.5" fill="#000"/>
<circle cx="881.7" cy="1881.8" r="4.5" fill="#000"/>
<path d="M772.1 1679.2L913.7 1679.2" stroke="#000" stroke-width="2"/>
<text x="843.3" y="1672.0" font-size="19.5" text-anchor="middle"><tspan font-style="italic">p</tspan>=0.6577</text>
<path d="M808.1 1708.5L894.5 1708.5" stroke="#000" stroke-width="2"/>
<text x="852.9" y="1700.9" font-size="19.5" text-anchor="middle"><tspan font-style="italic">p</tspan><tspan font-family="'Noto Sans CJK SC', sans-serif" font-size="16.5" dx="1.5" dy="-0.9">＜</tspan><tspan dx="1.5" dy="0.9">0.0001</tspan></text>
<path d="M756.0 1738.1L828.9 1738.1" stroke="#000" stroke-width="2"/>
<text x="798.1" y="1730.5" font-size="19.5" text-anchor="middle"><tspan font-style="italic">p</tspan><tspan font-family="'Noto Sans CJK SC', sans-serif" font-size="16.5" dx="1.5" dy="-0.9">＜</tspan><tspan dx="1.5" dy="0.9">0.0001</tspan></text>
<text x="720.0" y="1686.1" font-size="21">×10<tspan font-size="13.0" dy="-7.6">7</tspan></text>
<rect x="1085.1" y="1817.3" width="40.4" height="127.3" fill="#bd6c77"/>
<rect x="1141.9" y="1836.9" width="40.4" height="107.7" fill="#bd6c77"/>
<rect x="1198.7" y="1823.3" width="40.4" height="121.3" fill="#bd6c77"/>
<path d="M1067.0 1696.1L1067.0 1945.8" stroke="#000" stroke-width="2.4"/>
<path d="M1066.0 1944.6L1259.2 1944.6" stroke="#000" stroke-width="2.4"/>
<path d="M1054.0 1697.3L1067.0 1697.3" stroke="#000" stroke-width="2.4"/>
<text x="1048.5" y="1705.1" font-size="22" text-anchor="end">8</text>
<path d="M1054.0 1746.5L1067.0 1746.5" stroke="#000" stroke-width="2.4"/>
<text x="1048.5" y="1754.3" font-size="22" text-anchor="end">7</text>
<path d="M1054.0 1796.1L1067.0 1796.1" stroke="#000" stroke-width="2.4"/>
<text x="1048.5" y="1803.9" font-size="22" text-anchor="end">6</text>
<path d="M1054.0 1845.4L1067.0 1845.4" stroke="#000" stroke-width="2.4"/>
<text x="1048.5" y="1853.2" font-size="22" text-anchor="end">5</text>
<path d="M1054.0 1894.6L1067.0 1894.6" stroke="#000" stroke-width="2.4"/>
<text x="1048.5" y="1902.4" font-size="22" text-anchor="end">4</text>
<path d="M1054.0 1944.6L1067.0 1944.6" stroke="#000" stroke-width="2.4"/>
<text x="1048.5" y="1952.4" font-size="22" text-anchor="end">3</text>
<path d="M1105.3 1944.6L1105.3 1955.6" stroke="#000" stroke-width="2.4"/>
<text transform="translate(1113.2 1972.3) rotate(-45)" font-size="22.6" text-anchor="end">PBS</text>
<path d="M1162.1 1944.6L1162.1 1955.6" stroke="#000" stroke-width="2.4"/>
<text transform="translate(1175.5 1972.3) rotate(-45)" font-size="22.6" text-anchor="end">TLNP</text>
<path d="M1218.9 1944.6L1218.9 1955.6" stroke="#000" stroke-width="2.4"/>
<text transform="translate(1232.8 1972.3) rotate(-45)" font-size="22.6" text-anchor="end">8K-LNP</text>
<path d="M1094.6 1814.9L1115.6 1814.9" stroke="#000" stroke-width="2"/>
<path d="M1105.1 1814.9L1105.1 1817.3" stroke="#000" stroke-width="2"/>
<path d="M1151.8 1826.5L1172.8 1826.5" stroke="#000" stroke-width="2"/>
<path d="M1162.3 1826.5L1162.3 1836.9" stroke="#000" stroke-width="2"/>
<path d="M1208.6 1756.1L1229.6 1756.1" stroke="#000" stroke-width="2"/>
<path d="M1219.1 1756.1L1219.1 1823.3" stroke="#000" stroke-width="2"/>
<circle cx="1090.3" cy="1821.3" r="4.5" fill="#000"/>
<circle cx="1105.1" cy="1814.5" r="4.5" fill="#000"/>
<circle cx="1119.9" cy="1818.9" r="4.5" fill="#000"/>
<circle cx="1162.3" cy="1824.9" r="4.5" fill="#000"/>
<circle cx="1153.5" cy="1844.2" r="4.5" fill="#000"/>
<circle cx="1170.7" cy="1844.2" r="4.5" fill="#000"/>
<circle cx="1219.1" cy="1752.5" r="4.5" fill="#000"/>
<circle cx="1219.1" cy="1834.1" r="4.5" fill="#000"/>
<circle cx="1219.1" cy="1888.2" r="4.5" fill="#000"/>
<path d="M1081.5 1705.3L1223.1 1705.3" stroke="#000" stroke-width="2"/>
<text x="1153.5" y="1699.3" font-size="19.5" text-anchor="middle"><tspan font-style="italic">p</tspan>=0.9782</text>
<path d="M1149.1 1734.1L1223.1 1734.1" stroke="#000" stroke-width="2"/>
<text x="1186.3" y="1726.1" font-size="19.5" text-anchor="middle"><tspan font-style="italic">p</tspan>=0.9183</text>
<path d="M1097.1 1796.5L1171.1 1796.5" stroke="#000" stroke-width="2"/>
<text x="1136.3" y="1788.1" font-size="19.5" text-anchor="middle"><tspan font-style="italic">p</tspan>=0.8271</text>
<text x="1052.2" y="1686.1" font-size="21">×10<tspan font-size="13.0" dy="-7.6">6</tspan></text>
<rect x="1431.7" y="1927.8" width="40.8" height="13.9" fill="#6f8fc4"/>
<rect x="1431.7" y="1878.6" width="40.8" height="49.5" fill="#d8b656"/>
<rect x="1431.7" y="1873.0" width="40.8" height="5.9" fill="#bd6c77"/>
<rect x="1431.7" y="1775.3" width="40.8" height="98.0" fill="#f25e9d"/>
<rect x="1489.0" y="1778.9" width="40.4" height="162.8" fill="#6f8fc4"/>
<rect x="1489.0" y="1776.9" width="40.4" height="2.3" fill="#d8b656"/>
<rect x="1489.0" y="1774.9" width="40.4" height="2.3" fill="#f25e9d"/>
<rect x="1545.4" y="1930.6" width="40.8" height="11.1" fill="#6f8fc4"/>
<rect x="1545.4" y="1927.4" width="40.8" height="3.5" fill="#d8b656"/>
<rect x="1545.4" y="1917.4" width="40.8" height="10.3" fill="#bd6c77"/>
<rect x="1545.4" y="1775.3" width="40.8" height="142.4" fill="#f25e9d"/>
<path d="M1414.9 1692.5L1414.9 1942.6" stroke="#000" stroke-width="2.4"/>
<path d="M1413.9 1941.4L1606.2 1941.4" stroke="#000" stroke-width="2.4"/>
<path d="M1401.9 1693.7L1414.9 1693.7" stroke="#000" stroke-width="2.4"/>
<text x="1397.4" y="1701.5" font-size="22" text-anchor="end">1.5</text>
<path d="M1401.9 1776.5L1414.9 1776.5" stroke="#000" stroke-width="2.4"/>
<text x="1397.4" y="1784.3" font-size="22" text-anchor="end">1.0</text>
<path d="M1401.9 1859.0L1414.9 1859.0" stroke="#000" stroke-width="2.4"/>
<text x="1397.4" y="1866.8" font-size="22" text-anchor="end">0.5</text>
<path d="M1401.9 1941.4L1414.9 1941.4" stroke="#000" stroke-width="2.4"/>
<text x="1397.4" y="1949.2" font-size="22" text-anchor="end">0</text>
<path d="M1406.9 1734.9L1414.9 1734.9" stroke="#000" stroke-width="2.4"/>
<path d="M1406.9 1817.7L1414.9 1817.7" stroke="#000" stroke-width="2.4"/>
<path d="M1406.9 1900.2L1414.9 1900.2" stroke="#000" stroke-width="2.4"/>
<path d="M1452.1 1941.4L1452.1 1952.4" stroke="#000" stroke-width="2.4"/>
<text transform="translate(1463.0 1966.1) rotate(-45)" font-size="22.6" text-anchor="end">PBS</text>
<path d="M1509.2 1941.4L1509.2 1952.4" stroke="#000" stroke-width="2.4"/>
<text transform="translate(1522.1 1966.1) rotate(-45)" font-size="22.6" text-anchor="end">TLNP</text>
<path d="M1565.8 1941.4L1565.8 1952.4" stroke="#000" stroke-width="2.4"/>
<text transform="translate(1579.2 1966.1) rotate(-45)" font-size="22.6" text-anchor="end">8K-LNP</text>
<path d="M1441.2 1734.9L1462.2 1734.9" stroke="#000" stroke-width="2"/>
<path d="M1451.7 1734.9L1451.7 1776.1" stroke="#000" stroke-width="2"/>
<path d="M1441.2 1844.6L1462.2 1844.6" stroke="#000" stroke-width="2"/>
<path d="M1451.7 1844.6L1451.7 1874.2" stroke="#000" stroke-width="2"/>
<path d="M1441.2 1871.0L1462.2 1871.0" stroke="#000" stroke-width="2"/>
<path d="M1451.7 1871.0L1451.7 1880.2" stroke="#000" stroke-width="2"/>
<path d="M1441.2 1919.0L1462.2 1919.0" stroke="#000" stroke-width="2"/>
<path d="M1451.7 1919.0L1451.7 1929.0" stroke="#000" stroke-width="2"/>
<path d="M1498.5 1777.7L1519.5 1777.7" stroke="#000" stroke-width="4.5"/>
<path d="M1555.3 1768.9L1576.3 1768.9" stroke="#000" stroke-width="2"/>
<path d="M1565.8 1768.9L1565.8 1776.1" stroke="#000" stroke-width="2"/>
<path d="M1555.3 1912.6L1576.3 1912.6" stroke="#000" stroke-width="2"/>
<path d="M1565.8 1912.6L1565.8 1919.0" stroke="#000" stroke-width="2"/>
<path d="M1555.3 1924.6L1576.3 1924.6" stroke="#000" stroke-width="4"/>
<path d="M1565.8 1924.6L1565.8 1932.2" stroke="#000" stroke-width="2"/>
<text transform="translate(1357.3 1811.6) rotate(-90)" font-size="22.85" text-anchor="middle">Percentage of radiance change</text>
<rect x="1665.5" y="1662.4" width="36.4" height="22.9" fill="#f25e9d"/>
<text x="1716.3" y="1678.4" font-size="22.4">adipose tissue</text>
<rect x="1665.5" y="1700.1" width="36.4" height="22.8" fill="#6f8fc4"/>
<text x="1716.3" y="1717.3" font-size="22.4">liver</text>
<rect x="1665.5" y="1737.7" width="36.4" height="22.8" fill="#d8b656"/>
<text x="1716.3" y="1756.5" font-size="22.4">lung</text>
<rect x="1665.5" y="1775.3" width="36.4" height="22.8" fill="#bd6c77"/>
<text x="1716.3" y="1795.7" font-size="22.4">spleen</text>
<rect x="136.9" y="2585.4" width="40.4" height="37.6" fill="#8b853e"/>
<rect x="193.7" y="2545.0" width="40.4" height="78.0" fill="#8b853e"/>
<rect x="250.6" y="2408.1" width="40.4" height="214.9" fill="#8b853e"/>
<path d="M119.3 2374.5L119.3 2624.2" stroke="#000" stroke-width="2.4"/>
<path d="M118.3 2623.0L311.0 2623.0" stroke="#000" stroke-width="2.4"/>
<path d="M106.3 2375.7L119.3 2375.7" stroke="#000" stroke-width="2.4"/>
<text x="100.1" y="2383.5" font-size="22" text-anchor="end">5</text>
<path d="M106.3 2424.9L119.3 2424.9" stroke="#000" stroke-width="2.4"/>
<text x="100.1" y="2432.7" font-size="22" text-anchor="end">4</text>
<path d="M106.3 2474.5L119.3 2474.5" stroke="#000" stroke-width="2.4"/>
<text x="100.1" y="2482.3" font-size="22" text-anchor="end">3</text>
<path d="M106.3 2524.2L119.3 2524.2" stroke="#000" stroke-width="2.4"/>
<text x="100.1" y="2532.0" font-size="22" text-anchor="end">2</text>
<path d="M106.3 2573.4L119.3 2573.4" stroke="#000" stroke-width="2.4"/>
<text x="100.1" y="2581.2" font-size="22" text-anchor="end">1</text>
<path d="M106.3 2623.0L119.3 2623.0" stroke="#000" stroke-width="2.4"/>
<text x="100.1" y="2630.8" font-size="22" text-anchor="end">0</text>
<path d="M157.1 2623.0L157.1 2634.0" stroke="#000" stroke-width="2.4"/>
<text transform="translate(168.5 2650.2) rotate(-45)" font-size="22.6" text-anchor="end">PBS</text>
<path d="M213.9 2623.0L213.9 2634.0" stroke="#000" stroke-width="2.4"/>
<text transform="translate(227.8 2650.2) rotate(-45)" font-size="22.6" text-anchor="end">TLNP</text>
<path d="M270.8 2623.0L270.8 2634.0" stroke="#000" stroke-width="2.4"/>
<text transform="translate(285.2 2650.2) rotate(-45)" font-size="22.6" text-anchor="end">6K-LNP</text>
<path d="M146.4 2585.4L167.4 2585.4" stroke="#000" stroke-width="2"/>
<path d="M156.9 2585.4L156.9 2585.4" stroke="#000" stroke-width="2"/>
<path d="M203.2 2541.8L224.2 2541.8" stroke="#000" stroke-width="2"/>
<path d="M213.7 2541.8L213.7 2545.0" stroke="#000" stroke-width="2"/>
<path d="M260.1 2389.3L281.1 2389.3" stroke="#000" stroke-width="2"/>
<path d="M270.6 2389.3L270.6 2408.1" stroke="#000" stroke-width="2"/>
<circle cx="142.1" cy="2588.6" r="4.5" fill="#000"/>
<circle cx="156.9" cy="2585.8" r="4.5" fill="#000"/>
<circle cx="171.3" cy="2586.2" r="4.5" fill="#000"/>
<circle cx="205.3" cy="2542.6" r="4.5" fill="#000"/>
<circle cx="222.1" cy="2545.8" r="4.5" fill="#000"/>
<circle cx="205.3" cy="2551.4" r="4.5" fill="#000"/>
<circle cx="270.6" cy="2388.5" r="4.5" fill="#000"/>
<circle cx="270.6" cy="2412.5" r="4.5" fill="#000"/>
<circle cx="270.6" cy="2427.3" r="4.5" fill="#000"/>
<path d="M146.1 2331.6L287.8 2331.6" stroke="#000" stroke-width="2"/>
<text x="216.5" y="2322.0" font-size="19.5" text-anchor="middle"><tspan font-style="italic">p</tspan><tspan font-family="'Noto Sans CJK SC', sans-serif" font-size="16.5" dx="1.5" dy="-0.9">＜</tspan><tspan dx="1.5" dy="0.9">0.0001</tspan></text>
<path d="M188.1 2370.9L275.0 2370.9" stroke="#000" stroke-width="2"/>
<text x="230.1" y="2361.3" font-size="19.5" text-anchor="middle"><tspan font-style="italic">p</tspan><tspan font-family="'Noto Sans CJK SC', sans-serif" font-size="16.5" dx="1.5" dy="-0.9">＜</tspan><tspan dx="1.5" dy="0.9">0.0001</tspan></text>
<path d="M142.1 2527.4L216.1 2527.4" stroke="#000" stroke-width="2"/>
<text x="180.9" y="2520.2" font-size="19.5" text-anchor="middle"><tspan font-style="italic">p</tspan>=0.0135</text>
<text x="107.3" y="2362.1" font-size="21">×10<tspan font-size="13.0" dy="-7.6">7</tspan></text>
<text transform="translate(67.2 2484.4) rotate(-90)" font-size="22.85" text-anchor="middle">Average radiance (p/sec/cm<tspan font-size="13.6" dy="-7.5">2</tspan><tspan dy="7.5">/sr)</tspan></text>
<rect x="442.3" y="2579.0" width="40.0" height="44.0" fill="#6f8fc4"/>
<rect x="499.1" y="2468.9" width="40.4" height="154.1" fill="#6f8fc4"/>
<rect x="555.9" y="2579.8" width="40.5" height="43.2" fill="#6f8fc4"/>
<path d="M424.3 2374.5L424.3 2624.2" stroke="#000" stroke-width="2.4"/>
<path d="M423.3 2623.0L615.6 2623.0" stroke="#000" stroke-width="2.4"/>
<path d="M411.3 2375.7L424.3 2375.7" stroke="#000" stroke-width="2.4"/>
<text x="405.6" y="2383.5" font-size="22" text-anchor="end">1.5</text>
<path d="M411.3 2458.1L424.3 2458.1" stroke="#000" stroke-width="2.4"/>
<text x="405.6" y="2465.9" font-size="22" text-anchor="end">1</text>
<path d="M411.3 2540.6L424.3 2540.6" stroke="#000" stroke-width="2.4"/>
<text x="405.6" y="2548.4" font-size="22" text-anchor="end">0.5</text>
<path d="M411.3 2623.0L424.3 2623.0" stroke="#000" stroke-width="2.4"/>
<text x="405.6" y="2630.8" font-size="22" text-anchor="end">0</text>
<path d="M462.3 2623.0L462.3 2634.0" stroke="#000" stroke-width="2.4"/>
<text transform="translate(470.2 2650.7) rotate(-45)" font-size="22.6" text-anchor="end">PBS</text>
<path d="M519.3 2623.0L519.3 2634.0" stroke="#000" stroke-width="2.4"/>
<text transform="translate(530.2 2650.7) rotate(-45)" font-size="22.6" text-anchor="end">TLNP</text>
<path d="M576.1 2623.0L576.1 2634.0" stroke="#000" stroke-width="2.4"/>
<text transform="translate(588.0 2650.7) rotate(-45)" font-size="22.6" text-anchor="end">6K-LNP</text>
<path d="M451.8 2577.4L472.8 2577.4" stroke="#000" stroke-width="2"/>
<path d="M462.3 2577.4L462.3 2579.0" stroke="#000" stroke-width="2"/>
<path d="M508.6 2456.5L529.6 2456.5" stroke="#000" stroke-width="2"/>
<path d="M519.1 2456.5L519.1 2468.9" stroke="#000" stroke-width="2"/>
<path d="M565.9 2578.6L586.9 2578.6" stroke="#000" stroke-width="2"/>
<path d="M576.4 2578.6L576.4 2579.8" stroke="#000" stroke-width="2"/>
<circle cx="447.9" cy="2583.4" r="4.5" fill="#000"/>
<circle cx="462.7" cy="2577.8" r="4.5" fill="#000"/>
<circle cx="477.1" cy="2580.6" r="4.5" fill="#000"/>
<circle cx="510.7" cy="2460.1" r="4.5" fill="#000"/>
<circle cx="527.9" cy="2463.7" r="4.5" fill="#000"/>
<circle cx="519.5" cy="2485.7" r="4.5" fill="#000"/>
<circle cx="562.0" cy="2583.0" r="4.5" fill="#000"/>
<circle cx="576.4" cy="2579.0" r="4.5" fill="#000"/>
<circle cx="590.8" cy="2581.4" r="4.5" fill="#000"/>
<path d="M452.3 2384.1L594.4 2384.1" stroke="#000" stroke-width="2"/>
<text x="526.7" y="2376.9" font-size="19.5" text-anchor="middle"><tspan font-style="italic">p</tspan>=0.9946</text>
<path d="M513.9 2420.1L587.6 2420.1" stroke="#000" stroke-width="2"/>
<text x="552.3" y="2412.1" font-size="19.5" text-anchor="middle"><tspan font-style="italic">p</tspan><tspan font-family="'Noto Sans CJK SC', sans-serif" font-size="16.5" dx="1.5" dy="-0.9">＜</tspan><tspan dx="1.5" dy="0.9">0.0001</tspan></text>
<path d="M452.3 2442.9L525.1 2442.9" stroke="#000" stroke-width="2"/>
<text x="490.3" y="2438.1" font-size="19.5" text-anchor="middle"><tspan font-style="italic">p</tspan><tspan font-family="'Noto Sans CJK SC', sans-serif" font-size="16.5" dx="1.5" dy="-0.9">＜</tspan><tspan dx="1.5" dy="0.9">0.0001</tspan></text>
<text x="407.5" y="2364.9" font-size="21">×10<tspan font-size="13.0" dy="-7.6">6</tspan></text>
<rect x="747.6" y="2484.5" width="40.5" height="138.5" fill="#d8b656"/>
<rect x="804.5" y="2491.3" width="40.4" height="131.7" fill="#d8b656"/>
<rect x="861.3" y="2473.3" width="40.8" height="149.7" fill="#d8b656"/>
<path d="M730.0 2374.9L730.0 2624.2" stroke="#000" stroke-width="2.4"/>
<path d="M729.0 2623.0L921.8 2623.0" stroke="#000" stroke-width="2.4"/>
<path d="M717.0 2376.1L730.0 2376.1" stroke="#000" stroke-width="2.4"/>
<text x="709.2" y="2383.9" font-size="22" text-anchor="end">3</text>
<path d="M717.0 2458.1L730.0 2458.1" stroke="#000" stroke-width="2.4"/>
<text x="709.2" y="2465.9" font-size="22" text-anchor="end">2</text>
<path d="M717.0 2540.6L730.0 2540.6" stroke="#000" stroke-width="2.4"/>
<text x="709.2" y="2548.4" font-size="22" text-anchor="end">1</text>
<path d="M717.0 2623.0L730.0 2623.0" stroke="#000" stroke-width="2.4"/>
<text x="709.2" y="2630.8" font-size="22" text-anchor="end">0</text>
<path d="M767.9 2623.0L767.9 2634.0" stroke="#000" stroke-width="2.4"/>
<text transform="translate(777.5 2650.2) rotate(-45)" font-size="22.6" text-anchor="end">PBS</text>
<path d="M824.7 2623.0L824.7 2634.0" stroke="#000" stroke-width="2.4"/>
<text transform="translate(836.1 2650.2) rotate(-45)" font-size="22.6" text-anchor="end">TLNP</text>
<path d="M881.7 2623.0L881.7 2634.0" stroke="#000" stroke-width="2.4"/>
<text transform="translate(894.6 2650.2) rotate(-45)" font-size="22.6" text-anchor="end">6K-LNP</text>
<path d="M757.6 2467.3L778.6 2467.3" stroke="#000" stroke-width="2"/>
<path d="M768.1 2467.3L768.1 2484.5" stroke="#000" stroke-width="2"/>
<path d="M814.0 2468.1L835.0 2468.1" stroke="#000" stroke-width="2"/>
<path d="M824.5 2468.1L824.5 2491.3" stroke="#000" stroke-width="2"/>
<path d="M871.2 2467.3L892.2 2467.3" stroke="#000" stroke-width="2"/>
<path d="M881.7 2467.3L881.7 2473.3" stroke="#000" stroke-width="2"/>
<circle cx="768.1" cy="2464.9" r="4.5" fill="#000"/>
<circle cx="759.2" cy="2497.7" r="4.5" fill="#000"/>
<circle cx="776.5" cy="2494.9" r="4.5" fill="#000"/>
<circle cx="824.5" cy="2471.3" r="4.5" fill="#000"/>
<circle cx="824.5" cy="2488.5" r="4.5" fill="#000"/>
<circle cx="824.5" cy="2519.3" r="4.5" fill="#000"/>
<circle cx="881.7" cy="2466.9" r="4.5" fill="#000"/>
<circle cx="873.3" cy="2478.9" r="4.5" fill="#000"/>
<circle cx="890.5" cy="2477.7" r="4.5" fill="#000"/>
<path d="M752.0 2390.1L893.7 2390.1" stroke="#000" stroke-width="2"/>
<text x="822.9" y="2383.3" font-size="19.5" text-anchor="middle"><tspan font-style="italic">p</tspan>=0.7376</text>
<path d="M817.3 2413.3L890.9 2413.3" stroke="#000" stroke-width="2"/>
<text x="848.9" y="2408.9" font-size="19.5" text-anchor="middle"><tspan font-style="italic">p</tspan>=0.4718</text>
<path d="M762.1 2445.7L835.3 2445.7" stroke="#000" stroke-width="2"/>
<text x="796.9" y="2438.9" font-size="19.5" text-anchor="middle"><tspan font-style="italic">p</tspan>=0.8814</text>
<text x="720.0" y="2365.3" font-size="21">×10<tspan font-size="13.0" dy="-7.6">7</tspan></text>
<rect x="1085.1" y="2452.5" width="40.4" height="170.5" fill="#bd6c77"/>
<rect x="1141.9" y="2470.9" width="40.4" height="152.1" fill="#bd6c77"/>
<rect x="1198.7" y="2454.1" width="40.4" height="168.9" fill="#bd6c77"/>
<path d="M1067.0 2374.9L1067.0 2624.2" stroke="#000" stroke-width="2.4"/>
<path d="M1066.0 2623.0L1259.2 2623.0" stroke="#000" stroke-width="2.4"/>
<path d="M1054.0 2376.1L1067.0 2376.1" stroke="#000" stroke-width="2.4"/>
<text x="1048.0" y="2383.9" font-size="22" text-anchor="end">7</text>
<path d="M1054.0 2437.7L1067.0 2437.7" stroke="#000" stroke-width="2.4"/>
<text x="1048.0" y="2445.5" font-size="22" text-anchor="end">6</text>
<path d="M1054.0 2499.3L1067.0 2499.3" stroke="#000" stroke-width="2.4"/>
<text x="1048.0" y="2507.1" font-size="22" text-anchor="end">5</text>
<path d="M1054.0 2561.0L1067.0 2561.0" stroke="#000" stroke-width="2.4"/>
<text x="1048.0" y="2568.8" font-size="22" text-anchor="end">4</text>
<path d="M1054.0 2623.0L1067.0 2623.0" stroke="#000" stroke-width="2.4"/>
<text x="1048.0" y="2630.8" font-size="22" text-anchor="end">3</text>
<path d="M1105.3 2623.0L1105.3 2634.0" stroke="#000" stroke-width="2.4"/>
<text transform="translate(1116.7 2650.2) rotate(-45)" font-size="22.6" text-anchor="end">PBS</text>
<path d="M1162.1 2623.0L1162.1 2634.0" stroke="#000" stroke-width="2.4"/>
<text transform="translate(1176.0 2650.2) rotate(-45)" font-size="22.6" text-anchor="end">TLNP</text>
<path d="M1218.9 2623.0L1218.9 2634.0" stroke="#000" stroke-width="2.4"/>
<text transform="translate(1233.3 2650.2) rotate(-45)" font-size="22.6" text-anchor="end">6K-LNP</text>
<path d="M1094.6 2444.9L1115.6 2444.9" stroke="#000" stroke-width="2"/>
<path d="M1105.1 2444.9L1105.1 2452.5" stroke="#000" stroke-width="2"/>
<path d="M1151.8 2461.3L1172.8 2461.3" stroke="#000" stroke-width="2"/>
<path d="M1162.3 2461.3L1162.3 2470.9" stroke="#000" stroke-width="2"/>
<path d="M1208.6 2444.5L1229.6 2444.5" stroke="#000" stroke-width="2"/>
<path d="M1219.1 2444.5L1219.1 2454.1" stroke="#000" stroke-width="2"/>
<circle cx="1105.1" cy="2445.7" r="4.5" fill="#000"/>
<circle cx="1105.1" cy="2454.1" r="4.5" fill="#000"/>
<circle cx="1105.1" cy="2463.3" r="4.5" fill="#000"/>
<circle cx="1162.3" cy="2460.9" r="4.5" fill="#000"/>
<circle cx="1162.3" cy="2473.3" r="4.5" fill="#000"/>
<circle cx="1162.3" cy="2483.3" r="4.5" fill="#000"/>
<circle cx="1210.3" cy="2446.5" r="4.5" fill="#000"/>
<circle cx="1227.5" cy="2452.1" r="4.5" fill="#000"/>
<circle cx="1219.1" cy="2467.7" r="4.5" fill="#000"/>
<path d="M1094.3 2380.9L1236.3 2380.9" stroke="#000" stroke-width="2"/>
<text x="1171.5" y="2373.7" font-size="19.5" text-anchor="middle"><tspan font-style="italic">p</tspan>=0.9797</text>
<path d="M1159.1 2403.7L1233.1 2403.7" stroke="#000" stroke-width="2"/>
<text x="1194.3" y="2399.3" font-size="19.5" text-anchor="middle"><tspan font-style="italic">p</tspan>=0.1979</text>
<path d="M1104.3 2430.1L1177.5 2430.1" stroke="#000" stroke-width="2"/>
<text x="1135.5" y="2424.9" font-size="19.5" text-anchor="middle"><tspan font-style="italic">p</tspan>=0.1549</text>
<text x="1055.4" y="2364.1" font-size="21">×10<tspan font-size="13.0" dy="-7.6">6</tspan></text>
<rect x="1431.7" y="2586.6" width="40.8" height="36.7" fill="#6f8fc4"/>
<rect x="1431.7" y="2505.7" width="40.8" height="81.2" fill="#d8b656"/>
<rect x="1431.7" y="2489.3" width="40.8" height="16.7" fill="#bd6c77"/>
<rect x="1431.7" y="2456.5" width="40.8" height="33.1" fill="#8b853e"/>
<rect x="1489.0" y="2512.1" width="40.4" height="111.2" fill="#6f8fc4"/>
<rect x="1489.0" y="2506.1" width="40.4" height="6.3" fill="#d8b656"/>
<rect x="1489.0" y="2504.1" width="40.4" height="2.3" fill="#bd6c77"/>
<rect x="1489.0" y="2456.5" width="40.4" height="47.9" fill="#8b853e"/>
<rect x="1545.4" y="2621.0" width="40.8" height="2.3" fill="#6f8fc4"/>
<rect x="1545.4" y="2619.0" width="40.8" height="2.3" fill="#d8b656"/>
<rect x="1545.4" y="2617.4" width="40.8" height="1.9" fill="#bd6c77"/>
<rect x="1545.4" y="2456.5" width="40.8" height="161.2" fill="#8b853e"/>
<path d="M1414.9 2374.1L1414.9 2624.2" stroke="#000" stroke-width="2.4"/>
<path d="M1413.9 2623.0L1606.2 2623.0" stroke="#000" stroke-width="2.4"/>
<path d="M1401.9 2375.3L1414.9 2375.3" stroke="#000" stroke-width="2.4"/>
<text x="1397.4" y="2383.1" font-size="22" text-anchor="end">1.5</text>
<path d="M1401.9 2458.1L1414.9 2458.1" stroke="#000" stroke-width="2.4"/>
<text x="1397.4" y="2465.9" font-size="22" text-anchor="end">1.0</text>
<path d="M1401.9 2540.6L1414.9 2540.6" stroke="#000" stroke-width="2.4"/>
<text x="1397.4" y="2548.4" font-size="22" text-anchor="end">0.5</text>
<path d="M1401.9 2623.0L1414.9 2623.0" stroke="#000" stroke-width="2.4"/>
<text x="1397.4" y="2630.8" font-size="22" text-anchor="end">0</text>
<path d="M1406.9 2416.5L1414.9 2416.5" stroke="#000" stroke-width="2.4"/>
<path d="M1406.9 2499.3L1414.9 2499.3" stroke="#000" stroke-width="2.4"/>
<path d="M1406.9 2581.8L1414.9 2581.8" stroke="#000" stroke-width="2.4"/>
<path d="M1452.1 2623.0L1452.1 2634.0" stroke="#000" stroke-width="2.4"/>
<text transform="translate(1464.5 2650.2) rotate(-45)" font-size="22.6" text-anchor="end">PBS</text>
<path d="M1509.2 2623.0L1509.2 2634.0" stroke="#000" stroke-width="2.4"/>
<text transform="translate(1524.6 2650.2) rotate(-45)" font-size="22.6" text-anchor="end">TLNP</text>
<path d="M1565.8 2623.0L1565.8 2634.0" stroke="#000" stroke-width="2.4"/>
<text transform="translate(1581.7 2650.2) rotate(-45)" font-size="22.6" text-anchor="end">6K-LNP</text>
<path d="M1441.2 2442.9L1462.2 2442.9" stroke="#000" stroke-width="2"/>
<path d="M1451.7 2442.9L1451.7 2458.1" stroke="#000" stroke-width="2"/>
<path d="M1441.2 2476.5L1462.2 2476.5" stroke="#000" stroke-width="2"/>
<path d="M1441.2 2481.3L1462.2 2481.3" stroke="#000" stroke-width="2"/>
<path d="M1451.7 2481.3L1451.7 2506.9" stroke="#000" stroke-width="2"/>
<path d="M1441.2 2557.8L1462.2 2557.8" stroke="#000" stroke-width="2"/>
<path d="M1451.7 2557.8L1451.7 2588.2" stroke="#000" stroke-width="2"/>
<path d="M1498.5 2454.1L1519.5 2454.1" stroke="#000" stroke-width="2"/>
<path d="M1509.0 2454.1L1509.0 2458.1" stroke="#000" stroke-width="2"/>
<path d="M1498.5 2503.7L1519.5 2503.7" stroke="#000" stroke-width="4"/>
<path d="M1509.0 2503.7L1509.0 2514.1" stroke="#000" stroke-width="2"/>
<path d="M1555.3 2456.9L1576.3 2456.9" stroke="#000" stroke-width="2"/>
<path d="M1565.8 2456.9L1565.8 2458.5" stroke="#000" stroke-width="2"/>
<path d="M1555.3 2618.6L1576.3 2618.6" stroke="#000" stroke-width="3.5"/>
<path d="M1565.8 2618.6L1565.8 2623.0" stroke="#000" stroke-width="2"/>
<text transform="translate(1357.3 2493.6) rotate(-90)" font-size="22.85" text-anchor="middle">Percentage of radiance change</text>
<rect x="1668.3" y="2350.4" width="36.4" height="22.9" fill="#8b853e"/>
<text x="1718.7" y="2366.5" font-size="22.4">testis</text>
<rect x="1668.3" y="2387.7" width="36.4" height="23.2" fill="#6f8fc4"/>
<text x="1718.7" y="2405.3" font-size="22.4">liver</text>
<rect x="1668.3" y="2425.7" width="36.4" height="22.8" fill="#d8b656"/>
<text x="1718.7" y="2444.5" font-size="22.4">lung</text>
<rect x="1668.3" y="2463.3" width="36.4" height="22.8" fill="#bd6c77"/>
<text x="1718.7" y="2483.7" font-size="22.4">spleen</text>
<text x="-1.6" y="19.9" font-size="38.5" font-weight="bold" fill="#1a0f0a">a</text>
<text x="-0.6" y="210.0" font-size="38.5" font-weight="bold" fill="#1a0f0a">b</text>
<text x="1297.6" y="209.6" font-size="38.5" font-weight="bold" fill="#1a0f0a">c</text>
<text x="-0.2" y="649.2" font-size="38.5" font-weight="bold" fill="#1a0f0a">d</text>
<text x="-0.5" y="924.5" font-size="38.5" font-weight="bold" fill="#1a0f0a">e</text>
<text x="1297.8" y="924.1" font-size="38.5" font-weight="bold" fill="#1a0f0a">f</text>
<text x="10.3" y="1358.9" font-size="38.5" font-weight="bold" fill="#1a0f0a">g</text>
<text x="10.1" y="1661.1" font-size="38.5" font-weight="bold" fill="#1a0f0a">h</text>
<text x="1290.9" y="1661.1" font-size="38.5" font-weight="bold" fill="#1a0f0a">i</text>
<text x="9.7" y="2067.8" font-size="38.5" font-weight="bold" fill="#1a0f0a">j</text>
<text x="16.0" y="2347.1" font-size="38.5" font-weight="bold" fill="#1a0f0a">k</text>
<text x="1308.4" y="2346.9" font-size="38.5" font-weight="bold" fill="#1a0f0a">l</text>
<text x="58.5" y="23.7" font-size="23" fill="#8d3b5a">Pregnant mice</text>
<text x="222.5" y="23.7" font-size="23" fill="#8d3b5a">(E16.5)</text>
<text x="82.5" y="160.0" font-size="23" fill="#8d3b5a">i.v.</text>
<text x="125.0" y="160.0" font-size="23" fill="#8d3b5a">LNP encapsulating</text>
<text x="125.0" y="182.5" font-size="23" fill="#8d3b5a">EGFP mRNA</text>
<text x="85.0" y="815.0" font-size="23" fill="#8d3b5a">i.v.</text>
<text x="123.5" y="815.0" font-size="23" fill="#8d3b5a">LNP encapsulating</text>
<text x="124.0" y="838.0" font-size="23" fill="#8d3b5a">EGFP mRNA</text>
<text x="163.0" y="1465.0" font-size="23" fill="#8d3b5a">LNP encapsulating</text>
<text x="193.0" y="1487.5" font-size="23" fill="#8d3b5a">EGFP mRNA</text>
<text x="48.0" y="1517.0" font-size="23" fill="#8d3b5a">i.p.</text>
<text x="170.4" y="2142.6" font-size="23" fill="#8d3b5a">LNP encapsulating</text>
<text x="199.5" y="2165.0" font-size="23" fill="#8d3b5a">EGFP mRNA</text>
<text x="58.0" y="2201.0" font-size="23" fill="#8d3b5a">i.p.</text>
</svg>
</body></html>
